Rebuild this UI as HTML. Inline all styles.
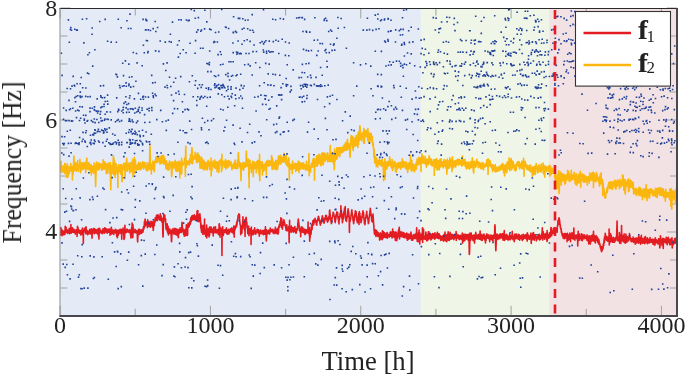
<!DOCTYPE html>
<html><head><meta charset="utf-8"><style>
html,body{margin:0;padding:0;background:#fff;}
svg{display:block;}
text{font-family:"Liberation Serif",serif;fill:#222;}
</style></head><body>
<svg width="685" height="379" viewBox="0 0 685 379">
<defs><filter id="bl" x="-2%" y="-2%" width="104%" height="104%"><feGaussianBlur stdDeviation="0.3"/></filter></defs>
<rect width="685" height="379" fill="#fff"/>
<g filter="url(#bl)">
<rect x="60.4" y="8.5" width="360.49" height="307.30" fill="#e4ebf6"/>
<rect x="420.89" y="8.5" width="128.31" height="307.30" fill="#eff5e7"/>
<rect x="549.2" y="8.5" width="127.80" height="307.30" fill="#f3e2e4"/>
<path d="M60.10 315.80v-10M60.10 8.50v10M135.26 315.80v-7M135.26 8.50v7M210.43 315.80v-10M210.43 8.50v10M285.59 315.80v-7M285.59 8.50v7M360.76 315.80v-10M360.76 8.50v10M435.93 315.80v-7M435.93 8.50v7M511.09 315.80v-10M511.09 8.50v10M586.25 315.80v-7M586.25 8.50v7M661.42 315.80v-10M661.42 8.50v10M60.40 316.00h7M677.00 316.00h-7M60.40 288.00h7M677.00 288.00h-7M60.40 260.00h7M677.00 260.00h-7M60.40 232.00h10M677.00 232.00h-10M60.40 204.00h7M677.00 204.00h-7M60.40 176.00h7M677.00 176.00h-7M60.40 148.00h7M677.00 148.00h-7M60.40 120.00h10M677.00 120.00h-10M60.40 92.00h7M677.00 92.00h-7M60.40 64.00h7M677.00 64.00h-7M60.40 36.00h7M677.00 36.00h-7M60.40 8.00h10M677.00 8.00h-10" stroke="#9a9a9a" stroke-width="0.9" fill="none"/>
<path d="M60.70 170.0 L60.85 170.2 L61.00 164.8 L61.15 161.2 L61.30 172.6 L61.45 170.5 L61.60 165.6 L61.75 167.6 L61.90 167.7 L62.05 166.8 L62.20 170.4 L62.35 167.0 L62.50 167.0 L62.65 166.1 L62.80 168.8 L62.95 167.8 L63.10 171.9 L63.25 166.5 L63.40 168.1 L63.55 166.2 L63.70 171.1 L63.85 169.3 L64.00 169.0 L64.15 168.5 L64.30 166.5 L64.45 169.2 L64.60 173.4 L64.75 163.6 L64.90 163.8 L65.05 163.6 L65.20 169.7 L65.35 172.0 L65.50 169.7 L65.65 172.0 L65.80 169.1 L65.95 169.4 L66.10 174.0 L66.25 170.9 L66.40 166.3 L66.55 169.5 L66.70 177.4 L66.85 170.3 L67.00 165.7 L67.15 163.8 L67.30 176.2 L67.45 173.7 L67.60 169.5 L67.75 174.5 L67.90 165.6 L68.05 177.1 L68.20 170.4 L68.35 167.3 L68.50 170.6 L68.65 172.1 L68.80 169.4 L68.95 170.2 L69.10 173.9 L69.25 170.2 L69.40 167.6 L69.55 167.4 L69.70 170.6 L69.85 168.2 L70.00 166.9 L70.15 170.4 L70.30 168.7 L70.45 166.3 L70.60 165.1 L70.75 163.5 L70.90 171.0 L71.05 168.4 L71.20 171.2 L71.35 167.9 L71.50 166.2 L71.65 170.4 L71.80 169.5 L71.95 166.4 L72.10 166.4 L72.25 171.7 L72.40 180.0 L72.55 169.5 L72.70 172.4 L72.85 174.1 L73.00 168.4 L73.15 174.1 L73.30 166.4 L73.45 167.4 L73.60 162.9 L73.75 159.4 L73.90 156.0 L74.05 160.1 L74.20 162.8 L74.35 169.9 L74.50 165.9 L74.65 170.8 L74.80 170.5 L74.95 168.3 L75.10 166.3 L75.25 166.8 L75.40 165.2 L75.55 165.4 L75.70 162.5 L75.85 165.7 L76.00 167.0 L76.15 170.4 L76.30 167.3 L76.45 171.3 L76.60 167.1 L76.75 166.3 L76.90 169.9 L77.05 163.9 L77.20 169.5 L77.35 164.6 L77.50 165.6 L77.65 160.6 L77.80 168.5 L77.95 167.7 L78.10 169.5 L78.25 171.2 L78.40 165.8 L78.55 166.1 L78.70 165.7 L78.85 166.0 L79.00 165.5 L79.15 166.3 L79.30 167.8 L79.45 164.8 L79.60 163.5 L79.75 164.1 L79.90 159.3 L80.05 165.1 L80.20 166.8 L80.35 172.4 L80.50 172.7 L80.65 165.6 L80.80 167.3 L80.95 166.1 L81.10 170.8 L81.25 167.1 L81.40 169.6 L81.55 164.7 L81.70 162.6 L81.85 167.4 L82.00 165.2 L82.15 167.8 L82.30 164.2 L82.45 167.3 L82.60 165.1 L82.75 169.3 L82.90 166.7 L83.05 169.5 L83.20 162.9 L83.35 166.3 L83.50 163.8 L83.65 169.0 L83.80 165.0 L83.95 167.0 L84.10 168.1 L84.25 166.7 L84.40 166.8 L84.55 165.8 L84.70 163.4 L84.85 167.2 L85.00 166.7 L85.15 162.4 L85.30 168.4 L85.45 165.7 L85.60 169.9 L85.75 172.7 L85.90 169.7 L86.05 166.8 L86.20 162.8 L86.35 166.9 L86.50 162.7 L86.65 159.0 L86.80 158.1 L86.95 161.1 L87.10 164.0 L87.25 165.4 L87.40 164.6 L87.55 169.2 L87.70 166.6 L87.85 165.0 L88.00 164.1 L88.15 165.0 L88.30 165.3 L88.45 169.6 L88.60 167.1 L88.75 165.1 L88.90 167.0 L89.05 162.6 L89.20 166.4 L89.35 168.1 L89.50 167.5 L89.65 164.4 L89.80 168.0 L89.95 169.3 L90.10 166.6 L90.25 166.5 L90.40 172.3 L90.55 166.6 L90.70 168.9 L90.85 165.9 L91.00 169.5 L91.15 164.9 L91.30 175.0 L91.45 171.6 L91.60 165.7 L91.75 165.7 L91.90 172.3 L92.05 170.9 L92.20 169.7 L92.35 170.5 L92.50 168.6 L92.65 170.6 L92.80 169.1 L92.95 170.5 L93.10 166.6 L93.25 170.9 L93.40 171.7 L93.55 166.3 L93.70 173.2 L93.85 169.7 L94.00 167.0 L94.15 163.1 L94.30 169.8 L94.45 170.4 L94.60 166.5 L94.75 166.3 L94.90 170.1 L95.05 166.4 L95.20 167.5 L95.35 176.4 L95.50 181.6 L95.65 186.5 L95.80 179.4 L95.95 175.3 L96.10 163.1 L96.25 171.6 L96.40 164.3 L96.55 164.7 L96.70 162.1 L96.85 167.2 L97.00 167.6 L97.15 169.0 L97.30 168.3 L97.45 164.0 L97.60 165.8 L97.75 165.4 L97.90 166.1 L98.05 169.9 L98.20 166.5 L98.35 167.1 L98.50 164.0 L98.65 167.4 L98.80 162.7 L98.95 165.9 L99.10 169.3 L99.25 169.5 L99.40 165.8 L99.55 165.7 L99.70 166.3 L99.85 168.1 L100.00 167.4 L100.15 164.3 L100.30 165.9 L100.45 164.4 L100.60 165.4 L100.75 164.5 L100.90 164.7 L101.05 163.8 L101.20 164.8 L101.35 166.2 L101.50 167.1 L101.65 170.5 L101.80 168.4 L101.95 166.7 L102.10 168.4 L102.25 164.9 L102.40 169.4 L102.55 168.1 L102.70 164.5 L102.85 166.2 L103.00 169.3 L103.15 159.8 L103.30 163.4 L103.45 168.5 L103.60 161.7 L103.75 164.6 L103.90 167.3 L104.05 168.6 L104.20 167.8 L104.35 169.1 L104.50 166.2 L104.65 167.2 L104.80 161.9 L104.95 165.5 L105.10 167.0 L105.25 163.1 L105.40 164.1 L105.55 166.6 L105.70 168.7 L105.85 168.7 L106.00 167.7 L106.15 163.7 L106.30 173.6 L106.45 171.6 L106.60 168.2 L106.75 166.2 L106.90 164.6 L107.05 170.0 L107.20 165.0 L107.35 173.2 L107.50 168.2 L107.65 172.8 L107.80 165.2 L107.95 168.4 L108.10 162.9 L108.25 163.6 L108.40 167.7 L108.55 168.3 L108.70 164.0 L108.85 166.8 L109.00 167.5 L109.15 164.2 L109.30 167.1 L109.45 167.8 L109.60 173.5 L109.75 163.6 L109.90 171.2 L110.05 170.2 L110.20 168.2 L110.35 162.5 L110.50 177.6 L110.65 182.6 L110.80 189.8 L110.95 181.2 L111.10 174.8 L111.25 168.6 L111.40 169.6 L111.55 167.5 L111.70 171.4 L111.85 166.4 L112.00 165.5 L112.15 172.9 L112.30 169.9 L112.45 168.7 L112.60 171.6 L112.75 169.9 L112.90 163.4 L113.05 169.4 L113.20 162.6 L113.35 155.9 L113.50 174.5 L113.65 163.3 L113.80 158.8 L113.95 158.2 L114.10 161.0 L114.25 164.0 L114.40 164.8 L114.55 161.2 L114.70 173.1 L114.85 163.6 L115.00 177.5 L115.15 173.1 L115.30 169.5 L115.45 174.6 L115.60 165.3 L115.75 170.2 L115.90 163.6 L116.05 163.6 L116.20 168.5 L116.35 167.1 L116.50 169.2 L116.65 170.0 L116.80 168.0 L116.95 171.6 L117.10 169.3 L117.25 173.7 L117.40 167.2 L117.55 168.8 L117.70 167.4 L117.85 187.4 L118.00 171.5 L118.15 168.1 L118.30 173.2 L118.45 164.7 L118.60 171.0 L118.75 167.6 L118.90 170.1 L119.05 167.8 L119.20 169.9 L119.35 168.1 L119.50 171.6 L119.65 168.6 L119.80 165.4 L119.95 166.4 L120.10 165.5 L120.25 164.8 L120.40 170.8 L120.55 171.9 L120.70 166.6 L120.85 174.2 L121.00 168.7 L121.15 164.9 L121.30 169.1 L121.45 168.6 L121.60 165.8 L121.75 174.3 L121.90 180.2 L122.05 181.8 L122.20 180.0 L122.35 173.3 L122.50 168.1 L122.65 166.2 L122.80 166.4 L122.95 165.3 L123.10 165.8 L123.25 166.4 L123.40 166.6 L123.55 163.5 L123.70 169.6 L123.85 167.5 L124.00 167.8 L124.15 168.8 L124.30 164.3 L124.45 167.4 L124.60 165.9 L124.75 169.8 L124.90 165.0 L125.05 178.4 L125.20 162.8 L125.35 165.1 L125.50 171.6 L125.65 169.5 L125.80 170.2 L125.95 169.7 L126.10 168.1 L126.25 170.3 L126.40 163.6 L126.55 160.4 L126.70 158.4 L126.85 161.3 L127.00 163.7 L127.15 165.9 L127.30 168.0 L127.45 171.2 L127.60 164.4 L127.75 165.2 L127.90 167.3 L128.05 165.6 L128.20 166.2 L128.35 169.1 L128.50 166.8 L128.65 169.0 L128.80 168.6 L128.95 166.0 L129.10 162.7 L129.25 165.5 L129.40 166.0 L129.55 166.4 L129.70 173.0 L129.85 170.5 L130.00 167.3 L130.15 166.4 L130.30 165.2 L130.45 164.2 L130.60 171.4 L130.75 166.9 L130.90 164.6 L131.05 162.5 L131.20 169.0 L131.35 165.7 L131.50 171.4 L131.65 163.3 L131.80 167.7 L131.95 165.8 L132.10 165.5 L132.25 166.0 L132.40 164.2 L132.55 159.3 L132.70 161.6 L132.85 161.9 L133.00 176.9 L133.15 170.5 L133.30 167.7 L133.45 164.6 L133.60 167.9 L133.75 167.0 L133.90 170.1 L134.05 169.3 L134.20 165.3 L134.35 157.4 L134.50 173.6 L134.65 164.2 L134.80 161.0 L134.95 163.3 L135.10 162.1 L135.25 165.8 L135.40 160.0 L135.55 167.7 L135.70 167.8 L135.85 165.5 L136.00 166.0 L136.15 167.7 L136.30 170.0 L136.45 165.9 L136.60 169.0 L136.75 168.1 L136.90 168.6 L137.05 168.7 L137.20 167.5 L137.35 165.1 L137.50 169.0 L137.65 169.7 L137.80 164.1 L137.95 165.7 L138.10 163.5 L138.25 167.2 L138.40 167.2 L138.55 165.5 L138.70 165.7 L138.85 162.3 L139.00 167.7 L139.15 169.7 L139.30 167.2 L139.45 169.0 L139.60 167.0 L139.75 165.0 L139.90 164.6 L140.05 165.0 L140.20 166.4 L140.35 165.9 L140.50 162.7 L140.65 169.7 L140.80 167.1 L140.95 169.8 L141.10 167.2 L141.25 168.7 L141.40 165.4 L141.55 166.7 L141.70 167.5 L141.85 165.8 L142.00 166.7 L142.15 166.6 L142.30 164.1 L142.45 165.5 L142.60 161.7 L142.75 166.6 L142.90 164.0 L143.05 165.1 L143.20 165.2 L143.35 165.7 L143.50 169.0 L143.65 165.7 L143.80 162.2 L143.95 165.1 L144.10 164.0 L144.25 166.9 L144.40 164.3 L144.55 165.4 L144.70 166.2 L144.85 164.2 L145.00 162.6 L145.15 166.6 L145.30 167.2 L145.45 168.1 L145.60 165.6 L145.75 165.9 L145.90 168.6 L146.05 167.2 L146.20 170.1 L146.35 168.3 L146.50 166.3 L146.65 169.2 L146.80 170.6 L146.95 166.4 L147.10 167.6 L147.25 162.6 L147.40 166.5 L147.55 166.2 L147.70 170.6 L147.85 168.3 L148.00 168.0 L148.15 166.0 L148.30 168.1 L148.45 167.3 L148.60 165.6 L148.75 163.3 L148.90 168.5 L149.05 169.2 L149.20 165.5 L149.35 167.0 L149.50 163.5 L149.65 158.1 L149.80 149.1 L149.95 145.2 L150.10 149.7 L150.25 157.7 L150.40 169.5 L150.55 163.0 L150.70 168.2 L150.85 166.5 L151.00 167.6 L151.15 166.3 L151.30 173.9 L151.45 165.4 L151.60 165.3 L151.75 165.0 L151.90 164.4 L152.05 166.3 L152.20 169.4 L152.35 167.1 L152.50 163.3 L152.65 165.4 L152.80 167.6 L152.95 161.1 L153.10 163.6 L153.25 166.6 L153.40 166.7 L153.55 168.4 L153.70 169.5 L153.85 161.8 L154.00 171.2 L154.15 168.4 L154.30 171.6 L154.45 169.7 L154.60 162.8 L154.75 161.8 L154.90 162.0 L155.05 162.4 L155.20 160.9 L155.35 160.6 L155.50 162.4 L155.65 160.0 L155.80 159.0 L155.95 158.3 L156.10 156.9 L156.25 162.8 L156.40 159.0 L156.55 157.2 L156.70 161.8 L156.85 159.6 L157.00 161.5 L157.15 162.5 L157.30 159.1 L157.45 158.9 L157.60 160.0 L157.75 161.0 L157.90 160.0 L158.05 160.2 L158.20 158.4 L158.35 160.8 L158.50 159.3 L158.65 157.7 L158.80 159.0 L158.95 159.2 L159.10 156.6 L159.25 162.3 L159.40 161.4 L159.55 158.7 L159.70 160.2 L159.85 157.6 L160.00 163.9 L160.15 161.6 L160.30 157.1 L160.45 158.0 L160.60 162.8 L160.75 161.8 L160.90 161.9 L161.05 163.6 L161.20 156.4 L161.35 159.8 L161.50 161.5 L161.65 155.6 L161.80 158.9 L161.95 161.3 L162.10 162.6 L162.25 159.2 L162.40 159.5 L162.55 163.0 L162.70 158.5 L162.85 155.8 L163.00 158.8 L163.15 157.9 L163.30 160.5 L163.45 157.3 L163.60 155.4 L163.75 164.2 L163.90 156.6 L164.05 158.6 L164.20 160.2 L164.35 161.6 L164.50 159.9 L164.65 161.3 L164.80 159.8 L164.95 158.3 L165.10 161.6 L165.25 161.8 L165.40 162.6 L165.55 165.1 L165.70 163.3 L165.85 167.0 L166.00 168.6 L166.15 161.0 L166.30 166.9 L166.45 165.1 L166.60 160.7 L166.75 167.1 L166.90 164.6 L167.05 165.3 L167.20 164.6 L167.35 169.1 L167.50 169.5 L167.65 166.5 L167.80 167.0 L167.95 169.0 L168.10 170.2 L168.25 163.9 L168.40 166.5 L168.55 165.7 L168.70 164.9 L168.85 169.1 L169.00 166.8 L169.15 167.0 L169.30 169.6 L169.45 161.1 L169.60 165.5 L169.75 163.7 L169.90 164.5 L170.05 162.0 L170.20 166.7 L170.35 165.3 L170.50 163.0 L170.65 163.7 L170.80 164.1 L170.95 164.4 L171.10 167.5 L171.25 165.8 L171.40 171.9 L171.55 175.5 L171.70 176.6 L171.85 174.3 L172.00 171.0 L172.15 161.7 L172.30 164.4 L172.45 167.7 L172.60 167.6 L172.75 166.3 L172.90 166.6 L173.05 164.9 L173.20 163.5 L173.35 166.9 L173.50 168.2 L173.65 165.7 L173.80 163.5 L173.95 167.8 L174.10 167.3 L174.25 161.7 L174.40 164.6 L174.55 166.3 L174.70 167.5 L174.85 167.5 L175.00 167.9 L175.15 165.6 L175.30 160.4 L175.45 162.5 L175.60 164.9 L175.75 170.7 L175.90 168.7 L176.05 164.3 L176.20 166.4 L176.35 163.7 L176.50 171.2 L176.65 162.4 L176.80 164.6 L176.95 165.9 L177.10 171.5 L177.25 167.2 L177.40 166.2 L177.55 169.2 L177.70 165.0 L177.85 169.6 L178.00 166.7 L178.15 161.9 L178.30 166.4 L178.45 163.6 L178.60 163.6 L178.75 165.0 L178.90 171.3 L179.05 166.9 L179.20 161.4 L179.35 171.0 L179.50 162.5 L179.65 161.2 L179.80 178.0 L179.95 165.1 L180.10 170.5 L180.25 162.8 L180.40 162.8 L180.55 162.8 L180.70 162.8 L180.85 172.0 L181.00 163.8 L181.15 162.9 L181.30 163.3 L181.45 174.1 L181.60 158.3 L181.75 173.3 L181.90 161.5 L182.05 160.7 L182.20 165.0 L182.35 164.9 L182.50 164.7 L182.65 165.1 L182.80 165.3 L182.95 164.0 L183.10 163.6 L183.25 164.6 L183.40 163.7 L183.55 163.0 L183.70 163.7 L183.85 163.9 L184.00 162.8 L184.15 162.9 L184.30 160.5 L184.45 162.8 L184.60 158.0 L184.75 162.2 L184.90 158.3 L185.05 157.3 L185.20 166.9 L185.35 176.5 L185.50 161.2 L185.65 148.1 L185.80 146.3 L185.95 161.7 L186.10 164.9 L186.25 167.5 L186.40 164.0 L186.55 161.7 L186.70 160.9 L186.85 162.3 L187.00 164.7 L187.15 162.6 L187.30 164.1 L187.45 164.2 L187.60 163.9 L187.75 164.2 L187.90 163.8 L188.05 161.3 L188.20 162.8 L188.35 163.1 L188.50 164.5 L188.65 161.3 L188.80 162.0 L188.95 164.6 L189.10 162.5 L189.25 164.9 L189.40 160.2 L189.55 161.5 L189.70 158.9 L189.85 161.5 L190.00 158.6 L190.15 160.4 L190.30 162.3 L190.45 160.9 L190.60 154.5 L190.75 159.9 L190.90 157.8 L191.05 156.9 L191.20 157.3 L191.35 157.5 L191.50 163.4 L191.65 153.1 L191.80 149.0 L191.95 147.6 L192.10 149.3 L192.25 153.1 L192.40 159.0 L192.55 160.8 L192.70 163.7 L192.85 155.7 L193.00 160.7 L193.15 157.1 L193.30 158.0 L193.45 158.4 L193.60 158.5 L193.75 156.7 L193.90 157.0 L194.05 157.9 L194.20 157.4 L194.35 158.7 L194.50 158.8 L194.65 157.0 L194.80 158.5 L194.95 158.8 L195.10 152.2 L195.25 156.5 L195.40 155.9 L195.55 157.1 L195.70 155.2 L195.85 153.5 L196.00 156.2 L196.15 158.5 L196.30 158.2 L196.45 162.5 L196.60 158.8 L196.75 162.4 L196.90 159.6 L197.05 155.1 L197.20 159.9 L197.35 162.7 L197.50 162.6 L197.65 159.2 L197.80 152.9 L197.95 158.9 L198.10 158.1 L198.25 159.3 L198.40 155.6 L198.55 154.7 L198.70 161.1 L198.85 158.2 L199.00 155.6 L199.15 157.3 L199.30 155.6 L199.45 159.7 L199.60 161.7 L199.75 160.9 L199.90 165.8 L200.05 168.2 L200.20 166.3 L200.35 159.9 L200.50 166.4 L200.65 165.2 L200.80 167.6 L200.95 165.3 L201.10 157.1 L201.25 164.0 L201.40 165.6 L201.55 168.3 L201.70 167.2 L201.85 168.2 L202.00 158.0 L202.15 168.2 L202.30 163.3 L202.45 165.9 L202.60 167.1 L202.75 162.7 L202.90 166.6 L203.05 161.0 L203.20 165.6 L203.35 165.9 L203.50 169.8 L203.65 166.3 L203.80 160.1 L203.95 167.3 L204.10 164.9 L204.25 169.7 L204.40 162.8 L204.55 162.9 L204.70 169.8 L204.85 164.6 L205.00 165.7 L205.15 162.3 L205.30 164.8 L205.45 163.2 L205.60 166.6 L205.75 162.6 L205.90 162.6 L206.05 168.7 L206.20 165.8 L206.35 167.5 L206.50 165.2 L206.65 168.3 L206.80 164.9 L206.95 170.0 L207.10 163.0 L207.25 169.7 L207.40 164.1 L207.55 166.6 L207.70 162.0 L207.85 166.8 L208.00 161.1 L208.15 160.2 L208.30 163.3 L208.45 162.6 L208.60 165.7 L208.75 166.2 L208.90 163.3 L209.05 166.2 L209.20 163.2 L209.35 164.2 L209.50 164.9 L209.65 169.7 L209.80 163.8 L209.95 162.0 L210.10 166.4 L210.25 165.5 L210.40 166.6 L210.55 161.5 L210.70 163.7 L210.85 165.8 L211.00 158.0 L211.15 175.9 L211.30 168.5 L211.45 164.7 L211.60 165.7 L211.75 164.2 L211.90 170.8 L212.05 165.5 L212.20 163.8 L212.35 166.2 L212.50 164.8 L212.65 163.6 L212.80 163.7 L212.95 162.8 L213.10 161.0 L213.25 163.7 L213.40 161.3 L213.55 162.0 L213.70 163.6 L213.85 165.9 L214.00 167.6 L214.15 164.4 L214.30 164.8 L214.45 166.8 L214.60 164.1 L214.75 160.1 L214.90 161.0 L215.05 167.9 L215.20 166.6 L215.35 167.0 L215.50 164.2 L215.65 168.0 L215.80 168.3 L215.95 165.3 L216.10 165.3 L216.25 162.1 L216.40 168.6 L216.55 162.1 L216.70 166.4 L216.85 167.0 L217.00 164.7 L217.15 171.8 L217.30 166.5 L217.45 166.3 L217.60 167.1 L217.75 165.4 L217.90 162.1 L218.05 168.3 L218.20 165.7 L218.35 163.6 L218.50 166.7 L218.65 162.6 L218.80 172.4 L218.95 164.3 L219.10 169.3 L219.25 160.8 L219.40 161.0 L219.55 160.9 L219.70 162.7 L219.85 162.5 L220.00 160.3 L220.15 160.2 L220.30 161.2 L220.45 162.0 L220.60 160.1 L220.75 163.0 L220.90 163.7 L221.05 164.8 L221.20 166.0 L221.35 167.0 L221.50 171.8 L221.65 157.4 L221.80 158.9 L221.95 154.2 L222.10 169.7 L222.25 160.4 L222.40 161.8 L222.55 164.0 L222.70 160.9 L222.85 161.9 L223.00 164.8 L223.15 164.4 L223.30 164.4 L223.45 163.5 L223.60 163.2 L223.75 163.9 L223.90 163.7 L224.05 162.3 L224.20 167.2 L224.35 161.2 L224.50 162.7 L224.65 164.8 L224.80 164.3 L224.95 166.4 L225.10 165.5 L225.25 161.4 L225.40 163.7 L225.55 159.6 L225.70 164.5 L225.85 169.1 L226.00 161.8 L226.15 163.8 L226.30 164.5 L226.45 161.0 L226.60 163.2 L226.75 161.5 L226.90 162.8 L227.05 164.9 L227.20 165.7 L227.35 166.8 L227.50 162.3 L227.65 167.9 L227.80 165.2 L227.95 164.4 L228.10 160.9 L228.25 163.4 L228.40 166.5 L228.55 166.6 L228.70 162.8 L228.85 164.9 L229.00 160.2 L229.15 164.8 L229.30 164.3 L229.45 164.4 L229.60 162.3 L229.75 163.9 L229.90 162.9 L230.05 165.1 L230.20 164.4 L230.35 162.5 L230.50 164.0 L230.65 162.4 L230.80 162.7 L230.95 161.6 L231.10 164.2 L231.25 166.9 L231.40 164.9 L231.55 164.0 L231.70 166.4 L231.85 169.6 L232.00 167.6 L232.15 166.9 L232.30 168.9 L232.45 165.0 L232.60 168.7 L232.75 167.0 L232.90 164.7 L233.05 167.8 L233.20 166.3 L233.35 166.6 L233.50 168.0 L233.65 164.7 L233.80 163.8 L233.95 165.4 L234.10 162.5 L234.25 168.2 L234.40 167.1 L234.55 166.9 L234.70 166.1 L234.85 164.7 L235.00 167.0 L235.15 160.1 L235.30 165.8 L235.45 164.7 L235.60 168.5 L235.75 166.8 L235.90 167.2 L236.05 165.6 L236.20 166.8 L236.35 164.0 L236.50 165.6 L236.65 164.6 L236.80 168.2 L236.95 164.8 L237.10 163.9 L237.25 168.8 L237.40 160.4 L237.55 163.2 L237.70 168.5 L237.85 165.9 L238.00 161.9 L238.15 159.5 L238.30 153.0 L238.45 152.7 L238.60 156.3 L238.75 160.0 L238.90 165.7 L239.05 165.7 L239.20 161.3 L239.35 165.4 L239.50 165.2 L239.65 166.8 L239.80 162.8 L239.95 166.5 L240.10 164.5 L240.25 167.2 L240.40 168.1 L240.55 163.4 L240.70 171.5 L240.85 175.7 L241.00 180.6 L241.15 176.2 L241.30 170.5 L241.45 165.1 L241.60 169.6 L241.75 166.4 L241.90 164.3 L242.05 167.7 L242.20 169.1 L242.35 163.4 L242.50 167.7 L242.65 166.4 L242.80 165.8 L242.95 165.6 L243.10 162.4 L243.25 163.2 L243.40 165.5 L243.55 164.6 L243.70 170.3 L243.85 163.3 L244.00 165.9 L244.15 164.6 L244.30 164.5 L244.45 167.1 L244.60 163.1 L244.75 167.3 L244.90 164.6 L245.05 164.1 L245.20 167.2 L245.35 163.9 L245.50 166.9 L245.65 166.1 L245.80 162.0 L245.95 162.7 L246.10 158.3 L246.25 153.5 L246.40 151.0 L246.55 155.0 L246.70 160.0 L246.85 164.7 L247.00 166.5 L247.15 164.4 L247.30 161.7 L247.45 164.1 L247.60 159.8 L247.75 161.9 L247.90 165.9 L248.05 163.8 L248.20 165.7 L248.35 160.8 L248.50 159.1 L248.65 162.8 L248.80 176.9 L248.95 161.0 L249.10 187.8 L249.25 160.7 L249.40 161.4 L249.55 167.1 L249.70 165.4 L249.85 167.0 L250.00 160.2 L250.15 168.6 L250.30 168.0 L250.45 164.9 L250.60 168.7 L250.75 166.3 L250.90 168.5 L251.05 168.1 L251.20 165.9 L251.35 172.8 L251.50 169.5 L251.65 164.2 L251.80 163.9 L251.95 164.5 L252.10 165.1 L252.25 168.5 L252.40 169.0 L252.55 165.2 L252.70 169.4 L252.85 161.2 L253.00 165.9 L253.15 170.1 L253.30 176.8 L253.45 166.7 L253.60 165.9 L253.75 168.0 L253.90 167.1 L254.05 169.0 L254.20 164.7 L254.35 162.0 L254.50 165.6 L254.65 167.6 L254.80 166.7 L254.95 167.7 L255.10 168.2 L255.25 167.2 L255.40 166.7 L255.55 165.2 L255.70 167.8 L255.85 163.5 L256.00 164.9 L256.15 167.1 L256.30 172.8 L256.45 161.9 L256.60 166.7 L256.75 161.5 L256.90 164.3 L257.05 165.9 L257.20 162.3 L257.35 168.9 L257.50 166.6 L257.65 167.2 L257.80 160.4 L257.95 160.6 L258.10 165.4 L258.25 165.8 L258.40 166.6 L258.55 166.7 L258.70 163.2 L258.85 162.4 L259.00 174.8 L259.15 165.5 L259.30 164.3 L259.45 166.1 L259.60 154.4 L259.75 180.8 L259.90 174.5 L260.05 171.5 L260.20 163.2 L260.35 165.8 L260.50 164.6 L260.65 165.4 L260.80 161.8 L260.95 164.7 L261.10 165.6 L261.25 165.7 L261.40 168.1 L261.55 168.3 L261.70 165.1 L261.85 163.9 L262.00 162.6 L262.15 165.2 L262.30 161.8 L262.45 174.9 L262.60 165.0 L262.75 169.4 L262.90 167.7 L263.05 165.1 L263.20 165.0 L263.35 166.1 L263.50 164.5 L263.65 171.3 L263.80 167.9 L263.95 164.3 L264.10 169.0 L264.25 166.3 L264.40 167.5 L264.55 165.6 L264.70 165.5 L264.85 166.1 L265.00 165.5 L265.15 169.6 L265.30 163.3 L265.45 163.3 L265.60 169.6 L265.75 164.4 L265.90 165.8 L266.05 161.9 L266.20 166.9 L266.35 175.1 L266.50 168.1 L266.65 165.3 L266.80 162.6 L266.95 161.4 L267.10 163.5 L267.25 165.0 L267.40 160.3 L267.55 161.4 L267.70 165.8 L267.85 163.3 L268.00 164.4 L268.15 162.2 L268.30 162.6 L268.45 164.8 L268.60 165.7 L268.75 164.1 L268.90 166.3 L269.05 164.6 L269.20 160.6 L269.35 162.2 L269.50 162.8 L269.65 165.4 L269.80 162.0 L269.95 161.9 L270.10 162.5 L270.25 161.4 L270.40 161.1 L270.55 162.2 L270.70 165.1 L270.85 163.5 L271.00 162.1 L271.15 163.8 L271.30 161.7 L271.45 164.9 L271.60 155.6 L271.75 161.3 L271.90 159.4 L272.05 169.1 L272.20 157.8 L272.35 164.8 L272.50 168.0 L272.65 169.4 L272.80 159.7 L272.95 163.0 L273.10 162.8 L273.25 164.2 L273.40 165.3 L273.55 168.5 L273.70 168.6 L273.85 167.8 L274.00 162.8 L274.15 166.0 L274.30 163.3 L274.45 164.9 L274.60 164.8 L274.75 167.3 L274.90 164.7 L275.05 162.1 L275.20 169.3 L275.35 165.8 L275.50 165.3 L275.65 167.0 L275.80 160.4 L275.95 164.3 L276.10 163.9 L276.25 169.8 L276.40 163.3 L276.55 165.2 L276.70 162.6 L276.85 161.5 L277.00 161.0 L277.15 164.1 L277.30 164.2 L277.45 168.2 L277.60 169.1 L277.75 162.4 L277.90 166.5 L278.05 166.0 L278.20 158.0 L278.35 156.8 L278.50 163.8 L278.65 162.6 L278.80 162.6 L278.95 158.6 L279.10 155.9 L279.25 159.9 L279.40 163.9 L279.55 159.1 L279.70 159.6 L279.85 160.1 L280.00 162.3 L280.15 159.6 L280.30 158.3 L280.45 158.4 L280.60 155.3 L280.75 164.1 L280.90 162.3 L281.05 158.1 L281.20 160.9 L281.35 162.1 L281.50 159.9 L281.65 160.1 L281.80 162.3 L281.95 157.2 L282.10 159.0 L282.25 159.6 L282.40 160.6 L282.55 159.1 L282.70 160.1 L282.85 160.7 L283.00 157.0 L283.15 159.1 L283.30 158.5 L283.45 162.1 L283.60 157.0 L283.75 157.2 L283.90 154.6 L284.05 153.2 L284.20 154.5 L284.35 157.7 L284.50 161.6 L284.65 157.5 L284.80 159.5 L284.95 160.1 L285.10 156.6 L285.25 160.5 L285.40 158.8 L285.55 159.9 L285.70 162.7 L285.85 164.0 L286.00 157.7 L286.15 161.3 L286.30 155.2 L286.45 163.3 L286.60 163.9 L286.75 159.4 L286.90 162.5 L287.05 165.6 L287.20 164.6 L287.35 162.0 L287.50 164.6 L287.65 163.9 L287.80 165.2 L287.95 165.8 L288.10 165.4 L288.25 166.9 L288.40 162.6 L288.55 159.7 L288.70 160.1 L288.85 157.9 L289.00 165.3 L289.15 167.0 L289.30 180.3 L289.45 171.2 L289.60 166.1 L289.75 164.4 L289.90 163.8 L290.05 169.3 L290.20 167.9 L290.35 164.7 L290.50 168.8 L290.65 166.4 L290.80 167.2 L290.95 164.7 L291.10 165.3 L291.25 168.4 L291.40 165.0 L291.55 167.9 L291.70 168.0 L291.85 169.4 L292.00 170.2 L292.15 164.7 L292.30 173.7 L292.45 167.3 L292.60 161.0 L292.75 167.4 L292.90 168.9 L293.05 168.9 L293.20 167.4 L293.35 166.0 L293.50 164.4 L293.65 166.1 L293.80 166.9 L293.95 164.8 L294.10 168.5 L294.25 166.7 L294.40 168.2 L294.55 163.8 L294.70 164.0 L294.85 165.8 L295.00 167.5 L295.15 163.2 L295.30 166.3 L295.45 166.3 L295.60 167.5 L295.75 171.4 L295.90 164.7 L296.05 165.2 L296.20 170.4 L296.35 167.8 L296.50 163.9 L296.65 165.8 L296.80 169.0 L296.95 170.2 L297.10 166.8 L297.25 169.3 L297.40 164.4 L297.55 165.9 L297.70 167.9 L297.85 164.2 L298.00 167.5 L298.15 161.2 L298.30 170.4 L298.45 168.4 L298.60 167.2 L298.75 161.3 L298.90 163.6 L299.05 172.8 L299.20 168.3 L299.35 165.1 L299.50 165.4 L299.65 168.9 L299.80 162.9 L299.95 163.9 L300.10 166.3 L300.25 166.0 L300.40 169.1 L300.55 165.3 L300.70 165.5 L300.85 165.4 L301.00 162.9 L301.15 163.6 L301.30 166.0 L301.45 165.3 L301.60 165.2 L301.75 165.2 L301.90 167.1 L302.05 166.8 L302.20 168.6 L302.35 167.1 L302.50 163.6 L302.65 168.3 L302.80 163.4 L302.95 167.8 L303.10 166.3 L303.25 167.6 L303.40 168.9 L303.55 162.7 L303.70 168.5 L303.85 168.1 L304.00 165.2 L304.15 167.2 L304.30 165.3 L304.45 167.0 L304.60 164.6 L304.75 168.1 L304.90 168.1 L305.05 167.8 L305.20 166.7 L305.35 169.4 L305.50 170.1 L305.65 165.9 L305.80 164.7 L305.95 164.8 L306.10 167.6 L306.25 169.8 L306.40 163.1 L306.55 161.4 L306.70 166.8 L306.85 165.9 L307.00 167.6 L307.15 167.1 L307.30 166.7 L307.45 166.4 L307.60 167.2 L307.75 167.4 L307.90 170.4 L308.05 166.7 L308.20 164.8 L308.35 169.9 L308.50 167.6 L308.65 165.1 L308.80 162.4 L308.95 153.5 L309.10 167.7 L309.25 175.8 L309.40 169.0 L309.55 172.6 L309.70 168.3 L309.85 169.6 L310.00 166.9 L310.15 166.4 L310.30 166.7 L310.45 171.7 L310.60 171.9 L310.75 167.6 L310.90 167.7 L311.05 167.3 L311.20 166.7 L311.35 163.8 L311.50 164.1 L311.65 166.0 L311.80 165.6 L311.95 162.7 L312.10 163.6 L312.25 167.3 L312.40 165.1 L312.55 164.7 L312.70 160.3 L312.85 165.0 L313.00 162.2 L313.15 160.0 L313.30 158.5 L313.45 166.1 L313.60 165.5 L313.75 161.2 L313.90 165.5 L314.05 164.0 L314.20 158.6 L314.35 167.2 L314.50 180.2 L314.65 160.2 L314.80 169.1 L314.95 166.2 L315.10 160.7 L315.25 162.1 L315.40 164.9 L315.55 162.8 L315.70 163.2 L315.85 166.3 L316.00 161.3 L316.15 158.7 L316.30 162.3 L316.45 156.7 L316.60 160.4 L316.75 158.5 L316.90 155.8 L317.05 161.2 L317.20 159.0 L317.35 163.9 L317.50 166.2 L317.65 160.0 L317.80 161.9 L317.95 159.6 L318.10 157.3 L318.25 155.2 L318.40 157.3 L318.55 161.3 L318.70 158.6 L318.85 163.8 L319.00 158.3 L319.15 154.2 L319.30 159.2 L319.45 156.3 L319.60 158.9 L319.75 160.0 L319.90 163.4 L320.05 159.7 L320.20 163.1 L320.35 156.0 L320.50 158.4 L320.65 158.8 L320.80 165.8 L320.95 160.4 L321.10 163.7 L321.25 160.9 L321.40 153.7 L321.55 156.8 L321.70 158.8 L321.85 164.9 L322.00 159.1 L322.15 154.7 L322.30 156.7 L322.45 160.7 L322.60 152.7 L322.75 160.1 L322.90 155.2 L323.05 160.7 L323.20 157.3 L323.35 164.8 L323.50 153.4 L323.65 160.5 L323.80 155.4 L323.95 162.0 L324.10 157.7 L324.25 160.4 L324.40 159.1 L324.55 156.6 L324.70 156.0 L324.85 155.5 L325.00 153.0 L325.15 157.8 L325.30 160.9 L325.45 160.6 L325.60 160.4 L325.75 156.5 L325.90 159.7 L326.05 155.1 L326.20 158.8 L326.35 159.1 L326.50 156.1 L326.65 156.3 L326.80 157.8 L326.95 158.6 L327.10 156.5 L327.25 153.2 L327.40 158.2 L327.55 152.7 L327.70 162.0 L327.85 158.1 L328.00 153.9 L328.15 157.9 L328.30 158.9 L328.45 157.7 L328.60 155.8 L328.75 155.9 L328.90 156.1 L329.05 158.3 L329.20 156.1 L329.35 161.4 L329.50 159.5 L329.65 161.0 L329.80 159.9 L329.95 158.3 L330.10 154.5 L330.25 145.6 L330.40 151.8 L330.55 161.4 L330.70 153.6 L330.85 156.3 L331.00 153.9 L331.15 156.7 L331.30 154.7 L331.45 158.8 L331.60 156.1 L331.75 155.6 L331.90 156.4 L332.05 162.0 L332.20 157.7 L332.35 158.3 L332.50 152.6 L332.65 155.7 L332.80 158.0 L332.95 152.9 L333.10 160.1 L333.25 155.2 L333.40 156.2 L333.55 157.7 L333.70 163.6 L333.85 164.8 L334.00 158.2 L334.15 157.3 L334.30 169.8 L334.45 166.4 L334.60 149.1 L334.75 159.3 L334.90 154.5 L335.05 159.2 L335.20 161.0 L335.35 159.5 L335.50 152.6 L335.65 154.1 L335.80 156.0 L335.95 154.9 L336.10 151.6 L336.25 158.5 L336.40 151.9 L336.55 159.2 L336.70 147.7 L336.85 154.8 L337.00 150.6 L337.15 158.3 L337.30 157.0 L337.45 154.4 L337.60 155.1 L337.75 152.2 L337.90 154.4 L338.05 152.7 L338.20 150.3 L338.35 147.7 L338.50 150.4 L338.65 155.4 L338.80 147.8 L338.95 151.0 L339.10 151.2 L339.25 149.3 L339.40 153.2 L339.55 153.3 L339.70 156.6 L339.85 155.7 L340.00 147.9 L340.15 153.9 L340.30 150.1 L340.45 152.7 L340.60 149.9 L340.75 147.4 L340.90 149.8 L341.05 149.0 L341.20 147.9 L341.35 149.9 L341.50 151.8 L341.65 150.7 L341.80 152.8 L341.95 147.9 L342.10 151.3 L342.25 151.4 L342.40 148.0 L342.55 151.2 L342.70 149.8 L342.85 149.5 L343.00 148.2 L343.15 151.9 L343.30 147.0 L343.45 146.0 L343.60 146.7 L343.75 148.2 L343.90 147.8 L344.05 148.8 L344.20 145.3 L344.35 144.7 L344.50 150.5 L344.65 145.7 L344.80 150.6 L344.95 150.7 L345.10 150.2 L345.25 147.9 L345.40 142.9 L345.55 146.6 L345.70 145.0 L345.85 145.4 L346.00 146.1 L346.15 146.8 L346.30 145.3 L346.45 145.9 L346.60 150.1 L346.75 146.2 L346.90 141.2 L347.05 146.8 L347.20 149.9 L347.35 142.6 L347.50 139.2 L347.65 145.0 L347.80 146.2 L347.95 147.0 L348.10 148.9 L348.25 144.3 L348.40 145.3 L348.55 146.4 L348.70 144.5 L348.85 143.5 L349.00 146.1 L349.15 144.7 L349.30 143.8 L349.45 144.0 L349.60 146.9 L349.75 151.0 L349.90 155.5 L350.05 157.1 L350.20 156.2 L350.35 149.7 L350.50 145.1 L350.65 144.0 L350.80 140.9 L350.95 138.1 L351.10 135.6 L351.25 137.5 L351.40 141.5 L351.55 136.5 L351.70 141.0 L351.85 143.8 L352.00 140.2 L352.15 146.0 L352.30 143.5 L352.45 136.4 L352.60 144.9 L352.75 148.5 L352.90 141.1 L353.05 141.5 L353.20 150.6 L353.35 149.1 L353.50 138.3 L353.65 143.9 L353.80 145.8 L353.95 137.8 L354.10 143.4 L354.25 145.0 L354.40 145.7 L354.55 143.8 L354.70 142.0 L354.85 144.1 L355.00 145.0 L355.15 146.3 L355.30 140.9 L355.45 143.2 L355.60 143.6 L355.75 137.6 L355.90 142.5 L356.05 143.5 L356.20 135.6 L356.35 145.1 L356.50 140.4 L356.65 145.0 L356.80 145.5 L356.95 140.9 L357.10 138.2 L357.25 140.0 L357.40 136.7 L357.55 145.0 L357.70 140.3 L357.85 147.5 L358.00 133.4 L358.15 144.8 L358.30 137.9 L358.45 132.1 L358.60 144.2 L358.75 134.6 L358.90 140.9 L359.05 134.0 L359.20 139.4 L359.35 140.8 L359.50 136.4 L359.65 131.4 L359.80 126.3 L359.95 125.8 L360.10 128.0 L360.25 131.5 L360.40 137.3 L360.55 138.5 L360.70 138.3 L360.85 138.3 L361.00 139.8 L361.15 135.4 L361.30 136.2 L361.45 136.5 L361.60 138.8 L361.75 140.7 L361.90 133.2 L362.05 134.5 L362.20 137.8 L362.35 133.8 L362.50 137.0 L362.65 137.1 L362.80 133.7 L362.95 132.2 L363.10 132.4 L363.25 136.6 L363.40 138.4 L363.55 134.9 L363.70 143.3 L363.85 128.4 L364.00 132.6 L364.15 134.9 L364.30 130.5 L364.45 143.1 L364.60 134.1 L364.75 132.8 L364.90 131.9 L365.05 135.9 L365.20 133.2 L365.35 134.1 L365.50 136.6 L365.65 132.4 L365.80 130.4 L365.95 132.7 L366.10 135.0 L366.25 130.6 L366.40 136.7 L366.55 134.0 L366.70 135.7 L366.85 133.7 L367.00 132.3 L367.15 134.4 L367.30 136.0 L367.45 132.1 L367.60 133.1 L367.75 140.5 L367.90 128.5 L368.05 138.7 L368.20 135.7 L368.35 135.3 L368.50 135.6 L368.65 134.6 L368.80 142.5 L368.95 132.6 L369.10 135.3 L369.25 137.7 L369.40 136.0 L369.55 135.9 L369.70 137.0 L369.85 134.5 L370.00 141.8 L370.15 133.9 L370.30 135.4 L370.45 138.6 L370.60 138.1 L370.75 137.7 L370.90 135.5 L371.05 138.7 L371.20 133.2 L371.35 136.5 L371.50 137.8 L371.65 137.4 L371.80 138.9 L371.95 141.5 L372.10 139.2 L372.25 136.5 L372.40 141.2 L372.55 144.1 L372.70 143.1 L372.85 146.3 L373.00 142.5 L373.15 145.7 L373.30 144.1 L373.45 147.9 L373.60 148.7 L373.75 150.7 L373.90 156.9 L374.05 148.8 L374.20 151.3 L374.35 152.3 L374.50 157.3 L374.65 159.2 L374.80 163.0 L374.95 156.2 L375.10 159.7 L375.25 160.6 L375.40 157.5 L375.55 156.7 L375.70 158.4 L375.85 161.2 L376.00 162.5 L376.15 159.6 L376.30 166.5 L376.45 164.6 L376.60 158.2 L376.75 161.0 L376.90 165.4 L377.05 165.5 L377.20 164.4 L377.35 160.6 L377.50 163.1 L377.65 167.1 L377.80 164.6 L377.95 162.9 L378.10 163.6 L378.25 163.8 L378.40 161.1 L378.55 161.5 L378.70 164.1 L378.85 162.2 L379.00 162.0 L379.15 164.4 L379.30 159.0 L379.45 164.6 L379.60 160.5 L379.75 164.2 L379.90 161.8 L380.05 163.4 L380.20 162.4 L380.35 161.3 L380.50 161.5 L380.65 163.0 L380.80 160.6 L380.95 161.6 L381.10 165.6 L381.25 164.9 L381.40 166.2 L381.55 160.8 L381.70 159.7 L381.85 160.8 L382.00 165.1 L382.15 165.7 L382.30 159.7 L382.45 166.0 L382.60 163.0 L382.75 162.3 L382.90 164.0 L383.05 164.1 L383.20 163.4 L383.35 170.4 L383.50 176.6 L383.65 180.6 L383.80 177.5 L383.95 169.7 L384.10 165.2 L384.25 162.4 L384.40 167.7 L384.55 162.9 L384.70 166.3 L384.85 158.9 L385.00 175.6 L385.15 179.0 L385.30 174.8 L385.45 161.5 L385.60 169.4 L385.75 167.6 L385.90 161.9 L386.05 163.2 L386.20 165.0 L386.35 168.2 L386.50 166.3 L386.65 166.3 L386.80 169.0 L386.95 163.4 L387.10 167.8 L387.25 165.2 L387.40 164.6 L387.55 165.0 L387.70 161.5 L387.85 164.1 L388.00 164.4 L388.15 166.3 L388.30 164.1 L388.45 161.5 L388.60 164.5 L388.75 161.8 L388.90 165.4 L389.05 164.9 L389.20 164.6 L389.35 163.3 L389.50 161.0 L389.65 156.7 L389.80 159.4 L389.95 158.5 L390.10 164.2 L390.25 161.5 L390.40 163.6 L390.55 165.3 L390.70 166.0 L390.85 162.7 L391.00 165.0 L391.15 164.4 L391.30 167.9 L391.45 163.0 L391.60 166.0 L391.75 164.7 L391.90 163.4 L392.05 159.5 L392.20 161.5 L392.35 162.2 L392.50 164.4 L392.65 170.6 L392.80 165.7 L392.95 162.1 L393.10 163.2 L393.25 167.1 L393.40 162.4 L393.55 167.8 L393.70 163.6 L393.85 164.9 L394.00 166.3 L394.15 164.2 L394.30 165.2 L394.45 163.9 L394.60 161.6 L394.75 161.4 L394.90 163.9 L395.05 166.1 L395.20 162.9 L395.35 164.0 L395.50 171.5 L395.65 163.7 L395.80 166.2 L395.95 168.6 L396.10 169.3 L396.25 172.1 L396.40 168.9 L396.55 167.6 L396.70 169.2 L396.85 164.7 L397.00 163.4 L397.15 165.6 L397.30 168.1 L397.45 165.1 L397.60 165.3 L397.75 167.1 L397.90 167.6 L398.05 168.1 L398.20 164.8 L398.35 164.5 L398.50 162.5 L398.65 165.2 L398.80 165.6 L398.95 167.1 L399.10 165.9 L399.25 164.7 L399.40 167.3 L399.55 163.7 L399.70 163.7 L399.85 162.7 L400.00 163.9 L400.15 165.4 L400.30 163.4 L400.45 164.7 L400.60 169.2 L400.75 162.2 L400.90 163.8 L401.05 164.1 L401.20 166.0 L401.35 166.9 L401.50 163.3 L401.65 163.0 L401.80 163.1 L401.95 165.3 L402.10 163.7 L402.25 158.9 L402.40 166.6 L402.55 164.2 L402.70 164.9 L402.85 167.4 L403.00 164.3 L403.15 165.7 L403.30 161.3 L403.45 164.7 L403.60 165.5 L403.75 166.4 L403.90 162.9 L404.05 165.5 L404.20 165.5 L404.35 166.0 L404.50 162.7 L404.65 161.9 L404.80 166.5 L404.95 165.7 L405.10 165.4 L405.25 167.1 L405.40 167.7 L405.55 163.1 L405.70 167.2 L405.85 168.8 L406.00 167.5 L406.15 166.6 L406.30 166.9 L406.45 162.1 L406.60 165.0 L406.75 168.5 L406.90 169.3 L407.05 166.4 L407.20 164.8 L407.35 166.1 L407.50 165.9 L407.65 172.6 L407.80 166.2 L407.95 164.2 L408.10 165.5 L408.25 165.5 L408.40 169.4 L408.55 167.2 L408.70 165.2 L408.85 165.8 L409.00 162.9 L409.15 163.2 L409.30 164.3 L409.45 164.8 L409.60 165.2 L409.75 166.5 L409.90 165.6 L410.05 168.6 L410.20 165.0 L410.35 164.4 L410.50 155.4 L410.65 165.6 L410.80 167.5 L410.95 163.0 L411.10 164.9 L411.25 163.7 L411.40 171.3 L411.55 166.4 L411.70 167.6 L411.85 160.2 L412.00 169.5 L412.15 165.7 L412.30 165.6 L412.45 165.9 L412.60 164.8 L412.75 170.5 L412.90 165.7 L413.05 166.4 L413.20 168.8 L413.35 169.7 L413.50 164.0 L413.65 164.9 L413.80 164.9 L413.95 165.4 L414.10 168.3 L414.25 169.2 L414.40 172.0 L414.55 169.9 L414.70 167.6 L414.85 167.4 L415.00 168.6 L415.15 169.4 L415.30 169.3 L415.45 165.8 L415.60 165.2 L415.75 163.9 L415.90 168.9 L416.05 164.9 L416.20 164.5 L416.35 169.3 L416.50 162.0 L416.65 165.0 L416.80 164.2 L416.95 165.6 L417.10 159.0 L417.25 161.3 L417.40 162.7 L417.55 164.7 L417.70 161.9 L417.85 162.7 L418.00 161.0 L418.15 160.5 L418.30 161.4 L418.45 164.6 L418.60 160.0 L418.75 157.3 L418.90 161.9 L419.05 159.9 L419.20 164.2 L419.35 161.5 L419.50 160.2 L419.65 161.0 L419.80 159.5 L419.95 160.6 L420.10 157.9 L420.25 161.7 L420.40 162.8 L420.55 158.2 L420.70 160.7 L420.85 160.7 L421.00 171.6 L421.15 160.1 L421.30 161.8 L421.45 161.0 L421.60 163.5 L421.75 157.6 L421.90 153.9 L422.05 156.9 L422.20 160.4 L422.35 163.0 L422.50 161.2 L422.65 157.8 L422.80 159.2 L422.95 162.7 L423.10 156.0 L423.25 159.4 L423.40 161.2 L423.55 163.0 L423.70 161.5 L423.85 163.4 L424.00 160.5 L424.15 161.3 L424.30 161.5 L424.45 158.7 L424.60 161.8 L424.75 160.8 L424.90 162.6 L425.05 156.3 L425.20 163.4 L425.35 160.6 L425.50 158.9 L425.65 164.8 L425.80 161.1 L425.95 163.9 L426.10 161.8 L426.25 163.4 L426.40 167.1 L426.55 163.5 L426.70 163.7 L426.85 159.1 L427.00 160.4 L427.15 163.4 L427.30 163.5 L427.45 161.2 L427.60 162.0 L427.75 162.7 L427.90 160.5 L428.05 164.8 L428.20 159.4 L428.35 161.9 L428.50 164.8 L428.65 160.7 L428.80 161.0 L428.95 161.9 L429.10 155.9 L429.25 161.5 L429.40 162.5 L429.55 160.9 L429.70 161.6 L429.85 157.7 L430.00 159.0 L430.15 159.7 L430.30 159.9 L430.45 163.9 L430.60 161.8 L430.75 159.6 L430.90 163.5 L431.05 163.2 L431.20 159.4 L431.35 165.0 L431.50 161.9 L431.65 163.6 L431.80 165.5 L431.95 162.9 L432.10 162.5 L432.25 166.2 L432.40 163.2 L432.55 164.3 L432.70 161.2 L432.85 163.7 L433.00 165.0 L433.15 161.2 L433.30 162.3 L433.45 159.8 L433.60 162.9 L433.75 165.0 L433.90 162.8 L434.05 163.0 L434.20 162.9 L434.35 175.4 L434.50 160.7 L434.65 166.9 L434.80 161.7 L434.95 159.6 L435.10 163.9 L435.25 163.6 L435.40 162.9 L435.55 163.0 L435.70 160.5 L435.85 167.4 L436.00 163.0 L436.15 165.0 L436.30 167.3 L436.45 161.0 L436.60 158.6 L436.75 164.5 L436.90 167.1 L437.05 170.0 L437.20 160.1 L437.35 166.5 L437.50 164.9 L437.65 164.7 L437.80 164.9 L437.95 163.6 L438.10 160.7 L438.25 165.6 L438.40 169.2 L438.55 163.0 L438.70 163.5 L438.85 162.4 L439.00 163.6 L439.15 160.6 L439.30 170.0 L439.45 162.1 L439.60 165.6 L439.75 162.3 L439.90 159.6 L440.05 159.0 L440.20 161.2 L440.35 161.2 L440.50 161.4 L440.65 160.1 L440.80 167.0 L440.95 166.3 L441.10 158.9 L441.25 163.4 L441.40 164.8 L441.55 162.1 L441.70 162.2 L441.85 165.0 L442.00 163.5 L442.15 162.3 L442.30 164.4 L442.45 163.8 L442.60 166.2 L442.75 162.8 L442.90 161.9 L443.05 163.7 L443.20 167.9 L443.35 163.1 L443.50 163.0 L443.65 161.2 L443.80 164.7 L443.95 159.6 L444.10 164.1 L444.25 160.1 L444.40 162.1 L444.55 160.4 L444.70 161.2 L444.85 166.4 L445.00 160.3 L445.15 163.2 L445.30 161.1 L445.45 165.4 L445.60 160.6 L445.75 163.6 L445.90 166.0 L446.05 168.2 L446.20 163.5 L446.35 161.5 L446.50 166.1 L446.65 166.2 L446.80 174.2 L446.95 172.6 L447.10 168.4 L447.25 159.0 L447.40 166.0 L447.55 167.3 L447.70 168.0 L447.85 166.6 L448.00 162.1 L448.15 161.0 L448.30 165.0 L448.45 167.3 L448.60 165.6 L448.75 168.5 L448.90 161.5 L449.05 160.7 L449.20 167.6 L449.35 164.1 L449.50 162.6 L449.65 162.5 L449.80 157.9 L449.95 165.2 L450.10 159.6 L450.25 160.6 L450.40 162.9 L450.55 166.2 L450.70 161.9 L450.85 164.0 L451.00 162.0 L451.15 163.5 L451.30 159.3 L451.45 168.1 L451.60 161.1 L451.75 163.2 L451.90 162.9 L452.05 171.6 L452.20 161.9 L452.35 166.3 L452.50 156.7 L452.65 164.9 L452.80 161.2 L452.95 163.8 L453.10 168.0 L453.25 162.0 L453.40 164.1 L453.55 167.2 L453.70 165.5 L453.85 164.7 L454.00 163.1 L454.15 161.1 L454.30 166.2 L454.45 161.2 L454.60 165.7 L454.75 160.8 L454.90 164.1 L455.05 163.2 L455.20 163.7 L455.35 161.4 L455.50 164.4 L455.65 167.2 L455.80 164.2 L455.95 163.5 L456.10 165.6 L456.25 160.3 L456.40 163.4 L456.55 163.7 L456.70 164.5 L456.85 163.5 L457.00 161.4 L457.15 164.2 L457.30 162.2 L457.45 163.6 L457.60 159.4 L457.75 163.5 L457.90 163.8 L458.05 160.7 L458.20 163.6 L458.35 162.6 L458.50 165.3 L458.65 163.7 L458.80 161.0 L458.95 162.4 L459.10 159.4 L459.25 161.7 L459.40 163.2 L459.55 163.6 L459.70 162.6 L459.85 161.9 L460.00 162.3 L460.15 160.5 L460.30 161.8 L460.45 164.2 L460.60 161.5 L460.75 163.4 L460.90 160.3 L461.05 160.6 L461.20 162.0 L461.35 165.5 L461.50 164.7 L461.65 165.6 L461.80 159.9 L461.95 166.2 L462.10 157.8 L462.25 163.8 L462.40 156.1 L462.55 165.5 L462.70 161.4 L462.85 162.3 L463.00 164.6 L463.15 159.6 L463.30 161.0 L463.45 161.8 L463.60 164.5 L463.75 162.3 L463.90 160.1 L464.05 161.4 L464.20 160.6 L464.35 163.4 L464.50 161.9 L464.65 160.4 L464.80 163.5 L464.95 159.4 L465.10 166.0 L465.25 163.4 L465.40 166.8 L465.55 163.5 L465.70 163.1 L465.85 163.9 L466.00 163.8 L466.15 162.0 L466.30 162.8 L466.45 169.0 L466.60 166.4 L466.75 163.9 L466.90 166.3 L467.05 163.4 L467.20 167.9 L467.35 163.1 L467.50 166.7 L467.65 165.0 L467.80 165.5 L467.95 164.1 L468.10 164.8 L468.25 162.0 L468.40 162.8 L468.55 167.6 L468.70 168.5 L468.85 166.0 L469.00 165.4 L469.15 165.6 L469.30 163.7 L469.45 167.7 L469.60 166.2 L469.75 168.9 L469.90 165.9 L470.05 167.0 L470.20 162.9 L470.35 163.5 L470.50 167.4 L470.65 161.5 L470.80 165.3 L470.95 167.2 L471.10 166.8 L471.25 166.0 L471.40 164.0 L471.55 166.6 L471.70 167.1 L471.85 163.9 L472.00 167.8 L472.15 162.9 L472.30 157.9 L472.45 163.3 L472.60 162.0 L472.75 164.1 L472.90 162.0 L473.05 161.5 L473.20 163.3 L473.35 171.5 L473.50 163.6 L473.65 173.1 L473.80 171.2 L473.95 166.2 L474.10 161.7 L474.25 166.3 L474.40 161.4 L474.55 164.7 L474.70 165.4 L474.85 165.3 L475.00 162.0 L475.15 163.1 L475.30 165.4 L475.45 165.9 L475.60 167.3 L475.75 164.0 L475.90 163.5 L476.05 166.6 L476.20 162.5 L476.35 165.2 L476.50 161.7 L476.65 161.6 L476.80 159.3 L476.95 164.0 L477.10 164.3 L477.25 164.6 L477.40 163.5 L477.55 163.9 L477.70 164.3 L477.85 164.6 L478.00 161.5 L478.15 164.3 L478.30 167.7 L478.45 163.2 L478.60 165.8 L478.75 163.6 L478.90 166.4 L479.05 162.7 L479.20 162.5 L479.35 165.5 L479.50 164.7 L479.65 165.6 L479.80 164.3 L479.95 166.7 L480.10 167.1 L480.25 167.3 L480.40 166.4 L480.55 165.6 L480.70 163.0 L480.85 167.8 L481.00 168.8 L481.15 166.1 L481.30 163.9 L481.45 164.4 L481.60 167.6 L481.75 165.9 L481.90 166.7 L482.05 163.5 L482.20 165.1 L482.35 166.7 L482.50 168.4 L482.65 164.9 L482.80 165.8 L482.95 162.5 L483.10 168.5 L483.25 166.7 L483.40 169.4 L483.55 169.8 L483.70 166.5 L483.85 165.6 L484.00 164.4 L484.15 166.9 L484.30 166.3 L484.45 166.1 L484.60 166.9 L484.75 164.3 L484.90 166.1 L485.05 165.9 L485.20 166.4 L485.35 166.1 L485.50 164.3 L485.65 166.1 L485.80 166.5 L485.95 166.1 L486.10 163.6 L486.25 162.8 L486.40 162.4 L486.55 165.0 L486.70 166.0 L486.85 160.3 L487.00 165.5 L487.15 163.5 L487.30 159.4 L487.45 160.2 L487.60 161.2 L487.75 165.7 L487.90 163.7 L488.05 174.5 L488.20 166.8 L488.35 164.1 L488.50 159.0 L488.65 161.0 L488.80 160.8 L488.95 163.5 L489.10 165.4 L489.25 160.7 L489.40 162.0 L489.55 164.1 L489.70 162.1 L489.85 165.9 L490.00 160.7 L490.15 164.0 L490.30 161.2 L490.45 165.9 L490.60 163.9 L490.75 166.6 L490.90 165.0 L491.05 163.9 L491.20 165.6 L491.35 167.0 L491.50 167.2 L491.65 166.5 L491.80 166.8 L491.95 168.0 L492.10 169.1 L492.25 166.2 L492.40 167.4 L492.55 164.8 L492.70 171.6 L492.85 166.9 L493.00 165.9 L493.15 166.9 L493.30 165.3 L493.45 167.5 L493.60 167.6 L493.75 167.0 L493.90 166.5 L494.05 169.2 L494.20 169.8 L494.35 168.2 L494.50 166.5 L494.65 170.5 L494.80 168.6 L494.95 169.6 L495.10 171.6 L495.25 164.5 L495.40 167.3 L495.55 168.8 L495.70 167.3 L495.85 171.8 L496.00 168.4 L496.15 171.1 L496.30 170.9 L496.45 171.0 L496.60 167.6 L496.75 169.8 L496.90 169.2 L497.05 171.3 L497.20 169.1 L497.35 171.3 L497.50 170.6 L497.65 170.1 L497.80 167.4 L497.95 169.6 L498.10 170.7 L498.25 168.3 L498.40 167.3 L498.55 168.8 L498.70 170.3 L498.85 166.8 L499.00 169.8 L499.15 170.8 L499.30 168.5 L499.45 169.9 L499.60 170.2 L499.75 167.2 L499.90 170.0 L500.05 169.4 L500.20 166.4 L500.35 168.9 L500.50 169.4 L500.65 165.6 L500.80 169.8 L500.95 167.1 L501.10 165.2 L501.25 165.6 L501.40 165.3 L501.55 169.0 L501.70 164.9 L501.85 165.0 L502.00 164.5 L502.15 164.5 L502.30 164.6 L502.45 165.7 L502.60 163.4 L502.75 169.8 L502.90 166.7 L503.05 167.1 L503.20 164.6 L503.35 168.4 L503.50 169.1 L503.65 172.8 L503.80 166.2 L503.95 166.6 L504.10 165.6 L504.25 166.5 L504.40 169.5 L504.55 175.9 L504.70 169.1 L504.85 167.9 L505.00 172.3 L505.15 169.4 L505.30 170.9 L505.45 170.7 L505.60 164.2 L505.75 165.0 L505.90 170.3 L506.05 169.6 L506.20 167.7 L506.35 168.3 L506.50 169.3 L506.65 171.0 L506.80 172.8 L506.95 165.5 L507.10 167.8 L507.25 162.3 L507.40 161.8 L507.55 164.6 L507.70 168.3 L507.85 166.4 L508.00 168.6 L508.15 166.6 L508.30 166.5 L508.45 167.7 L508.60 165.6 L508.75 165.5 L508.90 164.4 L509.05 157.9 L509.20 166.9 L509.35 161.3 L509.50 161.3 L509.65 170.0 L509.80 170.5 L509.95 159.8 L510.10 163.0 L510.25 164.0 L510.40 166.7 L510.55 163.6 L510.70 165.1 L510.85 161.3 L511.00 165.5 L511.15 158.6 L511.30 164.4 L511.45 161.9 L511.60 169.9 L511.75 168.6 L511.90 160.6 L512.05 164.6 L512.20 168.4 L512.35 165.4 L512.50 164.8 L512.65 165.7 L512.80 167.0 L512.95 164.2 L513.10 161.9 L513.25 167.2 L513.40 165.6 L513.55 163.0 L513.70 166.8 L513.85 165.0 L514.00 166.2 L514.15 165.1 L514.30 166.1 L514.45 168.6 L514.60 170.2 L514.75 167.6 L514.90 169.4 L515.05 165.5 L515.20 166.7 L515.35 168.5 L515.50 171.0 L515.65 168.0 L515.80 164.7 L515.95 166.8 L516.10 170.2 L516.25 169.5 L516.40 165.2 L516.55 164.9 L516.70 164.2 L516.85 164.3 L517.00 163.1 L517.15 162.5 L517.30 162.4 L517.45 163.5 L517.60 165.8 L517.75 161.7 L517.90 164.9 L518.05 165.7 L518.20 162.6 L518.35 162.9 L518.50 164.3 L518.65 164.5 L518.80 166.6 L518.95 161.5 L519.10 164.3 L519.25 166.4 L519.40 164.3 L519.55 167.4 L519.70 168.9 L519.85 163.5 L520.00 167.7 L520.15 165.8 L520.30 165.0 L520.45 164.6 L520.60 164.8 L520.75 163.5 L520.90 165.1 L521.05 167.3 L521.20 167.1 L521.35 164.0 L521.50 166.0 L521.65 167.1 L521.80 161.4 L521.95 168.8 L522.10 161.2 L522.25 161.5 L522.40 166.7 L522.55 168.6 L522.70 161.7 L522.85 163.5 L523.00 163.8 L523.15 163.8 L523.30 161.2 L523.45 161.5 L523.60 158.2 L523.75 165.4 L523.90 168.1 L524.05 176.3 L524.20 162.2 L524.35 162.3 L524.50 164.9 L524.65 164.9 L524.80 165.2 L524.95 163.7 L525.10 164.8 L525.25 161.3 L525.40 162.3 L525.55 165.5 L525.70 164.3 L525.85 167.1 L526.00 166.7 L526.15 164.5 L526.30 168.0 L526.45 166.4 L526.60 167.0 L526.75 166.6 L526.90 166.2 L527.05 168.9 L527.20 169.4 L527.35 168.3 L527.50 169.3 L527.65 165.2 L527.80 167.6 L527.95 168.3 L528.10 170.0 L528.25 169.2 L528.40 168.0 L528.55 169.2 L528.70 168.5 L528.85 167.0 L529.00 169.5 L529.15 170.2 L529.30 170.0 L529.45 165.6 L529.60 168.9 L529.75 166.5 L529.90 171.1 L530.05 168.8 L530.20 170.6 L530.35 166.6 L530.50 165.0 L530.65 166.4 L530.80 171.5 L530.95 167.5 L531.10 167.2 L531.25 172.1 L531.40 169.3 L531.55 170.7 L531.70 168.8 L531.85 168.7 L532.00 171.6 L532.15 169.4 L532.30 173.3 L532.45 176.4 L532.60 167.1 L532.75 171.4 L532.90 172.6 L533.05 170.4 L533.20 171.4 L533.35 171.4 L533.50 169.9 L533.65 174.1 L533.80 170.4 L533.95 169.4 L534.10 166.8 L534.25 169.0 L534.40 169.5 L534.55 168.9 L534.70 167.7 L534.85 169.9 L535.00 166.1 L535.15 174.4 L535.30 170.8 L535.45 171.5 L535.60 166.1 L535.75 168.7 L535.90 166.5 L536.05 166.7 L536.20 163.6 L536.35 166.5 L536.50 168.5 L536.65 167.1 L536.80 166.5 L536.95 167.1 L537.10 169.1 L537.25 168.6 L537.40 172.9 L537.55 168.9 L537.70 172.3 L537.85 168.0 L538.00 172.7 L538.15 171.1 L538.30 168.5 L538.45 169.1 L538.60 165.2 L538.75 171.1 L538.90 170.3 L539.05 168.7 L539.20 165.0 L539.35 170.5 L539.50 167.5 L539.65 167.8 L539.80 171.0 L539.95 171.3 L540.10 169.0 L540.25 167.2 L540.40 171.4 L540.55 170.3 L540.70 168.1 L540.85 167.4 L541.00 171.6 L541.15 164.1 L541.30 172.1 L541.45 172.1 L541.60 167.6 L541.75 169.2 L541.90 167.4 L542.05 168.7 L542.20 169.0 L542.35 166.1 L542.50 169.2 L542.65 169.9 L542.80 166.5 L542.95 167.5 L543.10 163.0 L543.25 166.5 L543.40 166.6 L543.55 173.9 L543.70 169.4 L543.85 169.5 L544.00 172.1 L544.15 173.1 L544.30 167.2 L544.45 170.1 L544.60 174.0 L544.75 177.2 L544.90 169.1 L545.05 165.5 L545.20 168.6 L545.35 169.0 L545.50 168.1 L545.65 170.1 L545.80 168.5 L545.95 171.8 L546.10 168.1 L546.25 166.7 L546.40 170.6 L546.55 167.0 L546.70 168.0 L546.85 170.3 L547.00 169.1 L547.15 169.4 L547.30 167.4 L547.45 168.0 L547.60 169.6 L547.75 167.2 L547.90 168.0 L548.05 168.0 L548.20 171.7 L548.35 170.4 L548.50 168.9 L548.65 168.4 L548.80 166.1 L548.95 171.1 L549.10 167.6 L549.25 168.3 L549.40 165.3 L549.55 170.6 L549.70 169.9 L549.85 176.2 L550.00 172.0 L550.15 170.1 L550.30 170.3 L550.45 172.4 L550.60 166.3 L550.75 172.0 L550.90 169.9 L551.05 168.5 L551.20 174.5 L551.35 169.7 L551.50 173.0 L551.65 171.7 L551.80 170.7 L551.95 169.8 L552.10 168.3 L552.25 172.2 L552.40 170.9 L552.55 170.0 L552.70 173.1 L552.85 169.7 L553.00 172.6 L553.15 171.1 L553.30 171.1 L553.45 171.8 L553.60 173.5 L553.75 170.0 L553.90 169.7 L554.05 170.5 L554.20 170.9 L554.35 172.6 L554.50 167.3 L554.65 169.7 L554.80 178.3 L554.95 173.3 L555.10 178.5 L555.25 176.3 L555.40 179.5 L555.55 185.4 L555.70 175.6 L555.85 178.9 L556.00 182.5 L556.15 183.1 L556.30 188.6 L556.45 188.7 L556.60 186.2 L556.75 182.7 L556.90 175.3 L557.05 178.6 L557.20 174.9 L557.35 183.4 L557.50 177.4 L557.65 182.7 L557.80 187.8 L557.95 188.5 L558.10 184.7 L558.25 181.3 L558.40 174.2 L558.55 173.2 L558.70 170.7 L558.85 177.1 L559.00 193.6 L559.15 183.6 L559.30 193.1 L559.45 172.9 L559.60 173.4 L559.75 175.6 L559.90 173.7 L560.05 178.1 L560.20 180.3 L560.35 175.7 L560.50 181.8 L560.65 178.7 L560.80 172.1 L560.95 176.1 L561.10 185.3 L561.25 175.0 L561.40 177.9 L561.55 173.6 L561.70 177.6 L561.85 174.0 L562.00 174.5 L562.15 181.3 L562.30 174.2 L562.45 176.9 L562.60 177.5 L562.75 174.4 L562.90 178.0 L563.05 179.3 L563.20 174.6 L563.35 173.8 L563.50 180.6 L563.65 175.2 L563.80 178.3 L563.95 179.8 L564.10 177.9 L564.25 175.2 L564.40 180.0 L564.55 175.0 L564.70 184.2 L564.85 181.1 L565.00 177.1 L565.15 179.6 L565.30 178.9 L565.45 180.4 L565.60 183.2 L565.75 175.3 L565.90 179.7 L566.05 177.6 L566.20 180.4 L566.35 178.2 L566.50 174.9 L566.65 177.3 L566.80 177.4 L566.95 175.4 L567.10 177.7 L567.25 176.6 L567.40 178.8 L567.55 175.1 L567.70 170.4 L567.85 171.8 L568.00 179.7 L568.15 178.6 L568.30 177.6 L568.45 171.2 L568.60 175.4 L568.75 178.3 L568.90 174.4 L569.05 176.5 L569.20 177.6 L569.35 181.5 L569.50 176.9 L569.65 176.2 L569.80 176.8 L569.95 174.3 L570.10 175.8 L570.25 175.7 L570.40 176.3 L570.55 181.0 L570.70 177.0 L570.85 175.0 L571.00 179.0 L571.15 175.8 L571.30 170.3 L571.45 178.5 L571.60 177.9 L571.75 179.8 L571.90 179.6 L572.05 175.6 L572.20 175.0 L572.35 177.3 L572.50 177.0 L572.65 177.9 L572.80 178.2 L572.95 179.4 L573.10 175.1 L573.25 177.2 L573.40 174.8 L573.55 177.4 L573.70 177.6 L573.85 175.9 L574.00 177.0 L574.15 172.2 L574.30 178.8 L574.45 175.0 L574.60 177.2 L574.75 179.4 L574.90 181.1 L575.05 179.2 L575.20 183.5 L575.35 182.9 L575.50 180.6 L575.65 184.4 L575.80 178.1 L575.95 181.4 L576.10 173.5 L576.25 182.2 L576.40 179.6 L576.55 180.0 L576.70 175.6 L576.85 185.2 L577.00 176.8 L577.15 177.1 L577.30 181.2 L577.45 179.1 L577.60 177.8 L577.75 182.9 L577.90 180.0 L578.05 178.1 L578.20 176.2 L578.35 179.1 L578.50 174.3 L578.65 175.0 L578.80 182.7 L578.95 177.6 L579.10 182.6 L579.25 178.4 L579.40 179.7 L579.55 181.1 L579.70 180.1 L579.85 178.5 L580.00 173.3 L580.15 179.3 L580.30 171.3 L580.45 175.0 L580.60 177.6 L580.75 187.2 L580.90 179.9 L581.05 174.7 L581.20 177.3 L581.35 177.8 L581.50 178.6 L581.65 175.2 L581.80 175.6 L581.95 180.2 L582.10 179.6 L582.25 173.9 L582.40 178.4 L582.55 175.1 L582.70 178.1 L582.85 176.4 L583.00 177.1 L583.15 179.1 L583.30 181.1 L583.45 182.2 L583.60 181.2 L583.75 180.1 L583.90 174.6 L584.05 177.2 L584.20 178.4 L584.35 176.5 L584.50 179.2 L584.65 178.9 L584.80 182.3 L584.95 178.5 L585.10 176.0 L585.25 179.2 L585.40 176.7 L585.55 179.1 L585.70 180.0 L585.85 181.7 L586.00 180.5 L586.15 176.5 L586.30 177.9 L586.45 176.8 L586.60 178.5 L586.75 177.4 L586.90 179.1 L587.05 181.0 L587.20 181.5 L587.35 185.1 L587.50 179.8 L587.65 180.8 L587.80 177.1 L587.95 179.9 L588.10 180.2 L588.25 176.9 L588.40 177.2 L588.55 177.7 L588.70 176.3 L588.85 180.1 L589.00 177.4 L589.15 182.2 L589.30 183.0 L589.45 177.1 L589.60 181.3 L589.75 178.7 L589.90 172.9 L590.05 179.2 L590.20 180.5 L590.35 175.4 L590.50 177.5 L590.65 177.3 L590.80 175.8 L590.95 177.5 L591.10 176.7 L591.25 178.0 L591.40 176.9 L591.55 173.6 L591.70 179.5 L591.85 180.4 L592.00 179.9 L592.15 176.1 L592.30 180.0 L592.45 173.1 L592.60 179.1 L592.75 177.2 L592.90 180.3 L593.05 173.1 L593.20 178.8 L593.35 172.1 L593.50 187.8 L593.65 174.6 L593.80 177.3 L593.95 179.6 L594.10 178.7 L594.25 174.0 L594.40 173.7 L594.55 177.5 L594.70 181.3 L594.85 177.2 L595.00 175.2 L595.15 176.7 L595.30 179.3 L595.45 179.3 L595.60 177.3 L595.75 178.0 L595.90 181.8 L596.05 179.5 L596.20 178.9 L596.35 172.6 L596.50 174.9 L596.65 176.1 L596.80 178.3 L596.95 177.5 L597.10 174.3 L597.25 179.1 L597.40 180.3 L597.55 180.2 L597.70 177.3 L597.85 178.9 L598.00 179.8 L598.15 177.8 L598.30 180.1 L598.45 177.4 L598.60 179.1 L598.75 182.6 L598.90 182.1 L599.05 177.7 L599.20 179.3 L599.35 185.2 L599.50 186.2 L599.65 178.0 L599.80 176.7 L599.95 179.7 L600.10 180.7 L600.25 174.2 L600.40 180.0 L600.55 183.6 L600.70 180.1 L600.85 178.0 L601.00 179.3 L601.15 172.8 L601.30 181.3 L601.45 183.6 L601.60 182.5 L601.75 179.9 L601.90 179.1 L602.05 184.2 L602.20 182.8 L602.35 186.5 L602.50 181.5 L602.65 180.1 L602.80 195.5 L602.95 189.3 L603.10 183.1 L603.25 190.0 L603.40 189.9 L603.55 189.0 L603.70 187.6 L603.85 190.4 L604.00 190.9 L604.15 193.7 L604.30 191.1 L604.45 195.3 L604.60 192.2 L604.75 197.8 L604.90 197.1 L605.05 196.6 L605.20 194.8 L605.35 195.6 L605.50 196.3 L605.65 198.2 L605.80 193.5 L605.95 193.5 L606.10 193.5 L606.25 193.5 L606.40 192.5 L606.55 192.6 L606.70 188.7 L606.85 190.0 L607.00 188.3 L607.15 192.8 L607.30 189.6 L607.45 191.6 L607.60 187.3 L607.75 188.9 L607.90 189.1 L608.05 185.4 L608.20 186.4 L608.35 185.8 L608.50 187.1 L608.65 185.9 L608.80 182.6 L608.95 185.5 L609.10 184.3 L609.25 185.2 L609.40 182.2 L609.55 184.8 L609.70 186.3 L609.85 188.5 L610.00 183.0 L610.15 186.1 L610.30 184.3 L610.45 181.9 L610.60 186.3 L610.75 183.5 L610.90 188.7 L611.05 183.2 L611.20 184.3 L611.35 186.6 L611.50 185.8 L611.65 182.0 L611.80 182.4 L611.95 183.3 L612.10 187.6 L612.25 183.1 L612.40 183.6 L612.55 189.5 L612.70 183.3 L612.85 184.5 L613.00 181.8 L613.15 182.8 L613.30 184.5 L613.45 185.8 L613.60 184.7 L613.75 183.2 L613.90 182.3 L614.05 182.6 L614.20 183.6 L614.35 181.1 L614.50 185.8 L614.65 185.2 L614.80 180.1 L614.95 187.8 L615.10 184.8 L615.25 184.8 L615.40 184.8 L615.55 183.0 L615.70 183.6 L615.85 189.3 L616.00 185.3 L616.15 182.4 L616.30 181.0 L616.45 182.8 L616.60 186.7 L616.75 183.7 L616.90 184.5 L617.05 183.4 L617.20 186.0 L617.35 185.5 L617.50 180.4 L617.65 182.0 L617.80 180.0 L617.95 181.5 L618.10 181.8 L618.25 180.4 L618.40 183.1 L618.55 183.5 L618.70 185.1 L618.85 185.3 L619.00 185.2 L619.15 182.1 L619.30 187.1 L619.45 188.8 L619.60 182.7 L619.75 184.1 L619.90 184.6 L620.05 179.4 L620.20 185.3 L620.35 184.3 L620.50 180.0 L620.65 182.3 L620.80 185.4 L620.95 187.0 L621.10 181.9 L621.25 184.1 L621.40 182.4 L621.55 183.1 L621.70 184.5 L621.85 182.6 L622.00 182.8 L622.15 181.3 L622.30 180.8 L622.45 183.6 L622.60 175.1 L622.75 185.5 L622.90 184.4 L623.05 175.2 L623.20 182.8 L623.35 184.8 L623.50 183.6 L623.65 182.4 L623.80 190.1 L623.95 182.4 L624.10 183.0 L624.25 182.6 L624.40 187.4 L624.55 179.5 L624.70 182.3 L624.85 184.6 L625.00 192.7 L625.15 183.7 L625.30 194.3 L625.45 180.1 L625.60 189.2 L625.75 185.4 L625.90 181.8 L626.05 183.2 L626.20 183.6 L626.35 185.6 L626.50 186.0 L626.65 182.3 L626.80 183.1 L626.95 183.9 L627.10 184.6 L627.25 182.4 L627.40 184.8 L627.55 182.4 L627.70 180.2 L627.85 186.6 L628.00 179.5 L628.15 186.8 L628.30 180.6 L628.45 191.7 L628.60 178.8 L628.75 191.4 L628.90 182.1 L629.05 189.7 L629.20 190.4 L629.35 186.6 L629.50 186.3 L629.65 180.2 L629.80 186.6 L629.95 187.4 L630.10 182.9 L630.25 185.6 L630.40 181.8 L630.55 186.0 L630.70 184.1 L630.85 180.3 L631.00 181.8 L631.15 184.8 L631.30 186.9 L631.45 183.2 L631.60 185.7 L631.75 183.3 L631.90 182.1 L632.05 186.2 L632.20 182.1 L632.35 186.6 L632.50 185.0 L632.65 188.2 L632.80 183.9 L632.95 189.1 L633.10 187.1 L633.25 182.5 L633.40 189.4 L633.55 188.9 L633.70 193.9 L633.85 188.0 L634.00 191.4 L634.15 190.5 L634.30 191.5 L634.45 193.1 L634.60 192.7 L634.75 193.3 L634.90 193.1 L635.05 189.7 L635.20 189.9 L635.35 188.7 L635.50 192.5 L635.65 193.9 L635.80 191.5 L635.95 188.4 L636.10 195.1 L636.25 194.8 L636.40 192.7 L636.55 188.8 L636.70 195.6 L636.85 192.6 L637.00 193.4 L637.15 190.6 L637.30 193.2 L637.45 190.8 L637.60 189.7 L637.75 190.2 L637.90 190.4 L638.05 191.8 L638.20 191.2 L638.35 192.6 L638.50 191.8 L638.65 188.7 L638.80 194.9 L638.95 187.4 L639.10 193.0 L639.25 187.9 L639.40 190.9 L639.55 188.7 L639.70 190.4 L639.85 195.4 L640.00 187.6 L640.15 192.0 L640.30 194.4 L640.45 194.2 L640.60 193.8 L640.75 192.9 L640.90 188.9 L641.05 195.3 L641.20 192.4 L641.35 193.7 L641.50 196.1 L641.65 189.7 L641.80 191.8 L641.95 193.8 L642.10 193.0 L642.25 195.0 L642.40 199.6 L642.55 193.9 L642.70 193.6 L642.85 191.8 L643.00 195.8 L643.15 195.8 L643.30 196.2 L643.45 188.7 L643.60 193.9 L643.75 193.4 L643.90 195.5 L644.05 195.6 L644.20 192.9 L644.35 196.2 L644.50 195.6 L644.65 197.8 L644.80 189.4 L644.95 189.2 L645.10 195.9 L645.25 190.5 L645.40 196.8 L645.55 189.6 L645.70 196.1 L645.85 186.9 L646.00 186.4 L646.15 184.8 L646.30 191.4 L646.45 194.7 L646.60 195.5 L646.75 189.9 L646.90 200.6 L647.05 196.1 L647.20 192.4 L647.35 189.7 L647.50 197.3 L647.65 191.3 L647.80 191.1 L647.95 194.3 L648.10 190.3 L648.25 192.8 L648.40 192.0 L648.55 195.7 L648.70 196.4 L648.85 193.2 L649.00 192.8 L649.15 189.4 L649.30 198.2 L649.45 195.3 L649.60 193.4 L649.75 196.9 L649.90 192.8 L650.05 191.6 L650.20 193.2 L650.35 190.9 L650.50 190.2 L650.65 193.0 L650.80 188.8 L650.95 192.0 L651.10 190.9 L651.25 189.8 L651.40 189.8 L651.55 191.4 L651.70 191.5 L651.85 192.6 L652.00 189.5 L652.15 193.5 L652.30 190.2 L652.45 193.3 L652.60 195.4 L652.75 190.3 L652.90 191.6 L653.05 192.1 L653.20 192.2 L653.35 193.5 L653.50 191.9 L653.65 193.1 L653.80 191.4 L653.95 195.9 L654.10 192.1 L654.25 194.2 L654.40 191.1 L654.55 193.9 L654.70 194.7 L654.85 192.1 L655.00 192.8 L655.15 193.3 L655.30 191.4 L655.45 188.2 L655.60 189.0 L655.75 196.7 L655.90 190.4 L656.05 193.0 L656.20 191.4 L656.35 192.7 L656.50 189.8 L656.65 189.4 L656.80 191.1 L656.95 194.2 L657.10 188.4 L657.25 197.7 L657.40 190.5 L657.55 191.5 L657.70 191.6 L657.85 192.9 L658.00 192.6 L658.15 192.8 L658.30 190.7 L658.45 188.5 L658.60 191.0 L658.75 192.7 L658.90 193.4 L659.05 187.6 L659.20 192.7 L659.35 194.8 L659.50 189.2 L659.65 195.0 L659.80 190.1 L659.95 191.4 L660.10 190.5 L660.25 195.1 L660.40 193.5 L660.55 191.7 L660.70 191.0 L660.85 188.1 L661.00 189.9 L661.15 187.8 L661.30 190.4 L661.45 188.1 L661.60 193.5 L661.75 195.5 L661.90 195.1 L662.05 192.7 L662.20 192.4 L662.35 189.6 L662.50 194.6 L662.65 192.2 L662.80 195.5 L662.95 193.3 L663.10 194.0 L663.25 194.4 L663.40 188.8 L663.55 195.0 L663.70 191.3 L663.85 197.4 L664.00 196.1 L664.15 191.5 L664.30 194.1 L664.45 194.9 L664.60 194.4 L664.75 193.9 L664.90 194.1 L665.05 192.2 L665.20 193.3 L665.35 201.2 L665.50 191.4 L665.65 194.6 L665.80 189.2 L665.95 194.0 L666.10 195.3 L666.25 195.1 L666.40 194.7 L666.55 192.1 L666.70 194.6 L666.85 197.1 L667.00 196.5 L667.15 195.6 L667.30 194.9 L667.45 195.9 L667.60 192.5 L667.75 194.5 L667.90 194.3 L668.05 194.2 L668.20 193.9 L668.35 196.6 L668.50 195.7 L668.65 196.7 L668.80 196.7 L668.95 192.5 L669.10 192.8 L669.25 197.1 L669.40 197.3 L669.55 199.7 L669.70 189.0 L669.85 194.2 L670.00 195.3 L670.15 193.7 L670.30 196.8 L670.45 197.6 L670.60 197.8 L670.75 192.1 L670.90 206.5 L671.05 191.3 L671.20 196.4 L671.35 188.6 L671.50 194.6 L671.65 193.6 L671.80 209.1 L671.95 199.8 L672.10 191.5 L672.25 191.4 L672.40 200.5 L672.55 192.7 L672.70 195.3 L672.85 195.1 L673.00 191.9 L673.15 193.0 L673.30 196.8 L673.45 198.3 L673.60 190.6 L673.75 194.5 L673.90 194.8 L674.05 191.0 L674.20 199.0 L674.35 196.4 L674.50 194.2 L674.65 192.5 L674.80 195.9 L674.95 192.6 L675.10 194.1 L675.25 202.9 L675.40 192.6 L675.55 196.6 L675.70 195.2 L675.85 190.1 L676.00 193.4 L676.15 188.5 L676.30 195.0 L676.45 201.5 L676.60 195.1" stroke="#fbb70c" stroke-width="1.6" fill="none" stroke-linejoin="round"/>
<path d="M60.70 235.8 L60.85 227.6 L61.00 232.5 L61.15 229.9 L61.30 232.8 L61.45 232.2 L61.60 229.2 L61.75 232.2 L61.90 230.9 L62.05 235.7 L62.20 232.1 L62.35 231.2 L62.50 231.9 L62.65 231.1 L62.80 230.7 L62.95 231.1 L63.10 232.4 L63.25 234.6 L63.40 232.5 L63.55 231.8 L63.70 231.7 L63.85 234.1 L64.00 234.7 L64.15 231.2 L64.30 231.5 L64.45 233.3 L64.60 234.5 L64.75 233.7 L64.90 234.2 L65.05 233.2 L65.20 226.2 L65.35 232.3 L65.50 230.7 L65.65 232.4 L65.80 231.8 L65.95 230.4 L66.10 227.4 L66.25 232.4 L66.40 229.5 L66.55 229.4 L66.70 232.2 L66.85 230.0 L67.00 231.1 L67.15 231.1 L67.30 232.7 L67.45 230.1 L67.60 233.5 L67.75 231.3 L67.90 232.2 L68.05 232.5 L68.20 231.8 L68.35 230.4 L68.50 232.6 L68.65 232.3 L68.80 231.9 L68.95 230.7 L69.10 232.2 L69.25 228.3 L69.40 232.2 L69.55 233.7 L69.70 229.0 L69.85 231.4 L70.00 230.1 L70.15 232.9 L70.30 228.4 L70.45 228.0 L70.60 232.9 L70.75 231.9 L70.90 224.5 L71.05 230.2 L71.20 233.2 L71.35 230.6 L71.50 232.2 L71.65 229.7 L71.80 231.1 L71.95 229.2 L72.10 232.2 L72.25 231.0 L72.40 230.1 L72.55 227.8 L72.70 232.2 L72.85 231.2 L73.00 232.2 L73.15 231.2 L73.30 232.2 L73.45 230.7 L73.60 230.5 L73.75 229.4 L73.90 232.4 L74.05 229.6 L74.20 231.1 L74.35 231.0 L74.50 229.8 L74.65 232.7 L74.80 230.6 L74.95 230.2 L75.10 231.8 L75.25 233.3 L75.40 234.0 L75.55 231.2 L75.70 232.0 L75.85 232.6 L76.00 231.9 L76.15 232.5 L76.30 229.8 L76.45 231.6 L76.60 231.2 L76.75 231.2 L76.90 230.8 L77.05 236.4 L77.20 231.6 L77.35 232.8 L77.50 226.2 L77.65 230.5 L77.80 232.5 L77.95 227.5 L78.10 230.9 L78.25 230.6 L78.40 230.2 L78.55 229.2 L78.70 229.7 L78.85 229.7 L79.00 230.6 L79.15 231.5 L79.30 233.4 L79.45 230.6 L79.60 231.9 L79.75 230.8 L79.90 232.9 L80.05 232.1 L80.20 232.8 L80.35 230.5 L80.50 231.7 L80.65 231.0 L80.80 234.9 L80.95 231.7 L81.10 231.1 L81.25 231.1 L81.40 231.6 L81.55 230.7 L81.70 230.0 L81.85 231.3 L82.00 234.4 L82.15 230.3 L82.30 230.1 L82.45 228.1 L82.60 230.2 L82.75 231.2 L82.90 232.6 L83.05 231.0 L83.20 232.3 L83.35 243.4 L83.50 231.8 L83.65 230.0 L83.80 230.7 L83.95 230.8 L84.10 230.5 L84.25 230.4 L84.40 230.1 L84.55 228.6 L84.70 230.9 L84.85 229.4 L85.00 231.1 L85.15 232.2 L85.30 228.4 L85.45 232.0 L85.60 227.3 L85.75 233.8 L85.90 233.7 L86.05 226.7 L86.20 230.0 L86.35 229.7 L86.50 230.7 L86.65 230.5 L86.80 233.5 L86.95 230.5 L87.10 230.3 L87.25 232.4 L87.40 231.1 L87.55 234.6 L87.70 233.0 L87.85 234.5 L88.00 231.9 L88.15 231.7 L88.30 232.3 L88.45 233.1 L88.60 231.4 L88.75 232.2 L88.90 231.8 L89.05 233.6 L89.20 231.7 L89.35 233.4 L89.50 231.1 L89.65 229.5 L89.80 230.7 L89.95 229.6 L90.10 231.1 L90.25 233.5 L90.40 230.5 L90.55 232.0 L90.70 234.0 L90.85 230.7 L91.00 230.7 L91.15 232.1 L91.30 228.8 L91.45 234.2 L91.60 230.6 L91.75 231.6 L91.90 233.4 L92.05 238.2 L92.20 231.8 L92.35 230.6 L92.50 233.8 L92.65 229.2 L92.80 231.1 L92.95 231.4 L93.10 231.4 L93.25 230.4 L93.40 231.1 L93.55 231.0 L93.70 228.5 L93.85 231.7 L94.00 230.1 L94.15 232.9 L94.30 233.7 L94.45 228.5 L94.60 229.1 L94.75 230.5 L94.90 231.6 L95.05 233.1 L95.20 231.0 L95.35 229.8 L95.50 231.5 L95.65 231.8 L95.80 231.9 L95.95 229.5 L96.10 232.2 L96.25 232.6 L96.40 230.0 L96.55 231.1 L96.70 231.3 L96.85 230.5 L97.00 233.5 L97.15 231.9 L97.30 229.9 L97.45 230.2 L97.60 231.0 L97.75 234.1 L97.90 229.7 L98.05 230.6 L98.20 228.5 L98.35 231.7 L98.50 232.1 L98.65 237.1 L98.80 233.1 L98.95 239.1 L99.10 234.1 L99.25 228.2 L99.40 232.3 L99.55 230.1 L99.70 230.8 L99.85 228.9 L100.00 230.0 L100.15 232.2 L100.30 232.6 L100.45 231.9 L100.60 232.7 L100.75 231.9 L100.90 231.1 L101.05 232.3 L101.20 232.4 L101.35 231.4 L101.50 232.4 L101.65 233.0 L101.80 231.7 L101.95 230.8 L102.10 232.8 L102.25 233.6 L102.40 231.3 L102.55 229.7 L102.70 230.4 L102.85 231.9 L103.00 228.9 L103.15 230.3 L103.30 232.4 L103.45 229.3 L103.60 232.7 L103.75 231.7 L103.90 230.6 L104.05 232.5 L104.20 229.3 L104.35 231.2 L104.50 233.2 L104.65 227.8 L104.80 232.2 L104.95 232.1 L105.10 232.5 L105.25 230.7 L105.40 229.4 L105.55 228.2 L105.70 230.6 L105.85 229.7 L106.00 228.5 L106.15 230.8 L106.30 230.3 L106.45 229.2 L106.60 229.9 L106.75 232.2 L106.90 230.7 L107.05 232.7 L107.20 233.2 L107.35 231.2 L107.50 230.0 L107.65 229.4 L107.80 231.1 L107.95 232.3 L108.10 231.6 L108.25 231.2 L108.40 231.8 L108.55 232.2 L108.70 230.8 L108.85 230.9 L109.00 230.9 L109.15 228.7 L109.30 231.0 L109.45 229.6 L109.60 230.0 L109.75 232.5 L109.90 230.6 L110.05 235.3 L110.20 232.1 L110.35 230.0 L110.50 231.7 L110.65 232.8 L110.80 232.2 L110.95 234.2 L111.10 228.5 L111.25 227.2 L111.40 232.3 L111.55 228.0 L111.70 233.0 L111.85 229.5 L112.00 230.0 L112.15 233.6 L112.30 230.4 L112.45 231.1 L112.60 233.2 L112.75 231.0 L112.90 231.0 L113.05 230.4 L113.20 231.9 L113.35 230.4 L113.50 233.1 L113.65 232.5 L113.80 234.4 L113.95 231.8 L114.10 230.7 L114.25 233.0 L114.40 231.1 L114.55 232.0 L114.70 231.7 L114.85 231.4 L115.00 231.9 L115.15 230.6 L115.30 229.2 L115.45 230.0 L115.60 232.9 L115.75 230.6 L115.90 231.6 L116.05 230.9 L116.20 232.8 L116.35 232.7 L116.50 230.1 L116.65 236.2 L116.80 230.7 L116.95 234.4 L117.10 231.3 L117.25 236.8 L117.40 237.8 L117.55 234.2 L117.70 231.0 L117.85 230.2 L118.00 232.8 L118.15 231.7 L118.30 235.2 L118.45 231.7 L118.60 233.8 L118.75 232.7 L118.90 231.7 L119.05 230.0 L119.20 232.2 L119.35 233.2 L119.50 231.3 L119.65 230.8 L119.80 231.8 L119.95 231.0 L120.10 229.4 L120.25 231.5 L120.40 231.5 L120.55 231.4 L120.70 230.1 L120.85 230.9 L121.00 233.6 L121.15 231.8 L121.30 229.3 L121.45 231.9 L121.60 232.7 L121.75 239.2 L121.90 231.4 L122.05 231.6 L122.20 231.4 L122.35 231.1 L122.50 229.6 L122.65 232.8 L122.80 231.0 L122.95 233.0 L123.10 228.1 L123.25 232.0 L123.40 232.0 L123.55 229.7 L123.70 232.0 L123.85 235.5 L124.00 239.4 L124.15 237.0 L124.30 238.9 L124.45 234.7 L124.60 237.9 L124.75 231.5 L124.90 225.2 L125.05 230.8 L125.20 233.0 L125.35 232.4 L125.50 230.1 L125.65 231.9 L125.80 230.2 L125.95 230.7 L126.10 231.6 L126.25 232.2 L126.40 230.1 L126.55 232.4 L126.70 229.2 L126.85 232.0 L127.00 229.1 L127.15 229.6 L127.30 232.0 L127.45 229.7 L127.60 229.6 L127.75 230.3 L127.90 231.7 L128.05 231.0 L128.20 231.0 L128.35 231.5 L128.50 230.7 L128.65 231.0 L128.80 230.3 L128.95 232.5 L129.10 231.9 L129.25 232.0 L129.40 230.7 L129.55 230.9 L129.70 232.0 L129.85 229.9 L130.00 231.7 L130.15 231.0 L130.30 230.6 L130.45 234.9 L130.60 231.0 L130.75 232.6 L130.90 238.0 L131.05 230.6 L131.20 232.3 L131.35 229.6 L131.50 233.1 L131.65 227.3 L131.80 231.3 L131.95 236.9 L132.10 223.0 L132.25 230.2 L132.40 229.7 L132.55 233.4 L132.70 233.3 L132.85 237.6 L133.00 224.8 L133.15 233.3 L133.30 232.5 L133.45 231.0 L133.60 228.4 L133.75 231.4 L133.90 231.3 L134.05 230.5 L134.20 232.0 L134.35 231.1 L134.50 232.3 L134.65 231.5 L134.80 230.3 L134.95 232.7 L135.10 232.3 L135.25 231.2 L135.40 229.5 L135.55 232.2 L135.70 230.9 L135.85 232.7 L136.00 230.6 L136.15 232.7 L136.30 231.5 L136.45 232.7 L136.60 231.7 L136.75 230.8 L136.90 232.0 L137.05 231.0 L137.20 232.4 L137.35 235.5 L137.50 240.0 L137.65 242.0 L137.80 238.0 L137.95 235.7 L138.10 231.1 L138.25 232.2 L138.40 230.0 L138.55 229.6 L138.70 231.3 L138.85 231.5 L139.00 230.9 L139.15 229.1 L139.30 229.7 L139.45 231.5 L139.60 234.4 L139.75 231.7 L139.90 231.2 L140.05 231.5 L140.20 230.6 L140.35 230.6 L140.50 230.4 L140.65 231.3 L140.80 230.3 L140.95 229.9 L141.10 232.8 L141.25 233.4 L141.40 231.8 L141.55 232.1 L141.70 231.4 L141.85 231.8 L142.00 229.9 L142.15 232.7 L142.30 230.9 L142.45 231.9 L142.60 231.8 L142.75 231.0 L142.90 232.2 L143.05 231.8 L143.20 228.1 L143.35 230.0 L143.50 228.2 L143.65 226.5 L143.80 229.3 L143.95 227.1 L144.10 225.9 L144.25 227.6 L144.40 221.8 L144.55 224.3 L144.70 226.7 L144.85 225.0 L145.00 219.8 L145.15 219.1 L145.30 222.7 L145.45 225.8 L145.60 222.6 L145.75 224.1 L145.90 224.9 L146.05 222.0 L146.20 224.1 L146.35 224.9 L146.50 224.0 L146.65 223.5 L146.80 222.2 L146.95 224.1 L147.10 222.3 L147.25 224.0 L147.40 227.6 L147.55 223.0 L147.70 219.9 L147.85 224.1 L148.00 222.5 L148.15 224.7 L148.30 221.2 L148.45 225.9 L148.60 222.1 L148.75 225.7 L148.90 221.9 L149.05 226.5 L149.20 222.8 L149.35 225.4 L149.50 225.4 L149.65 225.6 L149.80 225.1 L149.95 222.0 L150.10 224.6 L150.25 225.6 L150.40 227.3 L150.55 225.9 L150.70 223.7 L150.85 222.5 L151.00 221.3 L151.15 222.8 L151.30 225.5 L151.45 223.4 L151.60 225.0 L151.75 225.6 L151.90 223.9 L152.05 223.5 L152.20 226.3 L152.35 226.4 L152.50 221.8 L152.65 226.0 L152.80 227.4 L152.95 225.7 L153.10 225.7 L153.25 230.4 L153.40 228.7 L153.55 224.1 L153.70 225.2 L153.85 225.0 L154.00 226.0 L154.15 220.8 L154.30 225.6 L154.45 221.4 L154.60 223.1 L154.75 221.5 L154.90 222.4 L155.05 219.8 L155.20 217.7 L155.35 219.7 L155.50 220.1 L155.65 217.8 L155.80 220.3 L155.95 218.2 L156.10 217.2 L156.25 220.5 L156.40 215.6 L156.55 218.2 L156.70 215.5 L156.85 218.7 L157.00 215.7 L157.15 215.4 L157.30 220.6 L157.45 218.0 L157.60 217.4 L157.75 216.8 L157.90 218.2 L158.05 214.7 L158.20 215.8 L158.35 216.6 L158.50 215.8 L158.65 216.1 L158.80 217.7 L158.95 217.7 L159.10 216.2 L159.25 219.6 L159.40 219.8 L159.55 220.0 L159.70 217.3 L159.85 216.6 L160.00 215.8 L160.15 217.3 L160.30 213.9 L160.45 216.6 L160.60 219.9 L160.75 220.3 L160.90 215.8 L161.05 215.9 L161.20 218.9 L161.35 218.6 L161.50 220.7 L161.65 218.3 L161.80 220.7 L161.95 222.1 L162.10 220.3 L162.25 222.6 L162.40 218.9 L162.55 218.4 L162.70 228.4 L162.85 234.2 L163.00 237.0 L163.15 236.5 L163.30 227.4 L163.45 218.7 L163.60 219.0 L163.75 214.4 L163.90 214.6 L164.05 216.8 L164.20 217.8 L164.35 219.0 L164.50 218.0 L164.65 218.0 L164.80 215.2 L164.95 220.2 L165.10 218.5 L165.25 220.9 L165.40 222.1 L165.55 218.8 L165.70 224.2 L165.85 224.5 L166.00 228.3 L166.15 229.4 L166.30 229.1 L166.45 225.4 L166.60 228.7 L166.75 229.2 L166.90 229.9 L167.05 226.5 L167.20 223.7 L167.35 232.0 L167.50 231.9 L167.65 230.9 L167.80 230.4 L167.95 233.3 L168.10 226.4 L168.25 229.8 L168.40 235.0 L168.55 231.8 L168.70 231.4 L168.85 229.3 L169.00 233.6 L169.15 229.3 L169.30 231.9 L169.45 231.4 L169.60 229.9 L169.75 233.2 L169.90 229.0 L170.05 230.8 L170.20 231.4 L170.35 230.5 L170.50 232.5 L170.65 233.6 L170.80 231.1 L170.95 230.9 L171.10 230.7 L171.25 236.2 L171.40 240.6 L171.55 241.8 L171.70 239.0 L171.85 235.2 L172.00 230.0 L172.15 232.9 L172.30 229.6 L172.45 231.4 L172.60 233.5 L172.75 229.9 L172.90 231.3 L173.05 228.6 L173.20 230.7 L173.35 229.2 L173.50 231.0 L173.65 230.5 L173.80 231.4 L173.95 234.2 L174.10 232.1 L174.25 232.8 L174.40 231.7 L174.55 231.6 L174.70 230.3 L174.85 228.3 L175.00 230.8 L175.15 232.7 L175.30 232.2 L175.45 233.3 L175.60 234.5 L175.75 231.0 L175.90 234.1 L176.05 228.8 L176.20 229.9 L176.35 231.7 L176.50 234.9 L176.65 232.7 L176.80 230.2 L176.95 230.3 L177.10 232.4 L177.25 229.2 L177.40 231.6 L177.55 234.6 L177.70 233.8 L177.85 235.8 L178.00 230.1 L178.15 231.0 L178.30 237.5 L178.45 237.6 L178.60 229.5 L178.75 232.2 L178.90 231.0 L179.05 233.0 L179.20 233.4 L179.35 231.6 L179.50 232.4 L179.65 231.5 L179.80 232.6 L179.95 229.8 L180.10 227.8 L180.25 232.2 L180.40 228.9 L180.55 230.4 L180.70 231.6 L180.85 232.3 L181.00 231.1 L181.15 228.7 L181.30 232.5 L181.45 231.2 L181.60 231.7 L181.75 228.2 L181.90 225.0 L182.05 222.2 L182.20 225.1 L182.35 228.2 L182.50 229.7 L182.65 230.0 L182.80 228.3 L182.95 231.7 L183.10 229.4 L183.25 231.4 L183.40 230.0 L183.55 233.1 L183.70 234.3 L183.85 231.6 L184.00 233.8 L184.15 231.9 L184.30 236.1 L184.45 232.9 L184.60 230.1 L184.75 234.2 L184.90 231.6 L185.05 229.6 L185.20 230.9 L185.35 229.6 L185.50 232.2 L185.65 230.6 L185.80 235.7 L185.95 233.1 L186.10 230.6 L186.25 229.1 L186.40 224.9 L186.55 232.0 L186.70 230.0 L186.85 231.9 L187.00 231.7 L187.15 231.0 L187.30 235.0 L187.45 235.3 L187.60 234.9 L187.75 227.1 L187.90 225.3 L188.05 223.3 L188.20 226.9 L188.35 225.1 L188.50 227.3 L188.65 224.7 L188.80 224.2 L188.95 225.4 L189.10 226.9 L189.25 222.9 L189.40 222.9 L189.55 223.0 L189.70 225.0 L189.85 224.1 L190.00 221.3 L190.15 222.7 L190.30 224.1 L190.45 222.5 L190.60 219.0 L190.75 217.9 L190.90 220.1 L191.05 222.0 L191.20 220.1 L191.35 221.0 L191.50 218.4 L191.65 216.4 L191.80 220.5 L191.95 217.9 L192.10 220.1 L192.25 215.5 L192.40 218.5 L192.55 217.5 L192.70 219.6 L192.85 216.6 L193.00 216.0 L193.15 216.9 L193.30 219.1 L193.45 218.0 L193.60 215.9 L193.75 216.2 L193.90 215.7 L194.05 219.7 L194.20 214.7 L194.35 216.6 L194.50 218.8 L194.65 219.0 L194.80 216.9 L194.95 218.6 L195.10 218.9 L195.25 219.2 L195.40 217.3 L195.55 220.3 L195.70 217.7 L195.85 220.0 L196.00 215.9 L196.15 219.0 L196.30 216.1 L196.45 215.0 L196.60 218.8 L196.75 216.2 L196.90 218.6 L197.05 211.1 L197.20 220.6 L197.35 218.2 L197.50 216.0 L197.65 218.2 L197.80 210.5 L197.95 216.9 L198.10 217.3 L198.25 221.6 L198.40 219.7 L198.55 219.0 L198.70 217.7 L198.85 219.2 L199.00 216.4 L199.15 214.7 L199.30 214.7 L199.45 216.1 L199.60 221.6 L199.75 216.2 L199.90 213.7 L200.05 215.9 L200.20 218.3 L200.35 217.7 L200.50 220.6 L200.65 222.2 L200.80 228.0 L200.95 223.5 L201.10 225.4 L201.25 229.2 L201.40 231.3 L201.55 225.7 L201.70 232.4 L201.85 228.5 L202.00 231.3 L202.15 230.7 L202.30 227.2 L202.45 228.7 L202.60 229.2 L202.75 229.7 L202.90 234.5 L203.05 225.2 L203.20 229.9 L203.35 228.6 L203.50 231.0 L203.65 230.7 L203.80 231.2 L203.95 230.6 L204.10 230.2 L204.25 230.1 L204.40 233.8 L204.55 219.0 L204.70 231.9 L204.85 230.4 L205.00 234.4 L205.15 233.1 L205.30 231.5 L205.45 231.9 L205.60 230.7 L205.75 236.4 L205.90 229.6 L206.05 234.0 L206.20 233.6 L206.35 231.2 L206.50 229.3 L206.65 225.1 L206.80 238.0 L206.95 230.8 L207.10 235.7 L207.25 230.7 L207.40 230.2 L207.55 234.0 L207.70 233.5 L207.85 230.6 L208.00 228.9 L208.15 229.8 L208.30 233.2 L208.45 233.2 L208.60 235.7 L208.75 232.5 L208.90 230.0 L209.05 236.9 L209.20 230.2 L209.35 231.7 L209.50 227.0 L209.65 235.0 L209.80 229.7 L209.95 231.4 L210.10 231.5 L210.25 232.2 L210.40 231.1 L210.55 227.0 L210.70 229.1 L210.85 232.0 L211.00 230.4 L211.15 229.9 L211.30 227.3 L211.45 232.1 L211.60 232.5 L211.75 228.9 L211.90 229.5 L212.05 230.0 L212.20 229.8 L212.35 232.2 L212.50 231.9 L212.65 231.5 L212.80 233.1 L212.95 233.3 L213.10 232.9 L213.25 236.0 L213.40 229.7 L213.55 228.1 L213.70 232.4 L213.85 227.0 L214.00 229.8 L214.15 232.8 L214.30 227.8 L214.45 230.0 L214.60 231.5 L214.75 228.8 L214.90 230.2 L215.05 228.2 L215.20 228.4 L215.35 230.4 L215.50 226.8 L215.65 232.8 L215.80 231.8 L215.95 230.1 L216.10 230.8 L216.25 232.9 L216.40 232.8 L216.55 232.3 L216.70 231.7 L216.85 230.7 L217.00 229.8 L217.15 231.7 L217.30 230.9 L217.45 232.2 L217.60 229.8 L217.75 229.6 L217.90 229.5 L218.05 232.4 L218.20 234.1 L218.35 232.1 L218.50 230.7 L218.65 231.5 L218.80 234.4 L218.95 232.8 L219.10 224.1 L219.25 234.6 L219.40 223.9 L219.55 235.4 L219.70 235.1 L219.85 226.7 L220.00 237.1 L220.15 232.3 L220.30 228.1 L220.45 230.7 L220.60 231.5 L220.75 229.5 L220.90 229.2 L221.05 232.4 L221.20 232.7 L221.35 233.7 L221.50 232.8 L221.65 229.3 L221.80 229.2 L221.95 255.4 L222.10 231.9 L222.25 227.5 L222.40 234.8 L222.55 230.7 L222.70 226.7 L222.85 230.9 L223.00 230.6 L223.15 232.7 L223.30 235.4 L223.45 232.5 L223.60 233.0 L223.75 231.4 L223.90 230.3 L224.05 231.9 L224.20 230.0 L224.35 230.0 L224.50 232.8 L224.65 229.9 L224.80 232.6 L224.95 232.3 L225.10 230.3 L225.25 231.6 L225.40 232.3 L225.55 231.9 L225.70 229.5 L225.85 229.9 L226.00 232.2 L226.15 231.2 L226.30 227.7 L226.45 230.7 L226.60 233.7 L226.75 232.0 L226.90 232.7 L227.05 231.5 L227.20 232.7 L227.35 230.1 L227.50 233.3 L227.65 234.1 L227.80 230.8 L227.95 233.5 L228.10 232.4 L228.25 232.8 L228.40 231.6 L228.55 229.4 L228.70 230.8 L228.85 233.9 L229.00 233.2 L229.15 233.4 L229.30 231.3 L229.45 232.9 L229.60 230.4 L229.75 230.1 L229.90 231.2 L230.05 231.6 L230.20 230.9 L230.35 228.8 L230.50 230.2 L230.65 229.4 L230.80 231.3 L230.95 229.4 L231.10 230.1 L231.25 231.0 L231.40 231.9 L231.55 232.0 L231.70 231.1 L231.85 227.7 L232.00 231.6 L232.15 232.4 L232.30 231.9 L232.45 230.4 L232.60 231.4 L232.75 230.2 L232.90 229.4 L233.05 229.4 L233.20 233.0 L233.35 231.0 L233.50 233.9 L233.65 230.3 L233.80 226.1 L233.95 233.5 L234.10 229.2 L234.25 237.1 L234.40 226.2 L234.55 229.2 L234.70 230.5 L234.85 229.7 L235.00 228.3 L235.15 226.9 L235.30 229.0 L235.45 227.8 L235.60 226.2 L235.75 226.0 L235.90 226.1 L236.05 227.3 L236.20 224.8 L236.35 225.2 L236.50 226.8 L236.65 222.4 L236.80 222.1 L236.95 225.0 L237.10 222.7 L237.25 220.6 L237.40 220.7 L237.55 219.6 L237.70 218.9 L237.85 217.7 L238.00 218.2 L238.15 215.5 L238.30 215.3 L238.45 215.6 L238.60 214.5 L238.75 215.9 L238.90 213.9 L239.05 214.2 L239.20 215.8 L239.35 214.7 L239.50 214.6 L239.65 222.0 L239.80 220.8 L239.95 223.0 L240.10 224.3 L240.25 225.0 L240.40 224.9 L240.55 227.4 L240.70 234.8 L240.85 225.5 L241.00 226.2 L241.15 229.5 L241.30 229.9 L241.45 230.6 L241.60 228.1 L241.75 229.9 L241.90 233.3 L242.05 228.3 L242.20 226.6 L242.35 229.0 L242.50 225.9 L242.65 223.0 L242.80 222.9 L242.95 216.7 L243.10 221.2 L243.25 221.9 L243.40 222.0 L243.55 222.4 L243.70 221.7 L243.85 222.5 L244.00 222.2 L244.15 228.0 L244.30 228.1 L244.45 229.8 L244.60 227.3 L244.75 231.3 L244.90 219.6 L245.05 236.5 L245.20 223.7 L245.35 223.4 L245.50 220.1 L245.65 218.8 L245.80 220.7 L245.95 219.4 L246.10 217.3 L246.25 218.3 L246.40 220.0 L246.55 222.9 L246.70 224.9 L246.85 222.4 L247.00 227.7 L247.15 225.3 L247.30 226.7 L247.45 228.4 L247.60 229.4 L247.75 233.6 L247.90 233.4 L248.05 227.3 L248.20 229.4 L248.35 230.0 L248.50 226.0 L248.65 231.4 L248.80 231.9 L248.95 235.7 L249.10 233.5 L249.25 229.9 L249.40 231.4 L249.55 228.9 L249.70 228.8 L249.85 233.1 L250.00 231.5 L250.15 231.8 L250.30 232.0 L250.45 230.5 L250.60 231.4 L250.75 229.6 L250.90 228.5 L251.05 244.5 L251.20 229.7 L251.35 227.1 L251.50 235.4 L251.65 231.5 L251.80 232.8 L251.95 233.1 L252.10 231.9 L252.25 230.5 L252.40 233.1 L252.55 232.8 L252.70 232.9 L252.85 233.8 L253.00 233.6 L253.15 234.8 L253.30 234.3 L253.45 230.3 L253.60 233.8 L253.75 230.7 L253.90 229.9 L254.05 233.4 L254.20 230.7 L254.35 232.6 L254.50 230.1 L254.65 227.8 L254.80 232.0 L254.95 231.5 L255.10 233.9 L255.25 231.8 L255.40 230.5 L255.55 233.0 L255.70 232.8 L255.85 234.2 L256.00 232.9 L256.15 231.9 L256.30 232.3 L256.45 231.2 L256.60 232.3 L256.75 231.1 L256.90 230.8 L257.05 229.6 L257.20 231.5 L257.35 229.4 L257.50 231.4 L257.65 232.1 L257.80 232.3 L257.95 230.2 L258.10 231.1 L258.25 233.2 L258.40 231.9 L258.55 229.8 L258.70 231.7 L258.85 233.5 L259.00 231.1 L259.15 231.9 L259.30 236.1 L259.45 232.2 L259.60 234.8 L259.75 231.5 L259.90 231.1 L260.05 232.2 L260.20 230.9 L260.35 233.5 L260.50 230.1 L260.65 231.1 L260.80 231.3 L260.95 231.4 L261.10 233.4 L261.25 231.8 L261.40 232.4 L261.55 232.9 L261.70 233.6 L261.85 232.2 L262.00 231.3 L262.15 233.0 L262.30 230.6 L262.45 232.9 L262.60 231.6 L262.75 233.0 L262.90 230.6 L263.05 233.0 L263.20 234.7 L263.35 232.4 L263.50 232.8 L263.65 230.9 L263.80 232.4 L263.95 231.3 L264.10 231.8 L264.25 230.1 L264.40 234.3 L264.55 231.2 L264.70 233.2 L264.85 231.1 L265.00 232.5 L265.15 233.9 L265.30 232.5 L265.45 226.7 L265.60 234.6 L265.75 233.8 L265.90 231.1 L266.05 232.7 L266.20 237.8 L266.35 240.9 L266.50 229.8 L266.65 237.4 L266.80 231.6 L266.95 231.1 L267.10 230.9 L267.25 231.0 L267.40 232.9 L267.55 233.8 L267.70 231.8 L267.85 233.8 L268.00 232.0 L268.15 231.6 L268.30 232.4 L268.45 230.4 L268.60 231.8 L268.75 233.5 L268.90 231.0 L269.05 230.4 L269.20 233.7 L269.35 232.1 L269.50 233.5 L269.65 233.9 L269.80 231.8 L269.95 230.2 L270.10 232.0 L270.25 228.0 L270.40 232.1 L270.55 228.9 L270.70 229.1 L270.85 231.2 L271.00 230.6 L271.15 229.6 L271.30 230.8 L271.45 229.9 L271.60 230.4 L271.75 230.1 L271.90 230.3 L272.05 229.7 L272.20 231.7 L272.35 231.7 L272.50 230.8 L272.65 230.1 L272.80 229.3 L272.95 229.5 L273.10 232.9 L273.25 232.6 L273.40 232.5 L273.55 232.0 L273.70 232.1 L273.85 231.9 L274.00 233.8 L274.15 231.6 L274.30 232.9 L274.45 230.2 L274.60 231.5 L274.75 233.0 L274.90 232.5 L275.05 231.3 L275.20 230.3 L275.35 227.3 L275.50 232.3 L275.65 229.5 L275.80 231.7 L275.95 232.4 L276.10 233.4 L276.25 229.7 L276.40 230.9 L276.55 232.8 L276.70 229.8 L276.85 231.3 L277.00 230.1 L277.15 230.5 L277.30 228.5 L277.45 232.0 L277.60 233.9 L277.75 230.0 L277.90 231.2 L278.05 233.7 L278.20 233.9 L278.35 231.2 L278.50 232.5 L278.65 226.6 L278.80 228.1 L278.95 226.2 L279.10 227.6 L279.25 226.5 L279.40 224.3 L279.55 225.4 L279.70 225.7 L279.85 225.1 L280.00 225.4 L280.15 221.7 L280.30 221.2 L280.45 221.3 L280.60 221.7 L280.75 222.2 L280.90 217.9 L281.05 219.1 L281.20 220.7 L281.35 227.3 L281.50 226.8 L281.65 220.6 L281.80 218.9 L281.95 226.9 L282.10 223.8 L282.25 227.6 L282.40 229.1 L282.55 223.8 L282.70 222.8 L282.85 226.1 L283.00 221.9 L283.15 222.0 L283.30 225.2 L283.45 223.6 L283.60 224.2 L283.75 221.1 L283.90 219.8 L284.05 220.5 L284.20 222.5 L284.35 222.0 L284.50 225.0 L284.65 222.7 L284.80 225.1 L284.95 224.0 L285.10 224.9 L285.25 225.4 L285.40 225.7 L285.55 226.2 L285.70 227.7 L285.85 225.7 L286.00 230.4 L286.15 228.4 L286.30 227.0 L286.45 229.3 L286.60 229.6 L286.75 224.9 L286.90 229.0 L287.05 230.6 L287.20 229.8 L287.35 228.2 L287.50 230.6 L287.65 228.7 L287.80 228.8 L287.95 229.6 L288.10 228.4 L288.25 230.5 L288.40 230.0 L288.55 226.5 L288.70 230.9 L288.85 228.9 L289.00 233.8 L289.15 242.7 L289.30 226.2 L289.45 232.0 L289.60 220.2 L289.75 229.8 L289.90 230.2 L290.05 231.1 L290.20 229.4 L290.35 230.3 L290.50 231.2 L290.65 231.5 L290.80 229.7 L290.95 231.8 L291.10 232.4 L291.25 228.9 L291.40 226.0 L291.55 231.0 L291.70 230.5 L291.85 230.0 L292.00 231.0 L292.15 228.0 L292.30 228.1 L292.45 230.6 L292.60 227.8 L292.75 231.0 L292.90 228.6 L293.05 230.9 L293.20 232.0 L293.35 230.9 L293.50 229.7 L293.65 232.1 L293.80 227.7 L293.95 229.7 L294.10 230.2 L294.25 231.8 L294.40 229.8 L294.55 231.1 L294.70 230.1 L294.85 226.6 L295.00 230.2 L295.15 231.3 L295.30 230.8 L295.45 229.9 L295.60 231.1 L295.75 229.1 L295.90 233.3 L296.05 232.7 L296.20 232.8 L296.35 232.1 L296.50 229.9 L296.65 230.0 L296.80 228.5 L296.95 229.4 L297.10 228.3 L297.25 230.0 L297.40 230.0 L297.55 227.1 L297.70 226.0 L297.85 223.1 L298.00 223.4 L298.15 220.6 L298.30 219.0 L298.45 221.1 L298.60 223.1 L298.75 222.1 L298.90 225.3 L299.05 224.8 L299.20 227.3 L299.35 227.8 L299.50 230.7 L299.65 228.2 L299.80 230.1 L299.95 230.6 L300.10 231.4 L300.25 231.9 L300.40 231.0 L300.55 230.5 L300.70 236.8 L300.85 229.2 L301.00 231.2 L301.15 231.9 L301.30 226.8 L301.45 228.7 L301.60 229.7 L301.75 227.7 L301.90 231.3 L302.05 231.6 L302.20 229.1 L302.35 229.7 L302.50 232.1 L302.65 227.2 L302.80 231.2 L302.95 232.1 L303.10 229.4 L303.25 229.5 L303.40 231.3 L303.55 230.0 L303.70 230.8 L303.85 229.1 L304.00 230.5 L304.15 231.0 L304.30 233.3 L304.45 231.3 L304.60 232.3 L304.75 230.3 L304.90 229.4 L305.05 234.8 L305.20 230.6 L305.35 234.2 L305.50 232.0 L305.65 231.7 L305.80 233.4 L305.95 229.5 L306.10 233.0 L306.25 231.1 L306.40 231.3 L306.55 230.6 L306.70 231.8 L306.85 230.2 L307.00 230.2 L307.15 230.5 L307.30 231.8 L307.45 232.8 L307.60 232.8 L307.75 232.0 L307.90 230.7 L308.05 222.1 L308.20 232.3 L308.35 231.9 L308.50 232.2 L308.65 233.4 L308.80 231.7 L308.95 233.5 L309.10 228.9 L309.25 234.0 L309.40 235.3 L309.55 227.5 L309.70 241.2 L309.85 234.4 L310.00 233.1 L310.15 237.7 L310.30 230.1 L310.45 229.9 L310.60 232.1 L310.75 232.9 L310.90 231.0 L311.05 234.1 L311.20 231.6 L311.35 230.8 L311.50 226.1 L311.65 226.4 L311.80 226.1 L311.95 224.6 L312.10 229.4 L312.25 225.1 L312.40 225.4 L312.55 225.4 L312.70 224.6 L312.85 220.9 L313.00 223.8 L313.15 224.2 L313.30 223.4 L313.45 220.4 L313.60 224.9 L313.75 223.3 L313.90 224.0 L314.05 222.2 L314.20 221.7 L314.35 219.3 L314.50 219.6 L314.65 221.9 L314.80 220.0 L314.95 220.9 L315.10 218.2 L315.25 220.0 L315.40 221.8 L315.55 220.5 L315.70 220.9 L315.85 221.3 L316.00 220.5 L316.15 222.4 L316.30 224.5 L316.45 221.9 L316.60 223.6 L316.75 225.2 L316.90 221.7 L317.05 222.1 L317.20 220.4 L317.35 220.9 L317.50 220.2 L317.65 220.4 L317.80 218.5 L317.95 220.3 L318.10 219.2 L318.25 216.6 L318.40 219.9 L318.55 216.4 L318.70 217.4 L318.85 217.8 L319.00 219.4 L319.15 218.7 L319.30 219.7 L319.45 220.5 L319.60 221.9 L319.75 220.8 L319.90 223.1 L320.05 223.5 L320.20 223.4 L320.35 225.1 L320.50 223.3 L320.65 221.7 L320.80 222.7 L320.95 221.5 L321.10 221.0 L321.25 220.8 L321.40 222.9 L321.55 219.4 L321.70 219.3 L321.85 218.5 L322.00 219.0 L322.15 217.5 L322.30 216.1 L322.45 215.9 L322.60 218.6 L322.75 217.7 L322.90 217.9 L323.05 218.0 L323.20 221.8 L323.35 221.0 L323.50 219.1 L323.65 220.7 L323.80 222.9 L323.95 221.6 L324.10 223.1 L324.25 221.6 L324.40 219.7 L324.55 221.1 L324.70 220.9 L324.85 218.0 L325.00 219.1 L325.15 219.7 L325.30 218.1 L325.45 217.9 L325.60 215.6 L325.75 218.0 L325.90 215.6 L326.05 217.9 L326.20 215.4 L326.35 215.7 L326.50 216.5 L326.65 216.9 L326.80 219.6 L326.95 218.1 L327.10 220.6 L327.25 221.7 L327.40 220.8 L327.55 222.1 L327.70 220.0 L327.85 221.6 L328.00 221.1 L328.15 219.9 L328.30 220.8 L328.45 217.4 L328.60 217.0 L328.75 219.4 L328.90 216.5 L329.05 217.8 L329.20 216.1 L329.35 218.3 L329.50 210.5 L329.65 214.3 L329.80 210.1 L329.95 215.2 L330.10 214.3 L330.25 214.6 L330.40 219.6 L330.55 218.5 L330.70 217.7 L330.85 218.4 L331.00 221.2 L331.15 221.4 L331.30 223.7 L331.45 222.9 L331.60 223.0 L331.75 222.4 L331.90 220.0 L332.05 218.0 L332.20 218.3 L332.35 217.8 L332.50 216.9 L332.65 216.5 L332.80 215.3 L332.95 214.4 L333.10 212.3 L333.25 213.0 L333.40 213.8 L333.55 212.9 L333.70 213.6 L333.85 215.5 L334.00 215.9 L334.15 216.1 L334.30 216.3 L334.45 216.8 L334.60 217.4 L334.75 220.2 L334.90 221.5 L335.05 220.5 L335.20 222.6 L335.35 221.5 L335.50 220.7 L335.65 218.8 L335.80 218.0 L335.95 214.8 L336.10 218.0 L336.25 214.6 L336.40 216.2 L336.55 215.0 L336.70 212.8 L336.85 211.9 L337.00 213.2 L337.15 212.6 L337.30 212.4 L337.45 213.0 L337.60 212.6 L337.75 215.5 L337.90 216.9 L338.05 216.3 L338.20 219.5 L338.35 216.6 L338.50 219.7 L338.65 222.3 L338.80 221.7 L338.95 224.0 L339.10 220.1 L339.25 219.8 L339.40 219.6 L339.55 218.2 L339.70 217.1 L339.85 215.8 L340.00 216.7 L340.15 213.4 L340.30 213.0 L340.45 214.3 L340.60 213.3 L340.75 211.3 L340.90 205.7 L341.05 211.8 L341.20 212.4 L341.35 214.2 L341.50 215.1 L341.65 218.0 L341.80 217.3 L341.95 217.5 L342.10 218.8 L342.25 218.8 L342.40 222.6 L342.55 220.5 L342.70 221.5 L342.85 218.9 L343.00 218.5 L343.15 213.1 L343.30 218.8 L343.45 217.0 L343.60 218.8 L343.75 213.6 L343.90 211.9 L344.05 212.7 L344.20 212.5 L344.35 210.7 L344.50 208.1 L344.65 213.0 L344.80 212.7 L344.95 213.6 L345.10 213.1 L345.25 206.6 L345.40 214.9 L345.55 217.2 L345.70 217.2 L345.85 220.5 L346.00 218.6 L346.15 218.8 L346.30 220.3 L346.45 221.4 L346.60 219.3 L346.75 218.4 L346.90 218.5 L347.05 216.0 L347.20 216.1 L347.35 217.0 L347.50 213.9 L347.65 212.3 L347.80 210.7 L347.95 211.3 L348.10 208.9 L348.25 209.1 L348.40 211.1 L348.55 211.5 L348.70 214.5 L348.85 213.5 L349.00 217.4 L349.15 216.0 L349.30 227.1 L349.45 232.5 L349.60 219.9 L349.75 221.8 L349.90 221.2 L350.05 219.6 L350.20 221.2 L350.35 218.3 L350.50 219.0 L350.65 219.1 L350.80 217.3 L350.95 216.2 L351.10 214.8 L351.25 214.5 L351.40 213.5 L351.55 211.1 L351.70 212.3 L351.85 209.9 L352.00 212.7 L352.15 212.6 L352.30 214.7 L352.45 215.7 L352.60 215.7 L352.75 216.5 L352.90 218.1 L353.05 220.2 L353.20 221.0 L353.35 220.8 L353.50 222.0 L353.65 223.8 L353.80 220.8 L353.95 222.0 L354.10 219.3 L354.25 220.5 L354.40 216.7 L354.55 216.8 L354.70 214.9 L354.85 215.3 L355.00 213.6 L355.15 216.3 L355.30 210.9 L355.45 211.0 L355.60 214.4 L355.75 213.5 L355.90 213.2 L356.05 214.2 L356.20 211.7 L356.35 218.1 L356.50 217.1 L356.65 215.9 L356.80 220.5 L356.95 219.5 L357.10 218.7 L357.25 222.8 L357.40 222.7 L357.55 220.6 L357.70 220.6 L357.85 218.8 L358.00 217.9 L358.15 218.6 L358.30 218.9 L358.45 216.8 L358.60 215.6 L358.75 213.7 L358.90 213.1 L359.05 224.5 L359.20 213.7 L359.35 211.6 L359.50 213.2 L359.65 214.0 L359.80 213.4 L359.95 217.9 L360.10 215.8 L360.25 216.4 L360.40 218.6 L360.55 218.3 L360.70 220.2 L360.85 220.0 L361.00 222.6 L361.15 222.3 L361.30 219.7 L361.45 221.2 L361.60 219.4 L361.75 217.0 L361.90 217.8 L362.05 216.9 L362.20 217.5 L362.35 213.7 L362.50 214.6 L362.65 213.7 L362.80 212.8 L362.95 210.7 L363.10 211.7 L363.25 213.2 L363.40 212.7 L363.55 212.8 L363.70 216.7 L363.85 217.2 L364.00 218.9 L364.15 220.2 L364.30 220.2 L364.45 223.4 L364.60 222.4 L364.75 223.7 L364.90 224.7 L365.05 223.7 L365.20 221.7 L365.35 220.5 L365.50 218.8 L365.65 217.6 L365.80 217.8 L365.95 217.9 L366.10 214.8 L366.25 215.6 L366.40 215.7 L366.55 214.4 L366.70 211.3 L366.85 213.5 L367.00 214.9 L367.15 215.5 L367.30 216.4 L367.45 217.3 L367.60 218.2 L367.75 218.5 L367.90 218.8 L368.05 220.7 L368.20 221.6 L368.35 223.6 L368.50 223.4 L368.65 222.3 L368.80 222.1 L368.95 218.4 L369.10 218.4 L369.25 218.0 L369.40 216.4 L369.55 214.1 L369.70 215.4 L369.85 213.6 L370.00 210.6 L370.15 213.7 L370.30 208.2 L370.45 211.2 L370.60 210.2 L370.75 213.6 L370.90 213.4 L371.05 214.7 L371.20 216.0 L371.35 216.4 L371.50 215.8 L371.65 220.3 L371.80 221.0 L371.95 220.7 L372.10 221.3 L372.25 220.9 L372.40 221.9 L372.55 218.6 L372.70 220.2 L372.85 215.9 L373.00 214.1 L373.15 216.3 L373.30 218.4 L373.45 220.7 L373.60 223.1 L373.75 225.2 L373.90 226.6 L374.05 230.2 L374.20 230.7 L374.35 232.8 L374.50 233.7 L374.65 234.2 L374.80 234.0 L374.95 233.1 L375.10 232.1 L375.25 232.4 L375.40 235.0 L375.55 229.7 L375.70 233.3 L375.85 234.8 L376.00 236.4 L376.15 234.4 L376.30 233.8 L376.45 234.4 L376.60 230.6 L376.75 234.2 L376.90 235.8 L377.05 233.0 L377.20 235.3 L377.35 234.6 L377.50 234.3 L377.65 232.0 L377.80 236.2 L377.95 236.5 L378.10 234.7 L378.25 232.8 L378.40 235.9 L378.55 236.5 L378.70 236.2 L378.85 236.2 L379.00 234.1 L379.15 236.4 L379.30 234.8 L379.45 234.8 L379.60 240.1 L379.75 238.7 L379.90 234.3 L380.05 237.7 L380.20 232.8 L380.35 237.9 L380.50 239.0 L380.65 233.4 L380.80 236.2 L380.95 234.9 L381.10 235.0 L381.25 233.7 L381.40 239.0 L381.55 235.3 L381.70 236.5 L381.85 235.1 L382.00 237.9 L382.15 239.6 L382.30 235.9 L382.45 230.7 L382.60 236.0 L382.75 235.7 L382.90 238.5 L383.05 235.4 L383.20 232.5 L383.35 234.3 L383.50 231.8 L383.65 236.8 L383.80 236.3 L383.95 234.9 L384.10 237.1 L384.25 232.5 L384.40 234.2 L384.55 236.5 L384.70 235.5 L384.85 234.1 L385.00 234.5 L385.15 235.7 L385.30 237.5 L385.45 235.2 L385.60 234.9 L385.75 234.5 L385.90 235.4 L386.05 233.4 L386.20 234.8 L386.35 235.6 L386.50 237.6 L386.65 236.8 L386.80 237.6 L386.95 236.3 L387.10 232.6 L387.25 236.3 L387.40 238.3 L387.55 233.0 L387.70 234.2 L387.85 234.7 L388.00 235.3 L388.15 234.7 L388.30 235.0 L388.45 235.9 L388.60 234.8 L388.75 235.9 L388.90 235.2 L389.05 234.7 L389.20 237.2 L389.35 235.2 L389.50 235.3 L389.65 235.4 L389.80 236.3 L389.95 235.9 L390.10 232.2 L390.25 232.3 L390.40 233.4 L390.55 236.3 L390.70 231.7 L390.85 236.1 L391.00 234.8 L391.15 235.1 L391.30 234.8 L391.45 235.6 L391.60 235.7 L391.75 234.7 L391.90 233.5 L392.05 238.0 L392.20 232.4 L392.35 235.7 L392.50 231.6 L392.65 229.0 L392.80 234.3 L392.95 236.8 L393.10 235.5 L393.25 231.3 L393.40 232.5 L393.55 236.0 L393.70 236.3 L393.85 235.6 L394.00 237.1 L394.15 234.0 L394.30 234.3 L394.45 236.2 L394.60 235.9 L394.75 233.5 L394.90 236.6 L395.05 231.8 L395.20 233.1 L395.35 240.4 L395.50 235.9 L395.65 236.2 L395.80 233.1 L395.95 235.3 L396.10 237.3 L396.25 237.5 L396.40 232.2 L396.55 235.0 L396.70 235.5 L396.85 240.8 L397.00 234.4 L397.15 236.0 L397.30 237.0 L397.45 238.1 L397.60 235.6 L397.75 234.1 L397.90 236.0 L398.05 236.6 L398.20 234.4 L398.35 231.5 L398.50 230.0 L398.65 230.8 L398.80 229.4 L398.95 229.6 L399.10 233.4 L399.25 227.3 L399.40 229.9 L399.55 239.0 L399.70 236.8 L399.85 235.3 L400.00 231.7 L400.15 233.0 L400.30 234.0 L400.45 234.5 L400.60 234.5 L400.75 235.5 L400.90 236.1 L401.05 235.3 L401.20 231.9 L401.35 236.7 L401.50 235.0 L401.65 234.5 L401.80 233.9 L401.95 235.1 L402.10 236.0 L402.25 234.6 L402.40 236.3 L402.55 233.7 L402.70 236.8 L402.85 232.2 L403.00 233.2 L403.15 237.2 L403.30 235.0 L403.45 235.3 L403.60 233.2 L403.75 236.7 L403.90 232.7 L404.05 236.0 L404.20 235.4 L404.35 237.1 L404.50 237.7 L404.65 235.3 L404.80 233.7 L404.95 234.7 L405.10 233.7 L405.25 236.6 L405.40 235.9 L405.55 236.2 L405.70 235.1 L405.85 236.7 L406.00 235.8 L406.15 236.8 L406.30 235.6 L406.45 238.3 L406.60 236.2 L406.75 233.0 L406.90 237.6 L407.05 235.9 L407.20 235.3 L407.35 240.3 L407.50 236.4 L407.65 234.2 L407.80 235.5 L407.95 236.7 L408.10 236.3 L408.25 239.4 L408.40 237.4 L408.55 234.1 L408.70 237.0 L408.85 238.0 L409.00 235.3 L409.15 238.0 L409.30 238.7 L409.45 234.8 L409.60 234.9 L409.75 234.5 L409.90 235.2 L410.05 236.5 L410.20 235.4 L410.35 238.3 L410.50 233.8 L410.65 236.0 L410.80 238.6 L410.95 232.0 L411.10 233.4 L411.25 236.3 L411.40 234.3 L411.55 234.6 L411.70 240.2 L411.85 238.9 L412.00 238.9 L412.15 238.6 L412.30 236.3 L412.45 238.5 L412.60 236.4 L412.75 240.1 L412.90 237.5 L413.05 236.0 L413.20 236.9 L413.35 236.0 L413.50 235.6 L413.65 234.7 L413.80 238.8 L413.95 235.6 L414.10 234.3 L414.25 237.2 L414.40 238.4 L414.55 236.6 L414.70 237.8 L414.85 236.1 L415.00 238.1 L415.15 237.0 L415.30 235.8 L415.45 237.5 L415.60 236.6 L415.75 234.1 L415.90 238.7 L416.05 235.0 L416.20 238.3 L416.35 232.5 L416.50 233.0 L416.65 227.9 L416.80 237.1 L416.95 238.7 L417.10 233.5 L417.25 241.5 L417.40 239.6 L417.55 236.3 L417.70 240.6 L417.85 234.2 L418.00 236.0 L418.15 238.2 L418.30 236.6 L418.45 241.7 L418.60 232.2 L418.75 234.2 L418.90 236.8 L419.05 230.0 L419.20 240.1 L419.35 238.5 L419.50 238.6 L419.65 232.5 L419.80 244.1 L419.95 237.8 L420.10 235.0 L420.25 238.3 L420.40 236.8 L420.55 238.1 L420.70 237.8 L420.85 234.5 L421.00 238.9 L421.15 237.1 L421.30 236.7 L421.45 239.7 L421.60 238.4 L421.75 235.3 L421.90 235.1 L422.05 233.0 L422.20 235.6 L422.35 234.5 L422.50 227.7 L422.65 242.4 L422.80 229.6 L422.95 238.2 L423.10 236.6 L423.25 236.6 L423.40 238.6 L423.55 229.3 L423.70 237.3 L423.85 237.6 L424.00 239.0 L424.15 237.3 L424.30 237.3 L424.45 237.5 L424.60 237.0 L424.75 237.6 L424.90 237.0 L425.05 239.1 L425.20 236.1 L425.35 236.1 L425.50 237.3 L425.65 237.2 L425.80 232.0 L425.95 232.8 L426.10 239.3 L426.25 238.2 L426.40 238.7 L426.55 236.5 L426.70 240.0 L426.85 240.9 L427.00 238.4 L427.15 236.1 L427.30 238.4 L427.45 234.6 L427.60 238.9 L427.75 237.8 L427.90 240.1 L428.05 234.4 L428.20 238.0 L428.35 231.7 L428.50 234.0 L428.65 237.6 L428.80 238.9 L428.95 231.9 L429.10 238.9 L429.25 235.1 L429.40 237.0 L429.55 234.7 L429.70 237.0 L429.85 236.3 L430.00 238.3 L430.15 236.6 L430.30 237.7 L430.45 237.2 L430.60 234.2 L430.75 236.9 L430.90 240.0 L431.05 234.8 L431.20 236.9 L431.35 236.1 L431.50 236.0 L431.65 236.2 L431.80 238.9 L431.95 238.3 L432.10 235.8 L432.25 237.7 L432.40 233.5 L432.55 237.0 L432.70 237.3 L432.85 237.1 L433.00 236.2 L433.15 234.8 L433.30 237.9 L433.45 235.7 L433.60 233.8 L433.75 236.3 L433.90 236.2 L434.05 235.5 L434.20 237.4 L434.35 236.7 L434.50 235.6 L434.65 239.2 L434.80 236.8 L434.95 232.9 L435.10 238.6 L435.25 237.3 L435.40 238.2 L435.55 236.6 L435.70 237.5 L435.85 238.0 L436.00 236.0 L436.15 235.8 L436.30 234.3 L436.45 236.9 L436.60 237.5 L436.75 234.8 L436.90 237.4 L437.05 236.0 L437.20 234.9 L437.35 232.2 L437.50 237.1 L437.65 238.2 L437.80 233.9 L437.95 236.4 L438.10 233.6 L438.25 234.8 L438.40 235.5 L438.55 238.4 L438.70 236.3 L438.85 238.6 L439.00 234.0 L439.15 237.4 L439.30 234.1 L439.45 236.2 L439.60 238.0 L439.75 235.7 L439.90 237.5 L440.05 236.9 L440.20 238.7 L440.35 235.7 L440.50 237.6 L440.65 238.3 L440.80 240.5 L440.95 238.5 L441.10 239.2 L441.25 236.5 L441.40 238.5 L441.55 236.9 L441.70 238.4 L441.85 238.2 L442.00 240.0 L442.15 237.3 L442.30 237.9 L442.45 236.3 L442.60 239.2 L442.75 236.9 L442.90 235.9 L443.05 239.9 L443.20 236.4 L443.35 238.8 L443.50 239.0 L443.65 241.1 L443.80 239.8 L443.95 234.6 L444.10 237.4 L444.25 236.9 L444.40 239.4 L444.55 237.1 L444.70 238.5 L444.85 239.7 L445.00 232.1 L445.15 237.2 L445.30 234.2 L445.45 240.8 L445.60 237.4 L445.75 236.9 L445.90 235.4 L446.05 236.4 L446.20 235.4 L446.35 236.6 L446.50 237.0 L446.65 237.8 L446.80 241.8 L446.95 237.1 L447.10 234.5 L447.25 235.8 L447.40 235.5 L447.55 236.9 L447.70 236.8 L447.85 236.0 L448.00 235.4 L448.15 231.9 L448.30 235.4 L448.45 240.3 L448.60 238.9 L448.75 233.7 L448.90 237.4 L449.05 236.7 L449.20 238.4 L449.35 240.4 L449.50 237.8 L449.65 235.5 L449.80 234.9 L449.95 237.9 L450.10 232.2 L450.25 235.4 L450.40 235.7 L450.55 238.9 L450.70 234.9 L450.85 235.4 L451.00 239.1 L451.15 234.8 L451.30 235.9 L451.45 234.3 L451.60 238.9 L451.75 235.3 L451.90 237.1 L452.05 238.5 L452.20 234.5 L452.35 236.6 L452.50 236.7 L452.65 236.1 L452.80 238.4 L452.95 237.0 L453.10 235.2 L453.25 238.2 L453.40 238.0 L453.55 237.3 L453.70 235.8 L453.85 239.6 L454.00 234.9 L454.15 238.4 L454.30 238.2 L454.45 238.4 L454.60 234.2 L454.75 236.9 L454.90 236.8 L455.05 237.0 L455.20 238.0 L455.35 236.9 L455.50 237.1 L455.65 236.6 L455.80 238.2 L455.95 236.6 L456.10 231.6 L456.25 240.5 L456.40 235.0 L456.55 237.2 L456.70 233.9 L456.85 236.6 L457.00 234.6 L457.15 237.9 L457.30 237.7 L457.45 236.1 L457.60 237.1 L457.75 238.1 L457.90 236.1 L458.05 236.1 L458.20 236.0 L458.35 237.6 L458.50 236.9 L458.65 235.0 L458.80 238.0 L458.95 238.2 L459.10 239.4 L459.25 235.7 L459.40 238.3 L459.55 239.5 L459.70 236.3 L459.85 236.8 L460.00 238.7 L460.15 235.4 L460.30 237.2 L460.45 235.7 L460.60 235.6 L460.75 238.1 L460.90 237.4 L461.05 235.9 L461.20 239.3 L461.35 238.0 L461.50 238.0 L461.65 237.3 L461.80 238.5 L461.95 238.7 L462.10 239.9 L462.25 233.0 L462.40 234.8 L462.55 243.1 L462.70 238.3 L462.85 237.4 L463.00 234.5 L463.15 235.3 L463.30 238.8 L463.45 241.1 L463.60 236.6 L463.75 238.9 L463.90 237.7 L464.05 234.1 L464.20 235.8 L464.35 238.8 L464.50 237.4 L464.65 239.6 L464.80 240.8 L464.95 235.8 L465.10 238.2 L465.25 238.5 L465.40 235.2 L465.55 235.0 L465.70 234.4 L465.85 235.6 L466.00 237.3 L466.15 234.6 L466.30 236.2 L466.45 239.2 L466.60 234.7 L466.75 236.9 L466.90 238.1 L467.05 238.2 L467.20 234.6 L467.35 237.7 L467.50 235.0 L467.65 238.8 L467.80 236.6 L467.95 236.4 L468.10 234.6 L468.25 240.4 L468.40 234.5 L468.55 236.7 L468.70 237.8 L468.85 239.4 L469.00 238.3 L469.15 245.6 L469.30 254.4 L469.45 253.5 L469.60 250.4 L469.75 244.9 L469.90 233.1 L470.05 237.3 L470.20 238.6 L470.35 238.2 L470.50 240.4 L470.65 238.0 L470.80 238.0 L470.95 237.3 L471.10 238.5 L471.25 233.1 L471.40 237.9 L471.55 236.1 L471.70 236.9 L471.85 238.4 L472.00 236.0 L472.15 235.6 L472.30 236.9 L472.45 239.6 L472.60 239.5 L472.75 238.5 L472.90 238.0 L473.05 237.8 L473.20 240.0 L473.35 240.8 L473.50 235.3 L473.65 236.4 L473.80 235.1 L473.95 238.6 L474.10 235.1 L474.25 237.5 L474.40 238.9 L474.55 243.1 L474.70 238.2 L474.85 237.5 L475.00 238.1 L475.15 237.4 L475.30 239.5 L475.45 238.2 L475.60 234.7 L475.75 232.2 L475.90 237.5 L476.05 234.0 L476.20 237.0 L476.35 235.4 L476.50 235.7 L476.65 235.9 L476.80 235.5 L476.95 238.6 L477.10 236.9 L477.25 236.1 L477.40 237.4 L477.55 235.0 L477.70 235.8 L477.85 235.9 L478.00 238.9 L478.15 237.2 L478.30 237.3 L478.45 238.0 L478.60 236.1 L478.75 237.2 L478.90 234.2 L479.05 237.6 L479.20 237.4 L479.35 235.3 L479.50 239.3 L479.65 234.6 L479.80 237.5 L479.95 235.5 L480.10 231.0 L480.25 237.0 L480.40 239.1 L480.55 235.5 L480.70 235.9 L480.85 236.2 L481.00 239.8 L481.15 238.5 L481.30 239.1 L481.45 240.1 L481.60 237.8 L481.75 234.4 L481.90 236.5 L482.05 235.2 L482.20 240.4 L482.35 235.3 L482.50 237.4 L482.65 236.1 L482.80 237.3 L482.95 238.6 L483.10 236.4 L483.25 235.2 L483.40 237.7 L483.55 236.3 L483.70 235.2 L483.85 234.1 L484.00 237.2 L484.15 237.6 L484.30 237.4 L484.45 237.4 L484.60 240.0 L484.75 235.4 L484.90 236.3 L485.05 237.4 L485.20 238.3 L485.35 237.0 L485.50 243.0 L485.65 239.4 L485.80 239.2 L485.95 240.7 L486.10 240.0 L486.25 237.7 L486.40 235.7 L486.55 236.2 L486.70 236.2 L486.85 233.8 L487.00 234.5 L487.15 237.6 L487.30 237.4 L487.45 235.1 L487.60 238.1 L487.75 236.7 L487.90 235.8 L488.05 235.9 L488.20 237.5 L488.35 236.2 L488.50 237.8 L488.65 235.9 L488.80 234.7 L488.95 239.0 L489.10 237.8 L489.25 238.8 L489.40 238.8 L489.55 237.7 L489.70 241.7 L489.85 237.6 L490.00 239.6 L490.15 239.3 L490.30 238.1 L490.45 237.4 L490.60 236.5 L490.75 235.0 L490.90 237.6 L491.05 236.8 L491.20 235.2 L491.35 236.1 L491.50 235.5 L491.65 239.8 L491.80 237.6 L491.95 238.1 L492.10 235.6 L492.25 236.4 L492.40 239.2 L492.55 236.6 L492.70 237.2 L492.85 240.9 L493.00 241.1 L493.15 237.9 L493.30 238.2 L493.45 237.4 L493.60 235.1 L493.75 238.1 L493.90 237.4 L494.05 237.0 L494.20 235.7 L494.35 237.0 L494.50 238.1 L494.65 230.9 L494.80 226.4 L494.95 224.9 L495.10 227.4 L495.25 232.2 L495.40 236.6 L495.55 243.2 L495.70 247.7 L495.85 250.8 L496.00 246.4 L496.15 243.4 L496.30 237.8 L496.45 235.7 L496.60 234.4 L496.75 239.6 L496.90 237.4 L497.05 236.9 L497.20 234.1 L497.35 234.8 L497.50 239.0 L497.65 236.2 L497.80 235.8 L497.95 237.3 L498.10 239.1 L498.25 237.7 L498.40 237.4 L498.55 235.5 L498.70 238.4 L498.85 238.2 L499.00 235.8 L499.15 237.3 L499.30 236.3 L499.45 234.2 L499.60 235.0 L499.75 238.0 L499.90 238.6 L500.05 236.9 L500.20 235.9 L500.35 235.1 L500.50 237.3 L500.65 236.9 L500.80 233.9 L500.95 237.4 L501.10 235.3 L501.25 237.2 L501.40 236.7 L501.55 237.2 L501.70 237.7 L501.85 237.1 L502.00 234.4 L502.15 234.7 L502.30 238.3 L502.45 236.5 L502.60 234.0 L502.75 233.6 L502.90 237.4 L503.05 240.1 L503.20 237.4 L503.35 235.2 L503.50 237.8 L503.65 233.6 L503.80 236.3 L503.95 239.1 L504.10 237.2 L504.25 230.5 L504.40 239.7 L504.55 240.4 L504.70 236.1 L504.85 236.9 L505.00 235.4 L505.15 235.2 L505.30 236.1 L505.45 238.5 L505.60 235.8 L505.75 238.3 L505.90 237.2 L506.05 239.2 L506.20 238.8 L506.35 234.2 L506.50 238.3 L506.65 238.8 L506.80 236.4 L506.95 236.9 L507.10 237.1 L507.25 235.2 L507.40 236.9 L507.55 239.4 L507.70 238.3 L507.85 240.0 L508.00 238.5 L508.15 239.0 L508.30 237.0 L508.45 238.2 L508.60 240.0 L508.75 239.3 L508.90 237.7 L509.05 236.3 L509.20 235.8 L509.35 237.2 L509.50 236.7 L509.65 233.8 L509.80 237.9 L509.95 238.1 L510.10 237.9 L510.25 235.8 L510.40 239.7 L510.55 239.0 L510.70 235.6 L510.85 235.9 L511.00 238.2 L511.15 238.6 L511.30 237.7 L511.45 238.1 L511.60 237.3 L511.75 237.5 L511.90 236.6 L512.05 237.4 L512.20 231.4 L512.35 236.9 L512.50 238.3 L512.65 236.2 L512.80 236.4 L512.95 239.8 L513.10 238.8 L513.25 236.8 L513.40 236.9 L513.55 236.4 L513.70 236.7 L513.85 236.1 L514.00 238.1 L514.15 237.3 L514.30 241.7 L514.45 234.4 L514.60 237.4 L514.75 235.1 L514.90 236.7 L515.05 234.0 L515.20 237.6 L515.35 236.9 L515.50 236.2 L515.65 236.1 L515.80 237.1 L515.95 238.9 L516.10 236.1 L516.25 236.9 L516.40 234.3 L516.55 236.2 L516.70 235.4 L516.85 234.0 L517.00 237.2 L517.15 236.8 L517.30 237.8 L517.45 235.9 L517.60 238.5 L517.75 237.0 L517.90 238.9 L518.05 236.1 L518.20 239.2 L518.35 236.3 L518.50 236.9 L518.65 238.4 L518.80 234.3 L518.95 235.1 L519.10 239.5 L519.25 234.7 L519.40 236.0 L519.55 237.8 L519.70 240.1 L519.85 236.5 L520.00 237.8 L520.15 237.0 L520.30 236.1 L520.45 236.6 L520.60 238.0 L520.75 237.7 L520.90 238.4 L521.05 237.3 L521.20 237.1 L521.35 236.3 L521.50 235.2 L521.65 238.1 L521.80 235.0 L521.95 238.4 L522.10 240.0 L522.25 239.2 L522.40 240.5 L522.55 235.8 L522.70 237.7 L522.85 235.6 L523.00 235.5 L523.15 234.4 L523.30 235.7 L523.45 239.2 L523.60 237.5 L523.75 237.9 L523.90 236.9 L524.05 235.4 L524.20 235.8 L524.35 237.6 L524.50 236.4 L524.65 237.9 L524.80 235.2 L524.95 236.3 L525.10 235.1 L525.25 238.4 L525.40 235.8 L525.55 234.7 L525.70 235.0 L525.85 235.6 L526.00 235.4 L526.15 236.9 L526.30 234.5 L526.45 235.1 L526.60 234.8 L526.75 239.8 L526.90 236.3 L527.05 239.0 L527.20 241.1 L527.35 232.8 L527.50 233.1 L527.65 238.6 L527.80 237.2 L527.95 235.5 L528.10 234.7 L528.25 236.7 L528.40 238.5 L528.55 235.5 L528.70 238.6 L528.85 236.8 L529.00 238.1 L529.15 237.8 L529.30 239.3 L529.45 238.7 L529.60 236.9 L529.75 238.0 L529.90 236.0 L530.05 237.3 L530.20 237.0 L530.35 236.7 L530.50 235.1 L530.65 238.5 L530.80 238.8 L530.95 233.0 L531.10 239.3 L531.25 243.5 L531.40 235.2 L531.55 239.2 L531.70 240.6 L531.85 235.7 L532.00 236.1 L532.15 236.3 L532.30 236.9 L532.45 239.5 L532.60 239.5 L532.75 233.4 L532.90 237.4 L533.05 236.0 L533.20 236.7 L533.35 236.8 L533.50 232.6 L533.65 235.0 L533.80 235.8 L533.95 237.0 L534.10 237.8 L534.25 240.3 L534.40 236.6 L534.55 234.8 L534.70 237.3 L534.85 238.1 L535.00 237.3 L535.15 235.2 L535.30 234.7 L535.45 236.4 L535.60 236.1 L535.75 238.5 L535.90 238.0 L536.05 238.7 L536.20 237.3 L536.35 240.9 L536.50 237.2 L536.65 238.4 L536.80 238.1 L536.95 236.7 L537.10 238.1 L537.25 239.0 L537.40 238.3 L537.55 236.7 L537.70 237.9 L537.85 238.6 L538.00 237.6 L538.15 235.3 L538.30 236.8 L538.45 234.7 L538.60 237.8 L538.75 238.7 L538.90 238.1 L539.05 235.2 L539.20 234.4 L539.35 236.4 L539.50 239.9 L539.65 235.5 L539.80 236.6 L539.95 236.3 L540.10 237.3 L540.25 236.5 L540.40 237.0 L540.55 239.4 L540.70 236.6 L540.85 236.4 L541.00 235.5 L541.15 238.0 L541.30 235.3 L541.45 234.6 L541.60 233.9 L541.75 235.6 L541.90 236.6 L542.05 234.0 L542.20 230.6 L542.35 227.8 L542.50 238.7 L542.65 234.8 L542.80 240.1 L542.95 231.7 L543.10 235.3 L543.25 231.7 L543.40 234.0 L543.55 234.8 L543.70 235.7 L543.85 237.4 L544.00 237.2 L544.15 235.2 L544.30 236.6 L544.45 236.7 L544.60 239.3 L544.75 234.4 L544.90 234.2 L545.05 236.1 L545.20 234.4 L545.35 235.3 L545.50 235.8 L545.65 235.3 L545.80 236.7 L545.95 237.5 L546.10 233.2 L546.25 237.1 L546.40 233.2 L546.55 239.2 L546.70 238.3 L546.85 237.3 L547.00 241.4 L547.15 230.5 L547.30 241.0 L547.45 236.1 L547.60 237.2 L547.75 236.6 L547.90 235.9 L548.05 234.9 L548.20 235.4 L548.35 234.8 L548.50 234.7 L548.65 238.2 L548.80 236.8 L548.95 235.1 L549.10 236.8 L549.25 235.8 L549.40 232.8 L549.55 234.4 L549.70 235.2 L549.85 237.5 L550.00 235.7 L550.15 236.4 L550.30 233.9 L550.45 236.5 L550.60 234.6 L550.75 231.1 L550.90 228.2 L551.05 227.5 L551.20 228.0 L551.35 230.8 L551.50 234.8 L551.65 235.7 L551.80 232.8 L551.95 234.5 L552.10 232.2 L552.25 232.4 L552.40 231.7 L552.55 233.3 L552.70 230.8 L552.85 232.6 L553.00 233.4 L553.15 230.6 L553.30 229.5 L553.45 228.2 L553.60 229.1 L553.75 230.5 L553.90 231.5 L554.05 232.0 L554.20 232.4 L554.35 233.4 L554.50 232.8 L554.65 232.5 L554.80 233.9 L554.95 233.2 L555.10 232.5 L555.25 232.1 L555.40 229.5 L555.55 231.6 L555.70 230.0 L555.85 229.4 L556.00 230.8 L556.15 228.6 L556.30 229.5 L556.45 229.6 L556.60 231.0 L556.75 229.6 L556.90 231.2 L557.05 232.5 L557.20 230.8 L557.35 227.0 L557.50 225.6 L557.65 225.7 L557.80 224.8 L557.95 220.5 L558.10 221.5 L558.25 221.3 L558.40 221.2 L558.55 224.5 L558.70 222.4 L558.85 218.7 L559.00 217.8 L559.15 218.3 L559.30 219.1 L559.45 222.6 L559.60 220.0 L559.75 222.7 L559.90 224.1 L560.05 223.9 L560.20 226.7 L560.35 225.6 L560.50 228.4 L560.65 228.5 L560.80 228.2 L560.95 229.3 L561.10 228.6 L561.25 230.6 L561.40 232.7 L561.55 231.4 L561.70 232.0 L561.85 233.3 L562.00 233.1 L562.15 235.1 L562.30 235.6 L562.45 233.7 L562.60 236.4 L562.75 235.8 L562.90 236.8 L563.05 236.7 L563.20 234.3 L563.35 238.5 L563.50 234.3 L563.65 236.1 L563.80 236.0 L563.95 235.8 L564.10 235.4 L564.25 233.6 L564.40 236.4 L564.55 236.7 L564.70 238.7 L564.85 234.6 L565.00 236.9 L565.15 236.7 L565.30 236.6 L565.45 235.9 L565.60 237.2 L565.75 233.6 L565.90 236.8 L566.05 237.4 L566.20 236.3 L566.35 237.9 L566.50 237.7 L566.65 235.4 L566.80 237.8 L566.95 237.4 L567.10 241.6 L567.25 233.7 L567.40 233.3 L567.55 236.9 L567.70 236.3 L567.85 239.7 L568.00 237.1 L568.15 236.1 L568.30 240.1 L568.45 237.7 L568.60 237.2 L568.75 235.6 L568.90 234.8 L569.05 236.1 L569.20 238.9 L569.35 235.1 L569.50 234.5 L569.65 236.5 L569.80 233.0 L569.95 239.4 L570.10 234.9 L570.25 236.0 L570.40 238.1 L570.55 241.6 L570.70 236.7 L570.85 235.9 L571.00 234.4 L571.15 236.7 L571.30 233.8 L571.45 236.8 L571.60 235.2 L571.75 237.7 L571.90 238.2 L572.05 232.6 L572.20 236.4 L572.35 238.1 L572.50 233.8 L572.65 237.9 L572.80 238.5 L572.95 238.1 L573.10 237.0 L573.25 239.2 L573.40 237.9 L573.55 236.5 L573.70 235.3 L573.85 228.1 L574.00 233.2 L574.15 235.5 L574.30 238.4 L574.45 238.5 L574.60 235.1 L574.75 239.1 L574.90 240.2 L575.05 237.0 L575.20 236.3 L575.35 235.7 L575.50 237.0 L575.65 236.8 L575.80 237.6 L575.95 237.2 L576.10 235.0 L576.25 237.1 L576.40 237.0 L576.55 235.8 L576.70 238.6 L576.85 237.1 L577.00 236.1 L577.15 237.5 L577.30 235.6 L577.45 234.8 L577.60 236.9 L577.75 245.9 L577.90 234.2 L578.05 237.0 L578.20 231.2 L578.35 240.8 L578.50 235.8 L578.65 233.8 L578.80 238.8 L578.95 236.1 L579.10 237.7 L579.25 240.1 L579.40 236.0 L579.55 237.5 L579.70 234.0 L579.85 236.4 L580.00 238.3 L580.15 237.3 L580.30 238.7 L580.45 237.3 L580.60 237.6 L580.75 237.6 L580.90 237.7 L581.05 238.9 L581.20 237.0 L581.35 240.2 L581.50 238.1 L581.65 233.9 L581.80 238.5 L581.95 234.7 L582.10 236.7 L582.25 240.6 L582.40 239.0 L582.55 234.8 L582.70 235.5 L582.85 236.8 L583.00 238.3 L583.15 235.3 L583.30 237.8 L583.45 236.9 L583.60 236.3 L583.75 236.9 L583.90 238.9 L584.05 234.8 L584.20 234.8 L584.35 237.9 L584.50 238.3 L584.65 235.2 L584.80 235.7 L584.95 236.1 L585.10 238.2 L585.25 236.2 L585.40 238.5 L585.55 238.4 L585.70 237.8 L585.85 236.4 L586.00 237.6 L586.15 236.7 L586.30 237.1 L586.45 238.6 L586.60 239.1 L586.75 235.8 L586.90 240.2 L587.05 234.8 L587.20 236.6 L587.35 239.3 L587.50 240.7 L587.65 238.6 L587.80 237.4 L587.95 238.3 L588.10 238.2 L588.25 236.7 L588.40 241.6 L588.55 237.3 L588.70 243.9 L588.85 237.0 L589.00 238.3 L589.15 235.7 L589.30 235.9 L589.45 236.0 L589.60 236.8 L589.75 238.6 L589.90 236.7 L590.05 238.2 L590.20 238.4 L590.35 244.1 L590.50 238.8 L590.65 242.4 L590.80 238.8 L590.95 239.1 L591.10 239.1 L591.25 235.5 L591.40 238.0 L591.55 240.2 L591.70 239.1 L591.85 237.7 L592.00 241.0 L592.15 238.8 L592.30 240.4 L592.45 235.0 L592.60 238.3 L592.75 237.9 L592.90 237.8 L593.05 240.1 L593.20 239.1 L593.35 236.9 L593.50 231.3 L593.65 240.9 L593.80 238.0 L593.95 239.5 L594.10 235.1 L594.25 238.8 L594.40 240.0 L594.55 239.4 L594.70 241.5 L594.85 238.3 L595.00 237.2 L595.15 239.9 L595.30 243.0 L595.45 239.8 L595.60 238.6 L595.75 240.5 L595.90 235.8 L596.05 239.8 L596.20 235.8 L596.35 240.1 L596.50 239.7 L596.65 239.6 L596.80 238.9 L596.95 238.0 L597.10 237.6 L597.25 237.1 L597.40 239.8 L597.55 242.3 L597.70 238.0 L597.85 239.5 L598.00 242.1 L598.15 239.6 L598.30 240.5 L598.45 239.0 L598.60 243.9 L598.75 242.0 L598.90 240.2 L599.05 240.0 L599.20 244.1 L599.35 242.9 L599.50 243.0 L599.65 243.0 L599.80 245.2 L599.95 244.3 L600.10 245.3 L600.25 247.2 L600.40 247.2 L600.55 248.5 L600.70 246.1 L600.85 248.4 L601.00 247.8 L601.15 250.6 L601.30 250.7 L601.45 248.4 L601.60 251.6 L601.75 249.5 L601.90 246.8 L602.05 249.0 L602.20 250.4 L602.35 248.6 L602.50 248.5 L602.65 249.0 L602.80 249.1 L602.95 248.3 L603.10 248.4 L603.25 244.0 L603.40 244.2 L603.55 244.5 L603.70 245.6 L603.85 242.8 L604.00 240.5 L604.15 242.1 L604.30 238.4 L604.45 242.6 L604.60 236.8 L604.75 238.7 L604.90 239.3 L605.05 237.8 L605.20 233.4 L605.35 235.1 L605.50 235.0 L605.65 236.0 L605.80 239.3 L605.95 238.0 L606.10 236.0 L606.25 237.2 L606.40 240.3 L606.55 239.4 L606.70 237.9 L606.85 236.9 L607.00 238.6 L607.15 238.7 L607.30 240.6 L607.45 238.8 L607.60 240.5 L607.75 241.2 L607.90 237.1 L608.05 238.5 L608.20 241.3 L608.35 239.6 L608.50 240.2 L608.65 239.8 L608.80 241.0 L608.95 239.7 L609.10 229.1 L609.25 244.9 L609.40 243.5 L609.55 236.2 L609.70 233.8 L609.85 239.3 L610.00 239.1 L610.15 237.5 L610.30 242.1 L610.45 233.5 L610.60 239.2 L610.75 237.1 L610.90 241.8 L611.05 235.6 L611.20 235.3 L611.35 237.7 L611.50 239.2 L611.65 239.6 L611.80 239.0 L611.95 238.8 L612.10 241.8 L612.25 238.0 L612.40 239.0 L612.55 242.1 L612.70 237.7 L612.85 238.7 L613.00 241.2 L613.15 239.5 L613.30 237.3 L613.45 239.0 L613.60 242.2 L613.75 238.7 L613.90 240.5 L614.05 238.2 L614.20 239.5 L614.35 240.3 L614.50 242.2 L614.65 241.4 L614.80 239.5 L614.95 239.5 L615.10 238.0 L615.25 239.9 L615.40 239.8 L615.55 238.7 L615.70 240.6 L615.85 237.2 L616.00 238.6 L616.15 237.9 L616.30 238.3 L616.45 237.6 L616.60 237.8 L616.75 230.9 L616.90 226.7 L617.05 221.0 L617.20 227.8 L617.35 231.4 L617.50 240.3 L617.65 238.5 L617.80 237.6 L617.95 237.7 L618.10 238.5 L618.25 240.9 L618.40 240.4 L618.55 238.5 L618.70 238.0 L618.85 238.0 L619.00 241.1 L619.15 236.2 L619.30 241.4 L619.45 232.6 L619.60 237.1 L619.75 243.3 L619.90 237.3 L620.05 240.2 L620.20 238.6 L620.35 242.2 L620.50 241.8 L620.65 240.2 L620.80 243.5 L620.95 238.0 L621.10 234.5 L621.25 236.8 L621.40 240.9 L621.55 225.5 L621.70 237.0 L621.85 235.8 L622.00 240.6 L622.15 240.9 L622.30 235.4 L622.45 236.5 L622.60 238.8 L622.75 237.8 L622.90 238.3 L623.05 238.5 L623.20 235.7 L623.35 237.8 L623.50 241.6 L623.65 236.0 L623.80 240.7 L623.95 238.4 L624.10 233.7 L624.25 240.9 L624.40 242.4 L624.55 241.2 L624.70 237.6 L624.85 241.8 L625.00 240.4 L625.15 239.7 L625.30 243.2 L625.45 241.2 L625.60 237.6 L625.75 239.1 L625.90 234.1 L626.05 241.5 L626.20 238.7 L626.35 239.7 L626.50 236.0 L626.65 239.8 L626.80 242.4 L626.95 239.5 L627.10 239.2 L627.25 239.1 L627.40 237.2 L627.55 236.8 L627.70 239.7 L627.85 239.2 L628.00 239.0 L628.15 240.2 L628.30 240.9 L628.45 240.4 L628.60 237.6 L628.75 240.4 L628.90 237.5 L629.05 238.2 L629.20 237.5 L629.35 238.6 L629.50 233.5 L629.65 235.5 L629.80 236.2 L629.95 237.6 L630.10 237.2 L630.25 237.6 L630.40 237.8 L630.55 239.4 L630.70 240.2 L630.85 239.5 L631.00 239.2 L631.15 241.7 L631.30 240.7 L631.45 238.9 L631.60 241.3 L631.75 239.1 L631.90 239.8 L632.05 239.2 L632.20 240.5 L632.35 239.0 L632.50 239.3 L632.65 240.5 L632.80 241.3 L632.95 238.6 L633.10 237.0 L633.25 239.9 L633.40 242.4 L633.55 238.9 L633.70 238.9 L633.85 240.5 L634.00 241.1 L634.15 238.5 L634.30 239.0 L634.45 240.1 L634.60 239.0 L634.75 238.8 L634.90 241.4 L635.05 240.8 L635.20 244.3 L635.35 238.3 L635.50 242.1 L635.65 241.2 L635.80 238.9 L635.95 243.4 L636.10 240.0 L636.25 241.1 L636.40 240.5 L636.55 241.8 L636.70 239.3 L636.85 237.9 L637.00 241.6 L637.15 240.1 L637.30 242.4 L637.45 240.5 L637.60 240.8 L637.75 239.0 L637.90 239.7 L638.05 240.1 L638.20 240.4 L638.35 243.2 L638.50 241.2 L638.65 235.7 L638.80 239.5 L638.95 239.4 L639.10 242.8 L639.25 238.8 L639.40 239.2 L639.55 238.9 L639.70 239.6 L639.85 237.3 L640.00 241.3 L640.15 241.4 L640.30 238.2 L640.45 242.3 L640.60 244.3 L640.75 237.8 L640.90 242.7 L641.05 240.2 L641.20 237.2 L641.35 235.2 L641.50 239.6 L641.65 239.5 L641.80 241.7 L641.95 240.5 L642.10 240.6 L642.25 243.1 L642.40 238.6 L642.55 241.0 L642.70 242.1 L642.85 243.2 L643.00 241.2 L643.15 242.8 L643.30 241.3 L643.45 239.6 L643.60 239.7 L643.75 238.9 L643.90 240.1 L644.05 239.2 L644.20 238.9 L644.35 237.5 L644.50 238.1 L644.65 243.8 L644.80 240.7 L644.95 237.7 L645.10 241.1 L645.25 238.8 L645.40 236.6 L645.55 239.4 L645.70 241.4 L645.85 240.9 L646.00 242.8 L646.15 239.1 L646.30 241.0 L646.45 242.2 L646.60 241.8 L646.75 240.4 L646.90 240.9 L647.05 241.9 L647.20 239.4 L647.35 237.7 L647.50 243.7 L647.65 241.4 L647.80 241.2 L647.95 241.5 L648.10 241.3 L648.25 240.5 L648.40 240.1 L648.55 239.2 L648.70 241.2 L648.85 241.1 L649.00 243.0 L649.15 240.8 L649.30 242.9 L649.45 240.8 L649.60 240.5 L649.75 242.0 L649.90 241.0 L650.05 237.5 L650.20 240.4 L650.35 241.4 L650.50 240.2 L650.65 239.2 L650.80 239.3 L650.95 242.4 L651.10 241.1 L651.25 240.5 L651.40 241.9 L651.55 241.7 L651.70 239.9 L651.85 239.7 L652.00 239.5 L652.15 242.3 L652.30 241.2 L652.45 241.8 L652.60 242.9 L652.75 241.6 L652.90 239.0 L653.05 240.3 L653.20 244.5 L653.35 240.0 L653.50 240.3 L653.65 241.3 L653.80 243.0 L653.95 241.2 L654.10 239.8 L654.25 240.6 L654.40 240.3 L654.55 242.3 L654.70 244.1 L654.85 245.2 L655.00 243.8 L655.15 242.1 L655.30 237.9 L655.45 241.3 L655.60 240.2 L655.75 242.6 L655.90 240.0 L656.05 240.7 L656.20 242.6 L656.35 239.7 L656.50 242.1 L656.65 241.3 L656.80 241.4 L656.95 241.3 L657.10 242.8 L657.25 241.3 L657.40 240.8 L657.55 243.1 L657.70 242.8 L657.85 243.9 L658.00 240.6 L658.15 243.5 L658.30 241.9 L658.45 238.7 L658.60 240.7 L658.75 240.2 L658.90 238.7 L659.05 240.6 L659.20 241.7 L659.35 240.0 L659.50 245.3 L659.65 245.3 L659.80 247.9 L659.95 246.8 L660.10 243.9 L660.25 241.7 L660.40 235.8 L660.55 236.5 L660.70 240.2 L660.85 239.2 L661.00 240.9 L661.15 239.3 L661.30 241.6 L661.45 239.7 L661.60 240.0 L661.75 243.4 L661.90 244.5 L662.05 245.5 L662.20 244.8 L662.35 243.0 L662.50 241.4 L662.65 238.6 L662.80 240.5 L662.95 238.2 L663.10 238.6 L663.25 248.4 L663.40 239.7 L663.55 241.5 L663.70 239.6 L663.85 241.8 L664.00 241.7 L664.15 238.9 L664.30 240.4 L664.45 242.0 L664.60 240.5 L664.75 241.7 L664.90 240.3 L665.05 240.8 L665.20 242.8 L665.35 240.9 L665.50 239.4 L665.65 241.9 L665.80 241.1 L665.95 239.7 L666.10 241.9 L666.25 237.4 L666.40 242.7 L666.55 243.2 L666.70 241.0 L666.85 237.8 L667.00 243.5 L667.15 244.6 L667.30 242.3 L667.45 239.3 L667.60 241.2 L667.75 241.3 L667.90 241.8 L668.05 242.5 L668.20 242.3 L668.35 237.2 L668.50 240.3 L668.65 240.9 L668.80 242.4 L668.95 239.8 L669.10 241.1 L669.25 240.8 L669.40 240.7 L669.55 242.9 L669.70 244.6 L669.85 240.4 L670.00 242.2 L670.15 239.2 L670.30 240.5 L670.45 242.5 L670.60 244.6 L670.75 239.0 L670.90 241.4 L671.05 242.5 L671.20 242.7 L671.35 240.7 L671.50 243.0 L671.65 240.6 L671.80 239.4 L671.95 237.8 L672.10 240.4 L672.25 247.9 L672.40 241.8 L672.55 242.8 L672.70 243.9 L672.85 241.8 L673.00 244.9 L673.15 243.3 L673.30 242.2 L673.45 242.5 L673.60 241.1 L673.75 242.5 L673.90 241.4 L674.05 243.7 L674.20 242.8 L674.35 242.6 L674.50 241.9 L674.65 238.9 L674.80 239.2 L674.95 241.0 L675.10 241.0 L675.25 242.3 L675.40 238.2 L675.55 243.1 L675.70 240.0 L675.85 242.7 L676.00 239.7 L676.15 242.2 L676.30 241.8 L676.45 239.0 L676.60 240.9" stroke="#e31b23" stroke-width="1.6" fill="none" stroke-linejoin="round"/>
<path d="M74.0 28.5h1.6v1.6h-1.6zM76.5 29.3h1.6v1.6h-1.6zM120.4 27.0h1.6v1.6h-1.6zM87.9 72.9h1.6v1.6h-1.6zM69.6 28.7h1.6v1.6h-1.6zM67.6 19.1h1.6v1.6h-1.6zM115.1 73.4h1.6v1.6h-1.6zM88.6 51.9h1.6v1.6h-1.6zM70.7 29.5h1.6v1.6h-1.6zM75.8 29.3h1.6v1.6h-1.6zM91.4 27.2h1.6v1.6h-1.6zM98.9 20.7h1.6v1.6h-1.6zM94.1 48.9h1.6v1.6h-1.6zM87.1 53.9h1.6v1.6h-1.6zM115.8 73.8h1.6v1.6h-1.6zM85.8 18.0h1.6v1.6h-1.6zM83.1 42.1h1.6v1.6h-1.6zM116.6 76.1h1.6v1.6h-1.6zM117.5 18.4h1.6v1.6h-1.6zM86.7 72.3h1.6v1.6h-1.6zM121.9 62.5h1.6v1.6h-1.6zM122.7 74.8h1.6v1.6h-1.6zM81.6 18.5h1.6v1.6h-1.6zM115.6 41.4h1.6v1.6h-1.6zM70.0 26.8h1.6v1.6h-1.6zM106.8 40.4h1.6v1.6h-1.6zM110.4 41.3h1.6v1.6h-1.6zM91.9 65.3h1.6v1.6h-1.6zM60.6 52.5h1.6v1.6h-1.6zM91.3 33.4h1.6v1.6h-1.6zM104.4 18.6h1.6v1.6h-1.6zM68.5 41.5h1.6v1.6h-1.6zM72.4 75.6h1.6v1.6h-1.6zM402.9 9.5h1.6v1.6h-1.6zM508.6 8.5h1.6v1.6h-1.6zM220.9 8.6h1.6v1.6h-1.6zM262.7 8.8h1.6v1.6h-1.6zM524.5 10.4h1.6v1.6h-1.6zM526.9 10.5h1.6v1.6h-1.6zM156.8 26.7h1.6v1.6h-1.6zM194.8 39.8h1.6v1.6h-1.6zM145.3 19.5h1.6v1.6h-1.6zM159.4 40.2h1.6v1.6h-1.6zM171.7 21.3h1.6v1.6h-1.6zM127.6 27.7h1.6v1.6h-1.6zM130.1 27.7h1.6v1.6h-1.6zM179.9 75.8h1.6v1.6h-1.6zM194.3 52.4h1.6v1.6h-1.6zM129.2 13.3h1.6v1.6h-1.6zM162.6 63.1h1.6v1.6h-1.6zM176.7 44.2h1.6v1.6h-1.6zM164.5 41.3h1.6v1.6h-1.6zM182.4 48.9h1.6v1.6h-1.6zM146.0 19.8h1.6v1.6h-1.6zM136.3 62.1h1.6v1.6h-1.6zM168.7 76.5h1.6v1.6h-1.6zM185.6 19.2h1.6v1.6h-1.6zM188.4 19.6h1.6v1.6h-1.6zM169.6 33.4h1.6v1.6h-1.6zM166.3 62.1h1.6v1.6h-1.6zM155.0 30.7h1.6v1.6h-1.6zM150.9 74.6h1.6v1.6h-1.6zM190.5 8.7h1.6v1.6h-1.6zM193.5 9.8h1.6v1.6h-1.6zM141.4 65.0h1.6v1.6h-1.6zM142.6 44.4h1.6v1.6h-1.6zM178.0 19.0h1.6v1.6h-1.6zM180.3 19.1h1.6v1.6h-1.6zM154.8 50.1h1.6v1.6h-1.6zM158.1 50.6h1.6v1.6h-1.6zM194.5 17.5h1.6v1.6h-1.6zM197.6 16.8h1.6v1.6h-1.6zM165.0 69.7h1.6v1.6h-1.6zM189.3 42.5h1.6v1.6h-1.6zM179.4 52.7h1.6v1.6h-1.6zM152.4 27.8h1.6v1.6h-1.6zM170.4 41.3h1.6v1.6h-1.6zM145.2 29.1h1.6v1.6h-1.6zM147.3 50.7h1.6v1.6h-1.6zM124.6 60.1h1.6v1.6h-1.6zM168.5 40.7h1.6v1.6h-1.6zM177.6 56.3h1.6v1.6h-1.6zM149.6 29.7h1.6v1.6h-1.6zM154.4 20.7h1.6v1.6h-1.6zM128.1 63.3h1.6v1.6h-1.6zM145.1 18.4h1.6v1.6h-1.6zM191.5 74.9h1.6v1.6h-1.6zM145.6 39.7h1.6v1.6h-1.6zM132.5 51.7h1.6v1.6h-1.6zM135.7 52.7h1.6v1.6h-1.6zM174.8 77.4h1.6v1.6h-1.6zM143.5 52.0h1.6v1.6h-1.6zM147.0 51.9h1.6v1.6h-1.6zM142.3 18.6h1.6v1.6h-1.6zM146.6 39.9h1.6v1.6h-1.6zM178.4 39.9h1.6v1.6h-1.6zM144.7 29.2h1.6v1.6h-1.6zM147.5 29.1h1.6v1.6h-1.6zM126.1 20.0h1.6v1.6h-1.6zM187.4 19.8h1.6v1.6h-1.6zM185.3 51.9h1.6v1.6h-1.6zM195.9 31.3h1.6v1.6h-1.6zM79.9 117.4h1.6v1.6h-1.6zM83.5 118.2h1.6v1.6h-1.6zM66.5 130.5h1.6v1.6h-1.6zM69.5 129.4h1.6v1.6h-1.6zM70.8 119.9h1.6v1.6h-1.6zM118.0 109.4h1.6v1.6h-1.6zM120.9 110.2h1.6v1.6h-1.6zM104.4 113.5h1.6v1.6h-1.6zM100.0 94.9h1.6v1.6h-1.6zM65.4 109.6h1.6v1.6h-1.6zM140.1 140.7h1.6v1.6h-1.6zM74.5 142.7h1.6v1.6h-1.6zM77.2 143.0h1.6v1.6h-1.6zM100.4 120.2h1.6v1.6h-1.6zM103.7 119.4h1.6v1.6h-1.6zM145.3 131.2h1.6v1.6h-1.6zM110.4 143.6h1.6v1.6h-1.6zM93.5 108.7h1.6v1.6h-1.6zM94.3 121.8h1.6v1.6h-1.6zM98.0 121.7h1.6v1.6h-1.6zM85.5 130.0h1.6v1.6h-1.6zM86.5 145.7h1.6v1.6h-1.6zM68.2 99.6h1.6v1.6h-1.6zM128.4 146.3h1.6v1.6h-1.6zM89.2 107.3h1.6v1.6h-1.6zM91.5 107.5h1.6v1.6h-1.6zM118.2 142.1h1.6v1.6h-1.6zM120.9 141.5h1.6v1.6h-1.6zM92.0 133.8h1.6v1.6h-1.6zM94.8 132.5h1.6v1.6h-1.6zM134.2 130.4h1.6v1.6h-1.6zM130.4 143.0h1.6v1.6h-1.6zM139.4 135.8h1.6v1.6h-1.6zM142.6 135.1h1.6v1.6h-1.6zM84.9 95.6h1.6v1.6h-1.6zM76.9 94.9h1.6v1.6h-1.6zM79.7 96.6h1.6v1.6h-1.6zM102.5 129.9h1.6v1.6h-1.6zM114.4 141.2h1.6v1.6h-1.6zM117.4 139.4h1.6v1.6h-1.6zM131.3 108.0h1.6v1.6h-1.6zM141.3 109.4h1.6v1.6h-1.6zM93.5 132.3h1.6v1.6h-1.6zM98.5 141.5h1.6v1.6h-1.6zM62.9 143.8h1.6v1.6h-1.6zM78.2 143.6h1.6v1.6h-1.6zM64.7 119.9h1.6v1.6h-1.6zM117.5 118.8h1.6v1.6h-1.6zM120.8 119.8h1.6v1.6h-1.6zM78.3 142.1h1.6v1.6h-1.6zM101.5 119.9h1.6v1.6h-1.6zM115.9 97.1h1.6v1.6h-1.6zM109.3 142.7h1.6v1.6h-1.6zM112.6 142.2h1.6v1.6h-1.6zM100.9 129.4h1.6v1.6h-1.6zM104.0 128.1h1.6v1.6h-1.6zM149.0 143.5h1.6v1.6h-1.6zM126.5 141.7h1.6v1.6h-1.6zM129.3 143.4h1.6v1.6h-1.6zM147.6 96.3h1.6v1.6h-1.6zM95.5 110.3h1.6v1.6h-1.6zM97.7 110.5h1.6v1.6h-1.6zM83.5 119.5h1.6v1.6h-1.6zM86.9 119.7h1.6v1.6h-1.6zM92.1 121.1h1.6v1.6h-1.6zM74.8 110.2h1.6v1.6h-1.6zM78.2 109.9h1.6v1.6h-1.6zM128.8 138.8h1.6v1.6h-1.6zM131.9 138.9h1.6v1.6h-1.6zM137.4 108.8h1.6v1.6h-1.6zM141.3 107.2h1.6v1.6h-1.6zM132.2 121.1h1.6v1.6h-1.6zM135.7 121.8h1.6v1.6h-1.6zM97.7 140.2h1.6v1.6h-1.6zM106.1 111.1h1.6v1.6h-1.6zM109.6 111.2h1.6v1.6h-1.6zM96.8 112.2h1.6v1.6h-1.6zM99.3 113.4h1.6v1.6h-1.6zM130.4 130.8h1.6v1.6h-1.6zM84.2 122.2h1.6v1.6h-1.6zM82.2 131.6h1.6v1.6h-1.6zM84.9 132.0h1.6v1.6h-1.6zM136.5 133.8h1.6v1.6h-1.6zM139.1 134.5h1.6v1.6h-1.6zM93.8 109.5h1.6v1.6h-1.6zM96.2 110.2h1.6v1.6h-1.6zM62.0 142.7h1.6v1.6h-1.6zM84.0 140.2h1.6v1.6h-1.6zM145.5 140.5h1.6v1.6h-1.6zM148.3 140.9h1.6v1.6h-1.6zM126.1 141.8h1.6v1.6h-1.6zM86.3 120.5h1.6v1.6h-1.6zM78.7 119.7h1.6v1.6h-1.6zM143.8 113.8h1.6v1.6h-1.6zM142.6 95.5h1.6v1.6h-1.6zM72.1 107.4h1.6v1.6h-1.6zM105.6 140.4h1.6v1.6h-1.6zM65.9 120.0h1.6v1.6h-1.6zM148.3 109.9h1.6v1.6h-1.6zM151.1 109.6h1.6v1.6h-1.6zM101.3 106.0h1.6v1.6h-1.6zM133.6 98.1h1.6v1.6h-1.6zM128.4 111.4h1.6v1.6h-1.6zM131.5 133.1h1.6v1.6h-1.6zM134.2 133.3h1.6v1.6h-1.6zM125.4 132.5h1.6v1.6h-1.6zM127.9 131.6h1.6v1.6h-1.6zM108.5 127.1h1.6v1.6h-1.6zM103.2 131.6h1.6v1.6h-1.6zM104.3 145.4h1.6v1.6h-1.6zM109.4 143.5h1.6v1.6h-1.6zM112.0 143.3h1.6v1.6h-1.6zM79.1 105.9h1.6v1.6h-1.6zM81.5 106.1h1.6v1.6h-1.6zM136.1 139.7h1.6v1.6h-1.6zM139.1 139.7h1.6v1.6h-1.6zM136.9 120.2h1.6v1.6h-1.6zM94.3 140.7h1.6v1.6h-1.6zM102.1 141.8h1.6v1.6h-1.6zM128.5 118.1h1.6v1.6h-1.6zM68.7 108.9h1.6v1.6h-1.6zM128.1 120.5h1.6v1.6h-1.6zM131.4 119.2h1.6v1.6h-1.6zM93.5 118.2h1.6v1.6h-1.6zM96.1 118.7h1.6v1.6h-1.6zM99.9 117.2h1.6v1.6h-1.6zM81.2 95.8h1.6v1.6h-1.6zM136.8 143.0h1.6v1.6h-1.6zM142.6 98.4h1.6v1.6h-1.6zM89.2 110.8h1.6v1.6h-1.6zM75.2 141.9h1.6v1.6h-1.6zM78.8 136.7h1.6v1.6h-1.6zM146.8 108.4h1.6v1.6h-1.6zM144.0 121.7h1.6v1.6h-1.6zM89.7 134.5h1.6v1.6h-1.6zM92.8 134.1h1.6v1.6h-1.6zM132.5 108.7h1.6v1.6h-1.6zM107.3 118.6h1.6v1.6h-1.6zM110.4 119.1h1.6v1.6h-1.6zM90.4 139.2h1.6v1.6h-1.6zM93.6 139.3h1.6v1.6h-1.6zM75.7 116.8h1.6v1.6h-1.6zM131.2 142.2h1.6v1.6h-1.6zM134.4 142.0h1.6v1.6h-1.6zM124.7 101.1h1.6v1.6h-1.6zM127.8 102.8h1.6v1.6h-1.6zM76.9 109.3h1.6v1.6h-1.6zM138.3 144.1h1.6v1.6h-1.6zM141.9 143.8h1.6v1.6h-1.6zM117.0 110.8h1.6v1.6h-1.6zM115.6 143.2h1.6v1.6h-1.6zM118.3 144.1h1.6v1.6h-1.6zM97.3 130.5h1.6v1.6h-1.6zM127.2 108.6h1.6v1.6h-1.6zM129.6 108.1h1.6v1.6h-1.6zM134.0 112.2h1.6v1.6h-1.6zM137.4 110.3h1.6v1.6h-1.6zM126.1 141.8h1.6v1.6h-1.6zM89.2 142.2h1.6v1.6h-1.6zM70.7 120.4h1.6v1.6h-1.6zM138.5 106.5h1.6v1.6h-1.6zM111.9 133.2h1.6v1.6h-1.6zM114.2 134.4h1.6v1.6h-1.6zM122.4 112.0h1.6v1.6h-1.6zM125.8 111.6h1.6v1.6h-1.6zM61.2 135.8h1.6v1.6h-1.6zM63.8 136.0h1.6v1.6h-1.6zM141.6 142.6h1.6v1.6h-1.6zM135.9 111.2h1.6v1.6h-1.6zM139.1 111.8h1.6v1.6h-1.6zM146.0 141.2h1.6v1.6h-1.6zM148.8 141.0h1.6v1.6h-1.6zM122.3 109.0h1.6v1.6h-1.6zM63.5 142.7h1.6v1.6h-1.6zM128.6 128.9h1.6v1.6h-1.6zM131.2 128.6h1.6v1.6h-1.6zM129.4 139.4h1.6v1.6h-1.6zM62.7 118.6h1.6v1.6h-1.6zM108.0 141.9h1.6v1.6h-1.6zM96.6 130.8h1.6v1.6h-1.6zM99.1 130.9h1.6v1.6h-1.6zM138.3 130.5h1.6v1.6h-1.6zM141.7 129.4h1.6v1.6h-1.6zM99.9 110.8h1.6v1.6h-1.6zM100.1 106.8h1.6v1.6h-1.6zM103.2 105.7h1.6v1.6h-1.6zM114.7 120.9h1.6v1.6h-1.6zM117.8 108.6h1.6v1.6h-1.6zM93.7 106.1h1.6v1.6h-1.6zM89.8 141.6h1.6v1.6h-1.6zM92.4 142.5h1.6v1.6h-1.6zM102.7 132.1h1.6v1.6h-1.6zM106.2 131.4h1.6v1.6h-1.6zM69.7 107.9h1.6v1.6h-1.6zM130.0 130.8h1.6v1.6h-1.6zM106.3 118.4h1.6v1.6h-1.6zM67.7 142.6h1.6v1.6h-1.6zM70.3 142.4h1.6v1.6h-1.6zM106.4 138.4h1.6v1.6h-1.6zM134.7 139.9h1.6v1.6h-1.6zM101.0 129.2h1.6v1.6h-1.6zM104.7 129.6h1.6v1.6h-1.6zM123.2 102.6h1.6v1.6h-1.6zM126.0 103.7h1.6v1.6h-1.6zM106.1 128.4h1.6v1.6h-1.6zM94.4 129.5h1.6v1.6h-1.6zM97.6 128.6h1.6v1.6h-1.6zM122.5 106.6h1.6v1.6h-1.6zM125.3 107.1h1.6v1.6h-1.6zM68.3 120.0h1.6v1.6h-1.6zM71.8 120.2h1.6v1.6h-1.6zM128.8 118.8h1.6v1.6h-1.6zM115.9 141.7h1.6v1.6h-1.6zM118.4 141.7h1.6v1.6h-1.6zM101.3 119.7h1.6v1.6h-1.6zM104.1 118.3h1.6v1.6h-1.6zM94.1 129.0h1.6v1.6h-1.6zM90.2 143.6h1.6v1.6h-1.6zM93.4 142.8h1.6v1.6h-1.6zM90.6 119.8h1.6v1.6h-1.6zM82.7 114.5h1.6v1.6h-1.6zM85.0 114.6h1.6v1.6h-1.6zM129.5 141.6h1.6v1.6h-1.6zM131.8 142.3h1.6v1.6h-1.6zM129.8 120.7h1.6v1.6h-1.6zM82.3 138.4h1.6v1.6h-1.6zM132.7 132.4h1.6v1.6h-1.6zM135.1 132.0h1.6v1.6h-1.6zM81.3 140.6h1.6v1.6h-1.6zM84.5 141.3h1.6v1.6h-1.6zM103.3 103.4h1.6v1.6h-1.6zM107.0 103.3h1.6v1.6h-1.6zM148.9 121.5h1.6v1.6h-1.6zM132.2 108.5h1.6v1.6h-1.6zM134.5 107.5h1.6v1.6h-1.6zM137.7 108.4h1.6v1.6h-1.6zM75.7 142.5h1.6v1.6h-1.6zM62.8 107.2h1.6v1.6h-1.6zM120.8 143.8h1.6v1.6h-1.6zM146.3 108.4h1.6v1.6h-1.6zM134.2 142.7h1.6v1.6h-1.6zM137.1 144.4h1.6v1.6h-1.6zM116.2 119.7h1.6v1.6h-1.6zM118.8 120.7h1.6v1.6h-1.6zM148.5 107.4h1.6v1.6h-1.6zM151.0 106.8h1.6v1.6h-1.6zM79.3 95.3h1.6v1.6h-1.6zM125.1 95.9h1.6v1.6h-1.6zM128.7 97.2h1.6v1.6h-1.6zM175.2 92.3h1.6v1.6h-1.6zM177.8 90.6h1.6v1.6h-1.6zM195.9 99.7h1.6v1.6h-1.6zM199.1 98.3h1.6v1.6h-1.6zM75.5 95.7h1.6v1.6h-1.6zM194.8 79.9h1.6v1.6h-1.6zM123.3 85.0h1.6v1.6h-1.6zM80.4 76.7h1.6v1.6h-1.6zM71.2 85.3h1.6v1.6h-1.6zM73.9 85.2h1.6v1.6h-1.6zM101.5 96.9h1.6v1.6h-1.6zM103.7 96.8h1.6v1.6h-1.6zM119.3 86.8h1.6v1.6h-1.6zM121.7 85.5h1.6v1.6h-1.6zM170.0 85.7h1.6v1.6h-1.6zM166.3 84.7h1.6v1.6h-1.6zM128.6 76.5h1.6v1.6h-1.6zM131.1 76.0h1.6v1.6h-1.6zM130.0 86.3h1.6v1.6h-1.6zM132.7 85.7h1.6v1.6h-1.6zM151.8 92.4h1.6v1.6h-1.6zM154.3 93.6h1.6v1.6h-1.6zM151.9 82.1h1.6v1.6h-1.6zM154.4 81.7h1.6v1.6h-1.6zM135.1 80.4h1.6v1.6h-1.6zM100.3 96.4h1.6v1.6h-1.6zM103.9 96.7h1.6v1.6h-1.6zM87.1 96.0h1.6v1.6h-1.6zM89.4 95.8h1.6v1.6h-1.6zM142.0 96.3h1.6v1.6h-1.6zM144.7 96.2h1.6v1.6h-1.6zM79.5 91.3h1.6v1.6h-1.6zM164.2 86.3h1.6v1.6h-1.6zM166.7 87.0h1.6v1.6h-1.6zM172.8 99.8h1.6v1.6h-1.6zM178.4 93.5h1.6v1.6h-1.6zM125.5 85.5h1.6v1.6h-1.6zM128.1 84.8h1.6v1.6h-1.6zM125.3 82.1h1.6v1.6h-1.6zM128.2 83.3h1.6v1.6h-1.6zM99.8 85.1h1.6v1.6h-1.6zM102.7 84.8h1.6v1.6h-1.6zM152.4 94.9h1.6v1.6h-1.6zM155.3 95.0h1.6v1.6h-1.6zM152.6 96.6h1.6v1.6h-1.6zM192.4 95.9h1.6v1.6h-1.6zM74.7 101.0h1.6v1.6h-1.6zM76.3 83.0h1.6v1.6h-1.6zM79.5 83.0h1.6v1.6h-1.6zM118.8 84.7h1.6v1.6h-1.6zM81.9 87.0h1.6v1.6h-1.6zM85.1 87.2h1.6v1.6h-1.6zM61.3 74.6h1.6v1.6h-1.6zM106.8 94.3h1.6v1.6h-1.6zM96.4 98.1h1.6v1.6h-1.6zM183.7 93.7h1.6v1.6h-1.6zM74.1 96.8h1.6v1.6h-1.6zM139.9 98.5h1.6v1.6h-1.6zM172.9 81.4h1.6v1.6h-1.6zM170.7 94.2h1.6v1.6h-1.6zM66.4 87.7h1.6v1.6h-1.6zM69.7 88.0h1.6v1.6h-1.6zM129.1 95.0h1.6v1.6h-1.6zM73.4 84.5h1.6v1.6h-1.6zM104.5 100.7h1.6v1.6h-1.6zM106.7 100.4h1.6v1.6h-1.6zM137.7 92.6h1.6v1.6h-1.6zM194.3 84.4h1.6v1.6h-1.6zM188.6 80.9h1.6v1.6h-1.6zM159.9 109.6h1.6v1.6h-1.6zM150.5 133.4h1.6v1.6h-1.6zM167.4 154.0h1.6v1.6h-1.6zM157.1 155.7h1.6v1.6h-1.6zM171.9 112.6h1.6v1.6h-1.6zM165.2 120.2h1.6v1.6h-1.6zM167.5 119.3h1.6v1.6h-1.6zM173.4 153.2h1.6v1.6h-1.6zM177.1 141.4h1.6v1.6h-1.6zM165.5 129.6h1.6v1.6h-1.6zM186.6 108.3h1.6v1.6h-1.6zM188.9 120.3h1.6v1.6h-1.6zM189.3 142.8h1.6v1.6h-1.6zM187.7 109.1h1.6v1.6h-1.6zM161.6 121.0h1.6v1.6h-1.6zM182.0 111.1h1.6v1.6h-1.6zM187.2 141.8h1.6v1.6h-1.6zM190.8 128.7h1.6v1.6h-1.6zM185.8 132.0h1.6v1.6h-1.6zM196.1 104.6h1.6v1.6h-1.6zM184.2 131.9h1.6v1.6h-1.6zM179.3 129.4h1.6v1.6h-1.6zM182.3 129.9h1.6v1.6h-1.6zM173.7 107.8h1.6v1.6h-1.6zM176.8 108.0h1.6v1.6h-1.6zM160.3 152.2h1.6v1.6h-1.6zM156.0 118.8h1.6v1.6h-1.6zM184.2 108.8h1.6v1.6h-1.6zM181.6 101.0h1.6v1.6h-1.6zM156.3 152.1h1.6v1.6h-1.6zM68.2 155.3h1.6v1.6h-1.6zM62.9 153.8h1.6v1.6h-1.6zM110.7 154.1h1.6v1.6h-1.6zM141.8 149.9h1.6v1.6h-1.6zM123.0 155.8h1.6v1.6h-1.6zM133.7 152.7h1.6v1.6h-1.6zM61.0 152.2h1.6v1.6h-1.6zM124.2 152.1h1.6v1.6h-1.6zM70.3 151.9h1.6v1.6h-1.6zM284.6 54.6h1.6v1.6h-1.6zM288.0 54.9h1.6v1.6h-1.6zM230.1 61.0h1.6v1.6h-1.6zM232.4 60.9h1.6v1.6h-1.6zM275.1 39.4h1.6v1.6h-1.6zM277.6 40.5h1.6v1.6h-1.6zM231.9 74.7h1.6v1.6h-1.6zM235.3 75.0h1.6v1.6h-1.6zM313.4 39.4h1.6v1.6h-1.6zM316.8 39.2h1.6v1.6h-1.6zM199.8 47.4h1.6v1.6h-1.6zM202.2 47.5h1.6v1.6h-1.6zM324.8 17.4h1.6v1.6h-1.6zM241.2 43.4h1.6v1.6h-1.6zM317.4 50.2h1.6v1.6h-1.6zM267.9 50.2h1.6v1.6h-1.6zM270.6 50.9h1.6v1.6h-1.6zM279.0 74.5h1.6v1.6h-1.6zM251.4 13.8h1.6v1.6h-1.6zM249.3 29.4h1.6v1.6h-1.6zM251.8 29.4h1.6v1.6h-1.6zM215.0 75.7h1.6v1.6h-1.6zM217.7 74.6h1.6v1.6h-1.6zM285.4 77.7h1.6v1.6h-1.6zM301.1 16.9h1.6v1.6h-1.6zM303.8 18.6h1.6v1.6h-1.6zM219.5 51.0h1.6v1.6h-1.6zM232.6 31.9h1.6v1.6h-1.6zM235.7 31.6h1.6v1.6h-1.6zM238.9 17.6h1.6v1.6h-1.6zM242.0 17.9h1.6v1.6h-1.6zM228.8 79.2h1.6v1.6h-1.6zM206.0 21.1h1.6v1.6h-1.6zM321.4 74.5h1.6v1.6h-1.6zM286.4 63.9h1.6v1.6h-1.6zM213.9 41.1h1.6v1.6h-1.6zM212.9 41.7h1.6v1.6h-1.6zM216.6 41.2h1.6v1.6h-1.6zM200.7 29.2h1.6v1.6h-1.6zM203.8 28.1h1.6v1.6h-1.6zM319.8 66.7h1.6v1.6h-1.6zM247.5 63.6h1.6v1.6h-1.6zM232.1 42.2h1.6v1.6h-1.6zM298.3 76.8h1.6v1.6h-1.6zM300.6 76.7h1.6v1.6h-1.6zM208.5 63.9h1.6v1.6h-1.6zM284.7 41.2h1.6v1.6h-1.6zM288.4 42.2h1.6v1.6h-1.6zM281.4 38.5h1.6v1.6h-1.6zM326.4 66.1h1.6v1.6h-1.6zM325.0 48.7h1.6v1.6h-1.6zM272.0 18.5h1.6v1.6h-1.6zM274.8 19.0h1.6v1.6h-1.6zM197.2 29.1h1.6v1.6h-1.6zM200.0 30.5h1.6v1.6h-1.6zM225.0 73.8h1.6v1.6h-1.6zM227.2 72.6h1.6v1.6h-1.6zM206.1 62.7h1.6v1.6h-1.6zM208.6 61.8h1.6v1.6h-1.6zM301.6 63.6h1.6v1.6h-1.6zM236.1 53.5h1.6v1.6h-1.6zM238.6 52.9h1.6v1.6h-1.6zM292.4 69.1h1.6v1.6h-1.6zM278.0 52.7h1.6v1.6h-1.6zM269.1 51.4h1.6v1.6h-1.6zM272.3 50.9h1.6v1.6h-1.6zM227.8 27.7h1.6v1.6h-1.6zM259.0 66.7h1.6v1.6h-1.6zM306.9 76.2h1.6v1.6h-1.6zM310.3 76.8h1.6v1.6h-1.6zM264.9 62.6h1.6v1.6h-1.6zM210.2 28.9h1.6v1.6h-1.6zM251.4 74.2h1.6v1.6h-1.6zM272.1 73.5h1.6v1.6h-1.6zM232.8 16.0h1.6v1.6h-1.6zM329.8 29.2h1.6v1.6h-1.6zM259.4 41.9h1.6v1.6h-1.6zM213.5 40.7h1.6v1.6h-1.6zM219.8 63.9h1.6v1.6h-1.6zM222.1 63.4h1.6v1.6h-1.6zM207.0 62.9h1.6v1.6h-1.6zM331.3 49.6h1.6v1.6h-1.6zM333.9 49.3h1.6v1.6h-1.6zM314.0 17.0h1.6v1.6h-1.6zM243.2 27.5h1.6v1.6h-1.6zM246.9 27.9h1.6v1.6h-1.6zM236.6 52.0h1.6v1.6h-1.6zM239.6 52.6h1.6v1.6h-1.6zM261.2 40.8h1.6v1.6h-1.6zM263.7 41.3h1.6v1.6h-1.6zM237.6 17.6h1.6v1.6h-1.6zM316.0 54.6h1.6v1.6h-1.6zM213.6 75.0h1.6v1.6h-1.6zM252.7 31.5h1.6v1.6h-1.6zM243.9 64.0h1.6v1.6h-1.6zM247.6 63.6h1.6v1.6h-1.6zM253.3 44.2h1.6v1.6h-1.6zM225.3 26.7h1.6v1.6h-1.6zM327.9 30.7h1.6v1.6h-1.6zM330.9 30.5h1.6v1.6h-1.6zM208.9 50.2h1.6v1.6h-1.6zM297.9 17.0h1.6v1.6h-1.6zM254.9 62.0h1.6v1.6h-1.6zM265.8 52.3h1.6v1.6h-1.6zM237.0 51.7h1.6v1.6h-1.6zM240.4 52.9h1.6v1.6h-1.6zM323.5 19.6h1.6v1.6h-1.6zM326.0 19.8h1.6v1.6h-1.6zM245.3 52.7h1.6v1.6h-1.6zM248.2 52.7h1.6v1.6h-1.6zM262.9 51.3h1.6v1.6h-1.6zM207.0 70.8h1.6v1.6h-1.6zM210.2 70.8h1.6v1.6h-1.6zM262.5 49.2h1.6v1.6h-1.6zM265.7 50.4h1.6v1.6h-1.6zM252.2 50.8h1.6v1.6h-1.6zM255.7 50.7h1.6v1.6h-1.6zM224.7 26.2h1.6v1.6h-1.6zM262.8 43.1h1.6v1.6h-1.6zM237.3 40.2h1.6v1.6h-1.6zM244.5 19.5h1.6v1.6h-1.6zM247.2 19.2h1.6v1.6h-1.6zM326.1 60.4h1.6v1.6h-1.6zM268.4 63.3h1.6v1.6h-1.6zM305.8 31.3h1.6v1.6h-1.6zM309.0 31.3h1.6v1.6h-1.6zM319.3 42.7h1.6v1.6h-1.6zM321.6 42.8h1.6v1.6h-1.6zM309.7 74.4h1.6v1.6h-1.6zM305.3 62.9h1.6v1.6h-1.6zM308.0 62.6h1.6v1.6h-1.6zM323.6 18.6h1.6v1.6h-1.6zM295.9 17.2h1.6v1.6h-1.6zM298.8 16.7h1.6v1.6h-1.6zM302.2 30.7h1.6v1.6h-1.6zM305.4 30.5h1.6v1.6h-1.6zM227.2 75.6h1.6v1.6h-1.6zM230.6 75.4h1.6v1.6h-1.6zM329.7 43.4h1.6v1.6h-1.6zM333.3 43.1h1.6v1.6h-1.6zM241.4 28.5h1.6v1.6h-1.6zM272.5 40.8h1.6v1.6h-1.6zM265.1 40.0h1.6v1.6h-1.6zM268.5 40.3h1.6v1.6h-1.6zM232.4 51.8h1.6v1.6h-1.6zM235.7 51.2h1.6v1.6h-1.6zM267.4 73.1h1.6v1.6h-1.6zM217.3 53.8h1.6v1.6h-1.6zM220.4 53.7h1.6v1.6h-1.6zM232.4 31.4h1.6v1.6h-1.6zM234.6 30.6h1.6v1.6h-1.6zM249.3 40.6h1.6v1.6h-1.6zM307.7 50.1h1.6v1.6h-1.6zM310.6 49.7h1.6v1.6h-1.6zM279.5 17.7h1.6v1.6h-1.6zM282.6 18.3h1.6v1.6h-1.6zM332.7 44.3h1.6v1.6h-1.6zM301.5 16.8h1.6v1.6h-1.6zM243.5 39.9h1.6v1.6h-1.6zM246.3 38.9h1.6v1.6h-1.6zM214.7 31.7h1.6v1.6h-1.6zM217.9 31.2h1.6v1.6h-1.6zM249.4 65.1h1.6v1.6h-1.6zM228.2 60.9h1.6v1.6h-1.6zM208.9 28.3h1.6v1.6h-1.6zM325.5 52.0h1.6v1.6h-1.6zM328.5 51.8h1.6v1.6h-1.6zM324.2 49.8h1.6v1.6h-1.6zM274.6 73.8h1.6v1.6h-1.6zM204.1 9.5h1.6v1.6h-1.6zM302.7 48.6h1.6v1.6h-1.6zM305.5 49.6h1.6v1.6h-1.6zM225.7 90.0h1.6v1.6h-1.6zM306.0 86.3h1.6v1.6h-1.6zM300.4 87.9h1.6v1.6h-1.6zM217.8 83.8h1.6v1.6h-1.6zM220.1 84.8h1.6v1.6h-1.6zM306.0 97.6h1.6v1.6h-1.6zM285.4 83.8h1.6v1.6h-1.6zM218.9 88.3h1.6v1.6h-1.6zM326.6 96.1h1.6v1.6h-1.6zM329.3 95.5h1.6v1.6h-1.6zM301.3 71.7h1.6v1.6h-1.6zM303.7 71.9h1.6v1.6h-1.6zM223.7 95.9h1.6v1.6h-1.6zM258.8 85.0h1.6v1.6h-1.6zM286.8 83.9h1.6v1.6h-1.6zM218.6 87.1h1.6v1.6h-1.6zM221.9 86.8h1.6v1.6h-1.6zM310.5 84.8h1.6v1.6h-1.6zM271.1 96.1h1.6v1.6h-1.6zM282.1 82.9h1.6v1.6h-1.6zM240.5 84.4h1.6v1.6h-1.6zM313.5 83.6h1.6v1.6h-1.6zM315.8 85.1h1.6v1.6h-1.6zM227.2 95.4h1.6v1.6h-1.6zM230.3 95.5h1.6v1.6h-1.6zM277.9 94.1h1.6v1.6h-1.6zM280.9 94.1h1.6v1.6h-1.6zM290.5 89.3h1.6v1.6h-1.6zM224.0 86.9h1.6v1.6h-1.6zM227.1 85.8h1.6v1.6h-1.6zM214.2 86.9h1.6v1.6h-1.6zM239.0 88.8h1.6v1.6h-1.6zM242.2 87.5h1.6v1.6h-1.6zM265.2 95.0h1.6v1.6h-1.6zM198.7 83.9h1.6v1.6h-1.6zM201.5 84.0h1.6v1.6h-1.6zM221.7 84.7h1.6v1.6h-1.6zM196.9 87.6h1.6v1.6h-1.6zM200.4 86.6h1.6v1.6h-1.6zM235.0 97.9h1.6v1.6h-1.6zM303.5 83.5h1.6v1.6h-1.6zM279.2 94.3h1.6v1.6h-1.6zM306.3 94.7h1.6v1.6h-1.6zM298.6 96.5h1.6v1.6h-1.6zM301.4 96.6h1.6v1.6h-1.6zM317.1 85.3h1.6v1.6h-1.6zM280.3 86.8h1.6v1.6h-1.6zM215.2 86.4h1.6v1.6h-1.6zM217.6 87.3h1.6v1.6h-1.6zM227.3 88.4h1.6v1.6h-1.6zM230.3 86.1h1.6v1.6h-1.6zM290.1 85.6h1.6v1.6h-1.6zM253.9 96.5h1.6v1.6h-1.6zM257.3 95.8h1.6v1.6h-1.6zM240.5 85.0h1.6v1.6h-1.6zM243.3 85.2h1.6v1.6h-1.6zM318.2 84.9h1.6v1.6h-1.6zM321.2 85.5h1.6v1.6h-1.6zM306.6 84.1h1.6v1.6h-1.6zM309.7 84.5h1.6v1.6h-1.6zM238.3 97.2h1.6v1.6h-1.6zM241.5 97.6h1.6v1.6h-1.6zM197.0 96.0h1.6v1.6h-1.6zM206.6 96.7h1.6v1.6h-1.6zM209.4 96.3h1.6v1.6h-1.6zM319.9 83.9h1.6v1.6h-1.6zM301.4 101.1h1.6v1.6h-1.6zM303.8 100.7h1.6v1.6h-1.6zM269.8 84.4h1.6v1.6h-1.6zM273.2 85.0h1.6v1.6h-1.6zM215.9 84.8h1.6v1.6h-1.6zM236.3 74.0h1.6v1.6h-1.6zM239.9 73.5h1.6v1.6h-1.6zM315.3 76.6h1.6v1.6h-1.6zM319.5 85.7h1.6v1.6h-1.6zM324.0 85.0h1.6v1.6h-1.6zM327.4 84.3h1.6v1.6h-1.6zM301.8 84.5h1.6v1.6h-1.6zM304.4 85.3h1.6v1.6h-1.6zM214.1 82.9h1.6v1.6h-1.6zM267.1 84.1h1.6v1.6h-1.6zM270.2 84.2h1.6v1.6h-1.6zM299.7 84.8h1.6v1.6h-1.6zM302.4 86.1h1.6v1.6h-1.6zM240.0 95.2h1.6v1.6h-1.6zM260.1 94.3h1.6v1.6h-1.6zM263.8 94.7h1.6v1.6h-1.6zM231.4 92.9h1.6v1.6h-1.6zM234.5 94.3h1.6v1.6h-1.6zM220.8 87.0h1.6v1.6h-1.6zM223.1 85.5h1.6v1.6h-1.6zM205.4 87.5h1.6v1.6h-1.6zM207.8 86.9h1.6v1.6h-1.6zM302.9 95.4h1.6v1.6h-1.6zM263.4 81.9h1.6v1.6h-1.6zM228.4 98.1h1.6v1.6h-1.6zM230.8 96.7h1.6v1.6h-1.6zM207.7 88.6h1.6v1.6h-1.6zM210.2 88.7h1.6v1.6h-1.6zM289.4 91.1h1.6v1.6h-1.6zM235.2 87.3h1.6v1.6h-1.6zM230.2 88.3h1.6v1.6h-1.6zM222.2 83.8h1.6v1.6h-1.6zM213.8 84.6h1.6v1.6h-1.6zM216.2 84.9h1.6v1.6h-1.6zM264.3 97.9h1.6v1.6h-1.6zM285.6 85.3h1.6v1.6h-1.6zM200.7 95.6h1.6v1.6h-1.6zM204.1 95.7h1.6v1.6h-1.6zM217.5 93.1h1.6v1.6h-1.6zM221.0 93.9h1.6v1.6h-1.6zM305.1 83.6h1.6v1.6h-1.6zM316.7 98.7h1.6v1.6h-1.6zM283.4 153.9h1.6v1.6h-1.6zM233.4 142.4h1.6v1.6h-1.6zM206.1 141.3h1.6v1.6h-1.6zM317.4 137.9h1.6v1.6h-1.6zM212.7 117.9h1.6v1.6h-1.6zM205.9 105.4h1.6v1.6h-1.6zM313.1 154.0h1.6v1.6h-1.6zM246.7 131.7h1.6v1.6h-1.6zM287.7 130.3h1.6v1.6h-1.6zM324.6 117.6h1.6v1.6h-1.6zM251.4 142.1h1.6v1.6h-1.6zM293.5 118.6h1.6v1.6h-1.6zM241.7 107.4h1.6v1.6h-1.6zM283.4 131.0h1.6v1.6h-1.6zM268.3 108.4h1.6v1.6h-1.6zM206.9 119.8h1.6v1.6h-1.6zM199.7 96.6h1.6v1.6h-1.6zM202.5 96.9h1.6v1.6h-1.6zM331.7 152.6h1.6v1.6h-1.6zM334.2 153.0h1.6v1.6h-1.6zM227.0 106.4h1.6v1.6h-1.6zM208.2 129.0h1.6v1.6h-1.6zM328.8 102.8h1.6v1.6h-1.6zM278.7 116.3h1.6v1.6h-1.6zM224.1 126.5h1.6v1.6h-1.6zM239.3 127.5h1.6v1.6h-1.6zM203.9 121.7h1.6v1.6h-1.6zM286.2 153.1h1.6v1.6h-1.6zM232.3 124.3h1.6v1.6h-1.6zM210.7 119.8h1.6v1.6h-1.6zM264.5 98.4h1.6v1.6h-1.6zM267.9 99.5h1.6v1.6h-1.6zM200.6 127.0h1.6v1.6h-1.6zM307.8 121.5h1.6v1.6h-1.6zM223.1 130.1h1.6v1.6h-1.6zM286.4 121.4h1.6v1.6h-1.6zM207.4 142.7h1.6v1.6h-1.6zM241.2 141.1h1.6v1.6h-1.6zM313.4 128.3h1.6v1.6h-1.6zM255.3 110.2h1.6v1.6h-1.6zM258.2 131.1h1.6v1.6h-1.6zM204.9 142.0h1.6v1.6h-1.6zM200.8 128.8h1.6v1.6h-1.6zM253.8 141.1h1.6v1.6h-1.6zM301.8 156.0h1.6v1.6h-1.6zM299.3 96.2h1.6v1.6h-1.6zM326.2 128.9h1.6v1.6h-1.6zM331.7 94.5h1.6v1.6h-1.6zM280.8 98.8h1.6v1.6h-1.6zM229.9 152.3h1.6v1.6h-1.6zM323.8 106.0h1.6v1.6h-1.6zM306.7 131.3h1.6v1.6h-1.6zM278.2 117.4h1.6v1.6h-1.6zM219.9 108.4h1.6v1.6h-1.6zM222.3 109.2h1.6v1.6h-1.6zM225.8 119.5h1.6v1.6h-1.6zM248.9 123.5h1.6v1.6h-1.6zM276.1 130.8h1.6v1.6h-1.6zM272.9 123.8h1.6v1.6h-1.6zM275.8 123.2h1.6v1.6h-1.6zM260.2 135.0h1.6v1.6h-1.6zM233.9 143.7h1.6v1.6h-1.6zM265.9 118.9h1.6v1.6h-1.6zM279.7 133.6h1.6v1.6h-1.6zM269.5 107.7h1.6v1.6h-1.6zM233.9 105.0h1.6v1.6h-1.6zM274.7 131.8h1.6v1.6h-1.6zM282.4 131.3h1.6v1.6h-1.6zM292.1 119.6h1.6v1.6h-1.6zM275.9 105.1h1.6v1.6h-1.6zM201.6 117.5h1.6v1.6h-1.6zM332.2 139.0h1.6v1.6h-1.6zM335.2 138.6h1.6v1.6h-1.6zM261.8 103.6h1.6v1.6h-1.6zM265.2 103.7h1.6v1.6h-1.6zM336.1 98.7h1.6v1.6h-1.6zM347.0 131.8h1.6v1.6h-1.6zM352.8 62.0h1.6v1.6h-1.6zM343.6 26.7h1.6v1.6h-1.6zM337.4 27.5h1.6v1.6h-1.6zM345.6 47.4h1.6v1.6h-1.6zM340.3 17.7h1.6v1.6h-1.6zM349.4 115.3h1.6v1.6h-1.6zM356.0 85.3h1.6v1.6h-1.6zM366.6 17.5h1.6v1.6h-1.6zM359.7 64.1h1.6v1.6h-1.6zM372.2 95.0h1.6v1.6h-1.6zM336.1 37.4h1.6v1.6h-1.6zM341.8 119.9h1.6v1.6h-1.6zM337.1 16.7h1.6v1.6h-1.6zM352.8 95.0h1.6v1.6h-1.6zM370.0 65.3h1.6v1.6h-1.6zM344.5 111.1h1.6v1.6h-1.6zM370.3 87.9h1.6v1.6h-1.6zM350.7 128.9h1.6v1.6h-1.6zM353.3 129.8h1.6v1.6h-1.6zM365.0 63.0h1.6v1.6h-1.6zM362.5 29.3h1.6v1.6h-1.6zM366.1 29.3h1.6v1.6h-1.6zM366.2 152.5h1.6v1.6h-1.6zM368.7 28.8h1.6v1.6h-1.6zM371.9 29.6h1.6v1.6h-1.6zM368.6 142.3h1.6v1.6h-1.6zM387.1 38.8h1.6v1.6h-1.6zM387.6 31.0h1.6v1.6h-1.6zM390.2 30.0h1.6v1.6h-1.6zM401.1 43.6h1.6v1.6h-1.6zM413.9 65.0h1.6v1.6h-1.6zM379.8 20.0h1.6v1.6h-1.6zM388.9 61.0h1.6v1.6h-1.6zM392.4 61.4h1.6v1.6h-1.6zM410.4 26.5h1.6v1.6h-1.6zM406.7 52.2h1.6v1.6h-1.6zM410.4 53.1h1.6v1.6h-1.6zM407.9 29.9h1.6v1.6h-1.6zM405.7 64.0h1.6v1.6h-1.6zM419.5 66.2h1.6v1.6h-1.6zM399.9 65.5h1.6v1.6h-1.6zM402.2 66.8h1.6v1.6h-1.6zM401.7 17.0h1.6v1.6h-1.6zM403.6 55.2h1.6v1.6h-1.6zM380.7 18.9h1.6v1.6h-1.6zM383.6 19.1h1.6v1.6h-1.6zM380.6 50.6h1.6v1.6h-1.6zM399.8 62.6h1.6v1.6h-1.6zM390.2 19.4h1.6v1.6h-1.6zM387.5 30.7h1.6v1.6h-1.6zM389.8 30.5h1.6v1.6h-1.6zM376.9 73.6h1.6v1.6h-1.6zM380.5 73.8h1.6v1.6h-1.6zM383.8 18.3h1.6v1.6h-1.6zM387.3 18.3h1.6v1.6h-1.6zM384.7 41.3h1.6v1.6h-1.6zM394.7 41.2h1.6v1.6h-1.6zM374.5 14.3h1.6v1.6h-1.6zM377.2 13.5h1.6v1.6h-1.6zM399.6 34.2h1.6v1.6h-1.6zM401.8 34.0h1.6v1.6h-1.6zM409.0 62.4h1.6v1.6h-1.6zM383.9 40.2h1.6v1.6h-1.6zM387.4 40.4h1.6v1.6h-1.6zM417.5 28.2h1.6v1.6h-1.6zM377.0 18.2h1.6v1.6h-1.6zM387.5 17.7h1.6v1.6h-1.6zM405.6 8.9h1.6v1.6h-1.6zM394.9 29.1h1.6v1.6h-1.6zM398.5 29.8h1.6v1.6h-1.6zM375.3 28.6h1.6v1.6h-1.6zM378.1 27.9h1.6v1.6h-1.6zM385.2 65.2h1.6v1.6h-1.6zM400.8 44.5h1.6v1.6h-1.6zM403.7 43.6h1.6v1.6h-1.6zM401.7 64.5h1.6v1.6h-1.6zM400.0 28.6h1.6v1.6h-1.6zM402.4 28.6h1.6v1.6h-1.6zM395.7 60.3h1.6v1.6h-1.6zM398.5 60.4h1.6v1.6h-1.6zM408.6 41.6h1.6v1.6h-1.6zM412.1 41.1h1.6v1.6h-1.6zM387.8 64.4h1.6v1.6h-1.6zM390.4 64.1h1.6v1.6h-1.6zM403.4 41.8h1.6v1.6h-1.6zM403.6 63.3h1.6v1.6h-1.6zM402.6 75.5h1.6v1.6h-1.6zM374.5 50.4h1.6v1.6h-1.6zM394.8 106.6h1.6v1.6h-1.6zM412.4 133.7h1.6v1.6h-1.6zM405.9 128.7h1.6v1.6h-1.6zM411.3 98.3h1.6v1.6h-1.6zM381.6 97.2h1.6v1.6h-1.6zM418.0 86.0h1.6v1.6h-1.6zM421.1 87.4h1.6v1.6h-1.6zM382.2 130.1h1.6v1.6h-1.6zM405.4 87.4h1.6v1.6h-1.6zM400.5 96.5h1.6v1.6h-1.6zM385.6 130.1h1.6v1.6h-1.6zM388.5 130.1h1.6v1.6h-1.6zM379.4 117.7h1.6v1.6h-1.6zM392.9 84.8h1.6v1.6h-1.6zM386.7 132.9h1.6v1.6h-1.6zM399.5 85.5h1.6v1.6h-1.6zM391.0 118.6h1.6v1.6h-1.6zM401.7 109.6h1.6v1.6h-1.6zM382.9 108.0h1.6v1.6h-1.6zM379.0 156.6h1.6v1.6h-1.6zM381.6 156.7h1.6v1.6h-1.6zM410.1 151.1h1.6v1.6h-1.6zM386.6 141.3h1.6v1.6h-1.6zM393.2 108.6h1.6v1.6h-1.6zM395.9 108.2h1.6v1.6h-1.6zM414.6 90.2h1.6v1.6h-1.6zM377.5 108.5h1.6v1.6h-1.6zM374.7 118.1h1.6v1.6h-1.6zM376.8 85.2h1.6v1.6h-1.6zM380.4 85.4h1.6v1.6h-1.6zM375.0 111.4h1.6v1.6h-1.6zM411.3 120.9h1.6v1.6h-1.6zM412.0 154.2h1.6v1.6h-1.6zM380.0 152.7h1.6v1.6h-1.6zM383.4 151.8h1.6v1.6h-1.6zM388.4 100.7h1.6v1.6h-1.6zM387.1 105.8h1.6v1.6h-1.6zM390.6 105.0h1.6v1.6h-1.6zM383.7 140.9h1.6v1.6h-1.6zM387.0 142.9h1.6v1.6h-1.6zM376.8 108.8h1.6v1.6h-1.6zM379.7 108.8h1.6v1.6h-1.6zM377.4 85.6h1.6v1.6h-1.6zM380.9 86.0h1.6v1.6h-1.6zM384.9 109.3h1.6v1.6h-1.6zM406.7 118.6h1.6v1.6h-1.6zM408.4 154.4h1.6v1.6h-1.6zM412.1 154.9h1.6v1.6h-1.6zM417.6 119.1h1.6v1.6h-1.6zM380.4 86.2h1.6v1.6h-1.6zM386.2 154.7h1.6v1.6h-1.6zM385.6 153.2h1.6v1.6h-1.6zM413.7 113.1h1.6v1.6h-1.6zM416.5 113.6h1.6v1.6h-1.6zM416.9 139.7h1.6v1.6h-1.6zM393.3 87.0h1.6v1.6h-1.6zM394.8 117.2h1.6v1.6h-1.6zM415.2 96.8h1.6v1.6h-1.6zM418.5 97.4h1.6v1.6h-1.6zM414.8 108.6h1.6v1.6h-1.6zM417.5 108.3h1.6v1.6h-1.6zM388.2 141.7h1.6v1.6h-1.6zM415.9 151.1h1.6v1.6h-1.6zM419.0 151.7h1.6v1.6h-1.6zM379.2 141.4h1.6v1.6h-1.6zM404.7 119.3h1.6v1.6h-1.6zM376.4 154.1h1.6v1.6h-1.6zM380.0 153.9h1.6v1.6h-1.6zM468.9 30.0h1.6v1.6h-1.6zM454.2 29.8h1.6v1.6h-1.6zM446.3 21.0h1.6v1.6h-1.6zM440.8 21.2h1.6v1.6h-1.6zM439.7 27.6h1.6v1.6h-1.6zM453.2 23.7h1.6v1.6h-1.6zM456.7 21.7h1.6v1.6h-1.6zM438.0 31.7h1.6v1.6h-1.6zM438.2 28.1h1.6v1.6h-1.6zM434.5 29.2h1.6v1.6h-1.6zM453.5 17.6h1.6v1.6h-1.6zM469.3 30.0h1.6v1.6h-1.6zM446.0 16.5h1.6v1.6h-1.6zM448.7 16.7h1.6v1.6h-1.6zM432.5 16.8h1.6v1.6h-1.6zM435.3 17.3h1.6v1.6h-1.6zM445.4 40.7h1.6v1.6h-1.6zM447.7 41.4h1.6v1.6h-1.6zM459.2 65.2h1.6v1.6h-1.6zM425.2 60.8h1.6v1.6h-1.6zM428.8 60.9h1.6v1.6h-1.6zM424.3 66.6h1.6v1.6h-1.6zM455.2 64.7h1.6v1.6h-1.6zM451.4 65.8h1.6v1.6h-1.6zM454.1 65.2h1.6v1.6h-1.6zM426.0 64.7h1.6v1.6h-1.6zM422.1 71.9h1.6v1.6h-1.6zM469.5 64.1h1.6v1.6h-1.6zM454.9 75.6h1.6v1.6h-1.6zM457.4 74.9h1.6v1.6h-1.6zM459.7 38.8h1.6v1.6h-1.6zM430.5 72.8h1.6v1.6h-1.6zM433.3 73.6h1.6v1.6h-1.6zM433.8 63.7h1.6v1.6h-1.6zM436.5 63.8h1.6v1.6h-1.6zM465.3 39.7h1.6v1.6h-1.6zM463.9 74.8h1.6v1.6h-1.6zM443.4 52.4h1.6v1.6h-1.6zM446.6 53.3h1.6v1.6h-1.6zM428.0 52.5h1.6v1.6h-1.6zM420.3 39.3h1.6v1.6h-1.6zM423.4 38.6h1.6v1.6h-1.6zM442.6 41.4h1.6v1.6h-1.6zM435.3 62.0h1.6v1.6h-1.6zM438.8 61.8h1.6v1.6h-1.6zM468.6 73.8h1.6v1.6h-1.6zM471.4 74.8h1.6v1.6h-1.6zM457.3 51.5h1.6v1.6h-1.6zM459.6 51.3h1.6v1.6h-1.6zM449.4 63.3h1.6v1.6h-1.6zM461.0 40.0h1.6v1.6h-1.6zM432.7 75.8h1.6v1.6h-1.6zM437.7 49.2h1.6v1.6h-1.6zM442.6 65.9h1.6v1.6h-1.6zM432.8 61.3h1.6v1.6h-1.6zM420.3 52.8h1.6v1.6h-1.6zM444.4 73.0h1.6v1.6h-1.6zM460.6 65.3h1.6v1.6h-1.6zM421.4 47.6h1.6v1.6h-1.6zM424.6 48.4h1.6v1.6h-1.6zM464.7 61.3h1.6v1.6h-1.6zM469.3 54.1h1.6v1.6h-1.6zM472.3 53.5h1.6v1.6h-1.6zM426.0 62.7h1.6v1.6h-1.6zM429.5 63.7h1.6v1.6h-1.6zM423.2 53.9h1.6v1.6h-1.6zM432.9 63.1h1.6v1.6h-1.6zM462.1 51.3h1.6v1.6h-1.6zM465.7 51.6h1.6v1.6h-1.6zM437.2 51.4h1.6v1.6h-1.6zM439.7 50.9h1.6v1.6h-1.6zM454.4 70.3h1.6v1.6h-1.6zM457.8 71.1h1.6v1.6h-1.6zM461.0 62.9h1.6v1.6h-1.6zM463.6 63.3h1.6v1.6h-1.6zM443.6 72.4h1.6v1.6h-1.6zM446.8 72.5h1.6v1.6h-1.6zM446.4 60.1h1.6v1.6h-1.6zM449.1 60.6h1.6v1.6h-1.6zM448.7 121.1h1.6v1.6h-1.6zM451.3 120.6h1.6v1.6h-1.6zM464.0 142.9h1.6v1.6h-1.6zM466.6 142.3h1.6v1.6h-1.6zM459.5 109.2h1.6v1.6h-1.6zM463.3 141.2h1.6v1.6h-1.6zM440.8 143.3h1.6v1.6h-1.6zM462.0 84.7h1.6v1.6h-1.6zM429.4 86.8h1.6v1.6h-1.6zM432.6 87.2h1.6v1.6h-1.6zM466.1 144.0h1.6v1.6h-1.6zM469.1 143.2h1.6v1.6h-1.6zM449.2 119.3h1.6v1.6h-1.6zM452.4 94.8h1.6v1.6h-1.6zM429.2 98.1h1.6v1.6h-1.6zM420.3 120.4h1.6v1.6h-1.6zM422.7 120.7h1.6v1.6h-1.6zM460.3 96.1h1.6v1.6h-1.6zM463.7 96.3h1.6v1.6h-1.6zM454.5 103.0h1.6v1.6h-1.6zM457.7 102.2h1.6v1.6h-1.6zM436.7 142.7h1.6v1.6h-1.6zM440.4 154.3h1.6v1.6h-1.6zM441.9 129.3h1.6v1.6h-1.6zM434.1 133.4h1.6v1.6h-1.6zM426.7 87.9h1.6v1.6h-1.6zM458.2 97.0h1.6v1.6h-1.6zM460.6 97.2h1.6v1.6h-1.6zM459.9 120.6h1.6v1.6h-1.6zM463.2 120.8h1.6v1.6h-1.6zM443.5 84.8h1.6v1.6h-1.6zM446.1 85.2h1.6v1.6h-1.6zM461.5 107.4h1.6v1.6h-1.6zM465.0 107.5h1.6v1.6h-1.6zM424.8 150.6h1.6v1.6h-1.6zM458.6 107.4h1.6v1.6h-1.6zM466.2 140.9h1.6v1.6h-1.6zM442.7 88.3h1.6v1.6h-1.6zM451.1 98.9h1.6v1.6h-1.6zM469.3 117.8h1.6v1.6h-1.6zM436.7 108.2h1.6v1.6h-1.6zM447.5 106.0h1.6v1.6h-1.6zM449.9 105.9h1.6v1.6h-1.6zM432.7 88.0h1.6v1.6h-1.6zM435.8 88.0h1.6v1.6h-1.6zM456.9 79.7h1.6v1.6h-1.6zM422.0 119.3h1.6v1.6h-1.6zM420.3 97.0h1.6v1.6h-1.6zM423.3 95.8h1.6v1.6h-1.6zM467.0 131.1h1.6v1.6h-1.6zM437.4 140.3h1.6v1.6h-1.6zM469.5 117.5h1.6v1.6h-1.6zM446.6 109.1h1.6v1.6h-1.6zM463.0 109.3h1.6v1.6h-1.6zM468.6 148.9h1.6v1.6h-1.6zM461.2 157.4h1.6v1.6h-1.6zM457.8 108.6h1.6v1.6h-1.6zM460.9 142.6h1.6v1.6h-1.6zM426.4 129.0h1.6v1.6h-1.6zM456.1 109.0h1.6v1.6h-1.6zM467.8 143.4h1.6v1.6h-1.6zM471.5 142.9h1.6v1.6h-1.6zM438.9 101.1h1.6v1.6h-1.6zM441.9 100.7h1.6v1.6h-1.6zM436.5 122.0h1.6v1.6h-1.6zM437.7 104.1h1.6v1.6h-1.6zM437.9 131.1h1.6v1.6h-1.6zM441.4 130.5h1.6v1.6h-1.6zM465.1 130.4h1.6v1.6h-1.6zM434.5 96.4h1.6v1.6h-1.6zM429.4 110.8h1.6v1.6h-1.6zM427.1 126.9h1.6v1.6h-1.6zM429.9 127.6h1.6v1.6h-1.6zM448.9 127.7h1.6v1.6h-1.6zM451.6 128.1h1.6v1.6h-1.6zM441.7 120.1h1.6v1.6h-1.6zM420.4 150.0h1.6v1.6h-1.6zM455.3 120.6h1.6v1.6h-1.6zM458.6 119.8h1.6v1.6h-1.6zM500.4 31.3h1.6v1.6h-1.6zM523.6 17.5h1.6v1.6h-1.6zM526.1 17.6h1.6v1.6h-1.6zM480.5 32.6h1.6v1.6h-1.6zM524.8 17.2h1.6v1.6h-1.6zM483.2 16.7h1.6v1.6h-1.6zM502.9 36.6h1.6v1.6h-1.6zM506.2 37.9h1.6v1.6h-1.6zM521.0 28.3h1.6v1.6h-1.6zM525.9 29.7h1.6v1.6h-1.6zM536.9 18.5h1.6v1.6h-1.6zM538.7 31.4h1.6v1.6h-1.6zM516.3 11.4h1.6v1.6h-1.6zM535.3 20.4h1.6v1.6h-1.6zM505.6 44.0h1.6v1.6h-1.6zM508.0 44.0h1.6v1.6h-1.6zM474.9 15.4h1.6v1.6h-1.6zM529.5 14.9h1.6v1.6h-1.6zM533.1 14.5h1.6v1.6h-1.6zM516.0 28.0h1.6v1.6h-1.6zM519.5 27.4h1.6v1.6h-1.6zM507.9 9.1h1.6v1.6h-1.6zM493.9 15.0h1.6v1.6h-1.6zM538.8 30.2h1.6v1.6h-1.6zM542.2 30.5h1.6v1.6h-1.6zM518.1 29.3h1.6v1.6h-1.6zM521.0 29.7h1.6v1.6h-1.6zM533.7 26.5h1.6v1.6h-1.6zM537.3 25.8h1.6v1.6h-1.6zM516.5 33.5h1.6v1.6h-1.6zM520.2 33.5h1.6v1.6h-1.6zM534.7 19.7h1.6v1.6h-1.6zM504.8 19.2h1.6v1.6h-1.6zM507.7 19.7h1.6v1.6h-1.6zM540.6 18.9h1.6v1.6h-1.6zM533.1 29.3h1.6v1.6h-1.6zM508.0 18.0h1.6v1.6h-1.6zM478.4 40.8h1.6v1.6h-1.6zM504.4 17.8h1.6v1.6h-1.6zM507.0 17.2h1.6v1.6h-1.6zM535.0 21.1h1.6v1.6h-1.6zM538.1 20.7h1.6v1.6h-1.6zM505.1 26.5h1.6v1.6h-1.6zM480.6 20.5h1.6v1.6h-1.6zM513.0 37.8h1.6v1.6h-1.6zM547.7 60.7h1.6v1.6h-1.6zM481.3 66.2h1.6v1.6h-1.6zM538.3 61.0h1.6v1.6h-1.6zM544.9 64.4h1.6v1.6h-1.6zM547.7 63.6h1.6v1.6h-1.6zM477.8 40.9h1.6v1.6h-1.6zM480.0 41.0h1.6v1.6h-1.6zM504.5 40.5h1.6v1.6h-1.6zM484.2 74.6h1.6v1.6h-1.6zM506.7 53.4h1.6v1.6h-1.6zM509.5 54.6h1.6v1.6h-1.6zM538.3 39.0h1.6v1.6h-1.6zM541.4 38.5h1.6v1.6h-1.6zM546.3 39.5h1.6v1.6h-1.6zM523.1 61.5h1.6v1.6h-1.6zM526.3 62.0h1.6v1.6h-1.6zM521.1 68.8h1.6v1.6h-1.6zM538.9 73.2h1.6v1.6h-1.6zM477.1 73.3h1.6v1.6h-1.6zM502.4 61.8h1.6v1.6h-1.6zM536.4 70.3h1.6v1.6h-1.6zM510.1 55.2h1.6v1.6h-1.6zM474.5 39.3h1.6v1.6h-1.6zM484.3 50.2h1.6v1.6h-1.6zM487.0 50.8h1.6v1.6h-1.6zM487.8 75.2h1.6v1.6h-1.6zM490.1 75.9h1.6v1.6h-1.6zM536.7 54.9h1.6v1.6h-1.6zM539.2 53.9h1.6v1.6h-1.6zM511.9 74.4h1.6v1.6h-1.6zM514.3 74.2h1.6v1.6h-1.6zM475.4 74.9h1.6v1.6h-1.6zM477.9 75.8h1.6v1.6h-1.6zM528.2 40.2h1.6v1.6h-1.6zM531.6 41.0h1.6v1.6h-1.6zM524.2 64.0h1.6v1.6h-1.6zM527.4 64.7h1.6v1.6h-1.6zM506.0 62.9h1.6v1.6h-1.6zM482.9 61.4h1.6v1.6h-1.6zM525.5 42.0h1.6v1.6h-1.6zM528.1 43.2h1.6v1.6h-1.6zM491.1 62.1h1.6v1.6h-1.6zM538.4 72.9h1.6v1.6h-1.6zM483.2 74.1h1.6v1.6h-1.6zM486.2 73.3h1.6v1.6h-1.6zM470.6 39.5h1.6v1.6h-1.6zM473.4 39.7h1.6v1.6h-1.6zM489.7 51.7h1.6v1.6h-1.6zM493.2 50.0h1.6v1.6h-1.6zM544.6 51.1h1.6v1.6h-1.6zM547.8 50.8h1.6v1.6h-1.6zM499.3 62.3h1.6v1.6h-1.6zM525.5 75.5h1.6v1.6h-1.6zM480.2 65.8h1.6v1.6h-1.6zM527.8 54.9h1.6v1.6h-1.6zM530.5 53.6h1.6v1.6h-1.6zM527.7 63.3h1.6v1.6h-1.6zM514.0 51.5h1.6v1.6h-1.6zM500.6 74.2h1.6v1.6h-1.6zM532.6 60.2h1.6v1.6h-1.6zM499.8 64.7h1.6v1.6h-1.6zM530.6 51.7h1.6v1.6h-1.6zM533.9 51.3h1.6v1.6h-1.6zM531.7 49.3h1.6v1.6h-1.6zM535.4 49.0h1.6v1.6h-1.6zM545.2 75.7h1.6v1.6h-1.6zM548.6 75.7h1.6v1.6h-1.6zM526.5 41.7h1.6v1.6h-1.6zM528.7 41.9h1.6v1.6h-1.6zM536.3 50.5h1.6v1.6h-1.6zM539.5 50.5h1.6v1.6h-1.6zM470.2 50.3h1.6v1.6h-1.6zM473.5 50.8h1.6v1.6h-1.6zM534.2 50.5h1.6v1.6h-1.6zM537.6 51.3h1.6v1.6h-1.6zM527.7 58.5h1.6v1.6h-1.6zM543.3 76.7h1.6v1.6h-1.6zM492.5 75.4h1.6v1.6h-1.6zM510.2 40.4h1.6v1.6h-1.6zM512.5 41.9h1.6v1.6h-1.6zM505.0 55.4h1.6v1.6h-1.6zM507.7 54.5h1.6v1.6h-1.6zM527.9 75.8h1.6v1.6h-1.6zM542.2 61.4h1.6v1.6h-1.6zM481.9 63.8h1.6v1.6h-1.6zM518.7 48.7h1.6v1.6h-1.6zM510.1 52.4h1.6v1.6h-1.6zM510.2 63.9h1.6v1.6h-1.6zM513.2 64.4h1.6v1.6h-1.6zM520.8 44.0h1.6v1.6h-1.6zM488.8 51.7h1.6v1.6h-1.6zM492.4 50.5h1.6v1.6h-1.6zM521.3 52.7h1.6v1.6h-1.6zM486.5 61.7h1.6v1.6h-1.6zM519.8 73.3h1.6v1.6h-1.6zM522.3 74.6h1.6v1.6h-1.6zM491.4 74.7h1.6v1.6h-1.6zM494.8 74.8h1.6v1.6h-1.6zM512.6 51.5h1.6v1.6h-1.6zM515.4 52.3h1.6v1.6h-1.6zM502.2 50.3h1.6v1.6h-1.6zM505.0 50.7h1.6v1.6h-1.6zM490.5 42.7h1.6v1.6h-1.6zM493.9 43.0h1.6v1.6h-1.6zM546.1 41.7h1.6v1.6h-1.6zM470.2 42.2h1.6v1.6h-1.6zM473.9 43.1h1.6v1.6h-1.6zM482.2 75.1h1.6v1.6h-1.6zM484.6 75.5h1.6v1.6h-1.6zM531.6 41.5h1.6v1.6h-1.6zM534.9 41.0h1.6v1.6h-1.6zM512.1 64.7h1.6v1.6h-1.6zM519.0 39.2h1.6v1.6h-1.6zM535.9 64.4h1.6v1.6h-1.6zM510.0 63.1h1.6v1.6h-1.6zM535.3 74.1h1.6v1.6h-1.6zM538.4 73.3h1.6v1.6h-1.6zM519.0 63.6h1.6v1.6h-1.6zM490.1 53.7h1.6v1.6h-1.6zM492.5 54.7h1.6v1.6h-1.6zM535.6 42.6h1.6v1.6h-1.6zM470.5 77.1h1.6v1.6h-1.6zM485.7 71.5h1.6v1.6h-1.6zM489.3 53.2h1.6v1.6h-1.6zM476.0 72.6h1.6v1.6h-1.6zM478.8 73.6h1.6v1.6h-1.6zM477.3 63.3h1.6v1.6h-1.6zM540.8 42.5h1.6v1.6h-1.6zM543.1 42.2h1.6v1.6h-1.6zM480.4 70.5h1.6v1.6h-1.6zM507.9 52.6h1.6v1.6h-1.6zM494.1 40.1h1.6v1.6h-1.6zM505.9 38.0h1.6v1.6h-1.6zM476.2 60.2h1.6v1.6h-1.6zM493.5 42.8h1.6v1.6h-1.6zM491.3 50.1h1.6v1.6h-1.6zM493.9 49.8h1.6v1.6h-1.6zM511.1 64.8h1.6v1.6h-1.6zM492.2 41.0h1.6v1.6h-1.6zM495.4 40.9h1.6v1.6h-1.6zM486.3 61.9h1.6v1.6h-1.6zM510.5 63.7h1.6v1.6h-1.6zM489.8 53.5h1.6v1.6h-1.6zM516.4 70.2h1.6v1.6h-1.6zM519.1 69.6h1.6v1.6h-1.6zM500.5 73.5h1.6v1.6h-1.6zM503.5 72.5h1.6v1.6h-1.6zM547.4 53.8h1.6v1.6h-1.6zM531.5 72.4h1.6v1.6h-1.6zM533.9 72.5h1.6v1.6h-1.6zM522.5 74.9h1.6v1.6h-1.6zM524.7 74.3h1.6v1.6h-1.6zM521.7 75.0h1.6v1.6h-1.6zM536.1 63.4h1.6v1.6h-1.6zM539.0 63.4h1.6v1.6h-1.6zM539.7 64.0h1.6v1.6h-1.6zM540.7 71.2h1.6v1.6h-1.6zM543.4 70.8h1.6v1.6h-1.6zM474.7 65.0h1.6v1.6h-1.6zM482.9 62.9h1.6v1.6h-1.6zM526.0 76.2h1.6v1.6h-1.6zM498.3 76.4h1.6v1.6h-1.6zM501.9 77.5h1.6v1.6h-1.6zM472.9 51.2h1.6v1.6h-1.6zM486.9 74.4h1.6v1.6h-1.6zM526.9 61.5h1.6v1.6h-1.6zM530.0 62.5h1.6v1.6h-1.6zM472.6 62.5h1.6v1.6h-1.6zM475.9 61.4h1.6v1.6h-1.6zM492.1 63.9h1.6v1.6h-1.6zM540.9 54.1h1.6v1.6h-1.6zM544.1 54.5h1.6v1.6h-1.6zM523.5 84.3h1.6v1.6h-1.6zM526.2 84.4h1.6v1.6h-1.6zM475.2 86.6h1.6v1.6h-1.6zM483.1 83.6h1.6v1.6h-1.6zM486.7 83.6h1.6v1.6h-1.6zM507.3 95.9h1.6v1.6h-1.6zM476.9 85.8h1.6v1.6h-1.6zM479.2 85.9h1.6v1.6h-1.6zM530.0 95.6h1.6v1.6h-1.6zM533.3 96.9h1.6v1.6h-1.6zM505.5 87.7h1.6v1.6h-1.6zM509.1 88.5h1.6v1.6h-1.6zM473.3 86.2h1.6v1.6h-1.6zM475.7 86.7h1.6v1.6h-1.6zM490.5 88.4h1.6v1.6h-1.6zM494.0 88.2h1.6v1.6h-1.6zM507.4 93.5h1.6v1.6h-1.6zM534.8 87.0h1.6v1.6h-1.6zM537.1 87.5h1.6v1.6h-1.6zM495.9 95.0h1.6v1.6h-1.6zM498.8 95.6h1.6v1.6h-1.6zM537.4 86.5h1.6v1.6h-1.6zM540.2 86.9h1.6v1.6h-1.6zM491.6 95.7h1.6v1.6h-1.6zM489.0 98.8h1.6v1.6h-1.6zM492.0 98.3h1.6v1.6h-1.6zM520.9 84.6h1.6v1.6h-1.6zM517.2 83.3h1.6v1.6h-1.6zM519.5 82.8h1.6v1.6h-1.6zM534.6 86.3h1.6v1.6h-1.6zM510.7 97.2h1.6v1.6h-1.6zM545.5 84.9h1.6v1.6h-1.6zM485.2 96.1h1.6v1.6h-1.6zM488.5 94.5h1.6v1.6h-1.6zM475.1 96.9h1.6v1.6h-1.6zM478.0 97.8h1.6v1.6h-1.6zM501.8 96.7h1.6v1.6h-1.6zM504.8 96.7h1.6v1.6h-1.6zM524.0 99.2h1.6v1.6h-1.6zM526.9 99.3h1.6v1.6h-1.6zM535.6 86.5h1.6v1.6h-1.6zM479.2 85.0h1.6v1.6h-1.6zM482.3 84.8h1.6v1.6h-1.6zM515.7 96.3h1.6v1.6h-1.6zM518.6 96.0h1.6v1.6h-1.6zM479.9 97.8h1.6v1.6h-1.6zM476.7 86.8h1.6v1.6h-1.6zM480.0 86.2h1.6v1.6h-1.6zM487.5 84.9h1.6v1.6h-1.6zM521.0 98.2h1.6v1.6h-1.6zM536.1 87.7h1.6v1.6h-1.6zM539.3 87.2h1.6v1.6h-1.6zM503.7 94.9h1.6v1.6h-1.6zM480.0 84.7h1.6v1.6h-1.6zM483.6 85.2h1.6v1.6h-1.6zM505.8 87.0h1.6v1.6h-1.6zM504.6 86.7h1.6v1.6h-1.6zM507.3 86.0h1.6v1.6h-1.6zM537.8 83.9h1.6v1.6h-1.6zM540.9 83.3h1.6v1.6h-1.6zM537.4 97.3h1.6v1.6h-1.6zM539.8 96.4h1.6v1.6h-1.6zM507.2 131.7h1.6v1.6h-1.6zM474.2 126.7h1.6v1.6h-1.6zM476.8 127.2h1.6v1.6h-1.6zM540.0 96.7h1.6v1.6h-1.6zM474.4 133.8h1.6v1.6h-1.6zM534.4 143.3h1.6v1.6h-1.6zM497.7 150.9h1.6v1.6h-1.6zM500.2 151.1h1.6v1.6h-1.6zM491.6 129.7h1.6v1.6h-1.6zM494.5 129.3h1.6v1.6h-1.6zM520.7 109.1h1.6v1.6h-1.6zM543.2 108.0h1.6v1.6h-1.6zM524.6 143.1h1.6v1.6h-1.6zM543.4 139.7h1.6v1.6h-1.6zM543.7 101.7h1.6v1.6h-1.6zM481.7 152.5h1.6v1.6h-1.6zM535.1 128.5h1.6v1.6h-1.6zM538.7 127.7h1.6v1.6h-1.6zM490.3 98.7h1.6v1.6h-1.6zM544.6 107.8h1.6v1.6h-1.6zM547.6 108.3h1.6v1.6h-1.6zM489.4 103.8h1.6v1.6h-1.6zM470.8 109.1h1.6v1.6h-1.6zM473.4 109.8h1.6v1.6h-1.6zM540.4 130.7h1.6v1.6h-1.6zM540.4 117.8h1.6v1.6h-1.6zM542.8 116.9h1.6v1.6h-1.6zM471.6 130.4h1.6v1.6h-1.6zM509.7 111.4h1.6v1.6h-1.6zM512.6 111.4h1.6v1.6h-1.6zM474.3 119.1h1.6v1.6h-1.6zM477.8 119.4h1.6v1.6h-1.6zM489.4 120.9h1.6v1.6h-1.6zM484.3 122.9h1.6v1.6h-1.6zM513.0 130.5h1.6v1.6h-1.6zM516.0 129.1h1.6v1.6h-1.6zM495.1 142.2h1.6v1.6h-1.6zM498.7 144.5h1.6v1.6h-1.6zM541.4 139.5h1.6v1.6h-1.6zM543.9 139.5h1.6v1.6h-1.6zM479.9 106.9h1.6v1.6h-1.6zM514.8 130.2h1.6v1.6h-1.6zM518.3 129.9h1.6v1.6h-1.6zM520.5 106.7h1.6v1.6h-1.6zM543.7 110.0h1.6v1.6h-1.6zM526.3 137.7h1.6v1.6h-1.6zM472.7 140.1h1.6v1.6h-1.6zM535.2 106.8h1.6v1.6h-1.6zM538.2 106.7h1.6v1.6h-1.6zM521.8 107.1h1.6v1.6h-1.6zM482.1 142.0h1.6v1.6h-1.6zM484.6 141.4h1.6v1.6h-1.6zM479.7 117.8h1.6v1.6h-1.6zM482.0 117.3h1.6v1.6h-1.6zM524.3 116.7h1.6v1.6h-1.6zM474.2 121.9h1.6v1.6h-1.6zM477.4 120.6h1.6v1.6h-1.6zM482.9 104.8h1.6v1.6h-1.6zM486.2 106.5h1.6v1.6h-1.6zM538.1 119.4h1.6v1.6h-1.6zM540.9 119.7h1.6v1.6h-1.6zM560.3 75.1h1.6v1.6h-1.6zM563.0 63.8h1.6v1.6h-1.6zM568.4 61.0h1.6v1.6h-1.6zM570.7 43.9h1.6v1.6h-1.6zM562.5 33.2h1.6v1.6h-1.6zM565.3 32.5h1.6v1.6h-1.6zM550.9 29.1h1.6v1.6h-1.6zM554.4 29.2h1.6v1.6h-1.6zM553.2 72.4h1.6v1.6h-1.6zM566.1 39.9h1.6v1.6h-1.6zM552.4 73.2h1.6v1.6h-1.6zM553.7 62.6h1.6v1.6h-1.6zM557.0 15.6h1.6v1.6h-1.6zM560.1 16.0h1.6v1.6h-1.6zM557.0 76.5h1.6v1.6h-1.6zM560.3 75.7h1.6v1.6h-1.6zM558.2 38.8h1.6v1.6h-1.6zM555.5 64.6h1.6v1.6h-1.6zM569.6 24.9h1.6v1.6h-1.6zM570.6 42.4h1.6v1.6h-1.6zM573.9 42.3h1.6v1.6h-1.6zM570.0 15.6h1.6v1.6h-1.6zM572.3 14.8h1.6v1.6h-1.6zM565.9 69.2h1.6v1.6h-1.6zM574.1 75.3h1.6v1.6h-1.6zM562.5 83.0h1.6v1.6h-1.6zM570.1 61.0h1.6v1.6h-1.6zM572.7 60.2h1.6v1.6h-1.6zM554.1 82.8h1.6v1.6h-1.6zM551.3 75.3h1.6v1.6h-1.6zM553.8 75.9h1.6v1.6h-1.6zM572.0 39.4h1.6v1.6h-1.6zM552.8 28.6h1.6v1.6h-1.6zM565.6 40.7h1.6v1.6h-1.6zM563.4 77.1h1.6v1.6h-1.6zM572.2 23.6h1.6v1.6h-1.6zM574.7 24.3h1.6v1.6h-1.6zM554.5 37.4h1.6v1.6h-1.6zM570.2 66.5h1.6v1.6h-1.6zM572.8 67.1h1.6v1.6h-1.6zM552.2 42.4h1.6v1.6h-1.6zM555.1 41.6h1.6v1.6h-1.6zM563.3 17.6h1.6v1.6h-1.6zM565.8 19.3h1.6v1.6h-1.6zM556.3 74.2h1.6v1.6h-1.6zM554.1 84.5h1.6v1.6h-1.6zM557.7 84.9h1.6v1.6h-1.6zM557.0 52.1h1.6v1.6h-1.6zM570.5 10.2h1.6v1.6h-1.6zM574.0 10.8h1.6v1.6h-1.6zM560.2 42.9h1.6v1.6h-1.6zM568.6 52.1h1.6v1.6h-1.6zM566.9 53.4h1.6v1.6h-1.6zM570.2 53.0h1.6v1.6h-1.6zM571.7 60.3h1.6v1.6h-1.6zM575.4 59.9h1.6v1.6h-1.6zM565.3 71.0h1.6v1.6h-1.6zM567.5 72.2h1.6v1.6h-1.6zM558.1 48.8h1.6v1.6h-1.6zM550.9 49.0h1.6v1.6h-1.6zM552.6 74.8h1.6v1.6h-1.6zM555.9 73.9h1.6v1.6h-1.6zM567.9 38.4h1.6v1.6h-1.6zM570.2 39.0h1.6v1.6h-1.6zM563.6 60.4h1.6v1.6h-1.6zM566.5 60.2h1.6v1.6h-1.6zM555.9 15.9h1.6v1.6h-1.6zM563.5 40.1h1.6v1.6h-1.6zM579.0 142.7h1.6v1.6h-1.6zM582.3 142.9h1.6v1.6h-1.6zM560.4 151.9h1.6v1.6h-1.6zM566.7 131.9h1.6v1.6h-1.6zM558.2 154.2h1.6v1.6h-1.6zM587.3 152.6h1.6v1.6h-1.6zM586.7 109.4h1.6v1.6h-1.6zM572.2 132.4h1.6v1.6h-1.6zM581.2 93.3h1.6v1.6h-1.6zM559.6 149.4h1.6v1.6h-1.6zM590.9 152.3h1.6v1.6h-1.6zM595.3 102.7h1.6v1.6h-1.6zM627.6 85.1h1.6v1.6h-1.6zM671.2 143.9h1.6v1.6h-1.6zM623.9 109.0h1.6v1.6h-1.6zM627.3 108.9h1.6v1.6h-1.6zM668.8 129.8h1.6v1.6h-1.6zM614.9 141.7h1.6v1.6h-1.6zM670.7 142.1h1.6v1.6h-1.6zM640.0 155.0h1.6v1.6h-1.6zM642.3 155.8h1.6v1.6h-1.6zM628.6 118.6h1.6v1.6h-1.6zM605.7 119.5h1.6v1.6h-1.6zM609.2 120.3h1.6v1.6h-1.6zM629.8 100.8h1.6v1.6h-1.6zM632.3 101.2h1.6v1.6h-1.6zM614.3 153.0h1.6v1.6h-1.6zM632.7 101.4h1.6v1.6h-1.6zM635.3 102.2h1.6v1.6h-1.6zM630.2 146.5h1.6v1.6h-1.6zM656.6 142.5h1.6v1.6h-1.6zM659.9 143.1h1.6v1.6h-1.6zM609.4 126.3h1.6v1.6h-1.6zM636.6 139.8h1.6v1.6h-1.6zM648.3 155.5h1.6v1.6h-1.6zM674.1 139.9h1.6v1.6h-1.6zM649.8 106.1h1.6v1.6h-1.6zM642.3 120.5h1.6v1.6h-1.6zM645.9 119.8h1.6v1.6h-1.6zM635.0 110.1h1.6v1.6h-1.6zM626.2 110.4h1.6v1.6h-1.6zM624.2 87.8h1.6v1.6h-1.6zM642.2 103.7h1.6v1.6h-1.6zM605.4 107.2h1.6v1.6h-1.6zM640.2 93.6h1.6v1.6h-1.6zM661.6 137.1h1.6v1.6h-1.6zM645.4 106.2h1.6v1.6h-1.6zM648.2 106.5h1.6v1.6h-1.6zM669.4 90.0h1.6v1.6h-1.6zM659.6 88.9h1.6v1.6h-1.6zM662.3 89.5h1.6v1.6h-1.6zM648.5 99.5h1.6v1.6h-1.6zM648.5 152.0h1.6v1.6h-1.6zM651.3 152.6h1.6v1.6h-1.6zM639.9 100.4h1.6v1.6h-1.6zM642.2 100.9h1.6v1.6h-1.6zM643.4 123.2h1.6v1.6h-1.6zM646.4 122.5h1.6v1.6h-1.6zM611.4 94.6h1.6v1.6h-1.6zM613.6 119.5h1.6v1.6h-1.6zM617.0 120.8h1.6v1.6h-1.6zM615.9 140.4h1.6v1.6h-1.6zM619.5 142.1h1.6v1.6h-1.6zM666.4 108.2h1.6v1.6h-1.6zM640.6 95.4h1.6v1.6h-1.6zM617.4 129.2h1.6v1.6h-1.6zM636.7 84.0h1.6v1.6h-1.6zM640.3 84.7h1.6v1.6h-1.6zM635.7 96.5h1.6v1.6h-1.6zM638.6 96.6h1.6v1.6h-1.6zM619.4 119.5h1.6v1.6h-1.6zM650.8 111.6h1.6v1.6h-1.6zM654.0 112.2h1.6v1.6h-1.6zM624.8 88.7h1.6v1.6h-1.6zM627.2 87.9h1.6v1.6h-1.6zM635.2 142.8h1.6v1.6h-1.6zM635.1 131.4h1.6v1.6h-1.6zM638.0 130.8h1.6v1.6h-1.6zM608.7 141.6h1.6v1.6h-1.6zM621.2 120.2h1.6v1.6h-1.6zM623.4 96.4h1.6v1.6h-1.6zM625.8 95.7h1.6v1.6h-1.6zM605.2 104.6h1.6v1.6h-1.6zM652.1 140.5h1.6v1.6h-1.6zM652.3 94.0h1.6v1.6h-1.6zM662.8 84.0h1.6v1.6h-1.6zM672.8 122.5h1.6v1.6h-1.6zM665.1 120.6h1.6v1.6h-1.6zM615.2 142.7h1.6v1.6h-1.6zM617.8 142.2h1.6v1.6h-1.6zM642.4 131.5h1.6v1.6h-1.6zM617.2 113.8h1.6v1.6h-1.6zM619.4 114.2h1.6v1.6h-1.6zM623.4 119.1h1.6v1.6h-1.6zM609.1 86.8h1.6v1.6h-1.6zM641.2 107.9h1.6v1.6h-1.6zM643.4 107.7h1.6v1.6h-1.6zM634.8 128.7h1.6v1.6h-1.6zM637.9 127.7h1.6v1.6h-1.6zM647.8 129.2h1.6v1.6h-1.6zM650.5 129.7h1.6v1.6h-1.6zM664.6 125.4h1.6v1.6h-1.6zM667.9 126.0h1.6v1.6h-1.6zM660.8 95.9h1.6v1.6h-1.6zM663.3 95.3h1.6v1.6h-1.6zM631.8 118.6h1.6v1.6h-1.6zM668.7 130.3h1.6v1.6h-1.6zM661.9 129.6h1.6v1.6h-1.6zM617.3 118.3h1.6v1.6h-1.6zM609.6 97.3h1.6v1.6h-1.6zM612.0 96.6h1.6v1.6h-1.6zM633.9 88.8h1.6v1.6h-1.6zM670.3 151.0h1.6v1.6h-1.6zM606.7 153.3h1.6v1.6h-1.6zM662.2 88.3h1.6v1.6h-1.6zM663.0 119.1h1.6v1.6h-1.6zM665.5 118.8h1.6v1.6h-1.6zM649.0 88.1h1.6v1.6h-1.6zM649.7 140.6h1.6v1.6h-1.6zM622.7 142.7h1.6v1.6h-1.6zM624.3 130.6h1.6v1.6h-1.6zM634.1 105.5h1.6v1.6h-1.6zM636.4 106.6h1.6v1.6h-1.6zM606.9 107.8h1.6v1.6h-1.6zM604.1 119.3h1.6v1.6h-1.6zM623.0 131.1h1.6v1.6h-1.6zM626.0 129.7h1.6v1.6h-1.6zM618.7 98.8h1.6v1.6h-1.6zM621.5 98.1h1.6v1.6h-1.6zM623.9 84.2h1.6v1.6h-1.6zM604.1 119.1h1.6v1.6h-1.6zM632.3 143.0h1.6v1.6h-1.6zM628.2 119.3h1.6v1.6h-1.6zM660.8 142.3h1.6v1.6h-1.6zM663.7 142.3h1.6v1.6h-1.6zM607.7 139.7h1.6v1.6h-1.6zM610.8 140.0h1.6v1.6h-1.6zM661.9 109.8h1.6v1.6h-1.6zM664.2 108.8h1.6v1.6h-1.6zM645.3 120.4h1.6v1.6h-1.6zM649.0 121.0h1.6v1.6h-1.6zM609.1 93.3h1.6v1.6h-1.6zM612.8 93.6h1.6v1.6h-1.6zM666.8 96.9h1.6v1.6h-1.6zM604.9 85.0h1.6v1.6h-1.6zM607.8 86.2h1.6v1.6h-1.6zM629.0 131.0h1.6v1.6h-1.6zM629.5 118.4h1.6v1.6h-1.6zM632.9 118.8h1.6v1.6h-1.6zM635.3 106.5h1.6v1.6h-1.6zM625.3 97.8h1.6v1.6h-1.6zM656.5 86.4h1.6v1.6h-1.6zM652.5 101.9h1.6v1.6h-1.6zM615.3 108.2h1.6v1.6h-1.6zM618.3 107.7h1.6v1.6h-1.6zM658.2 119.4h1.6v1.6h-1.6zM637.9 116.6h1.6v1.6h-1.6zM612.8 126.8h1.6v1.6h-1.6zM670.9 118.7h1.6v1.6h-1.6zM643.2 97.2h1.6v1.6h-1.6zM671.0 97.7h1.6v1.6h-1.6zM619.8 87.8h1.6v1.6h-1.6zM673.5 108.8h1.6v1.6h-1.6zM608.1 88.1h1.6v1.6h-1.6zM644.8 107.4h1.6v1.6h-1.6zM658.8 130.2h1.6v1.6h-1.6zM671.8 130.3h1.6v1.6h-1.6zM602.1 120.4h1.6v1.6h-1.6zM605.4 120.6h1.6v1.6h-1.6zM602.9 132.3h1.6v1.6h-1.6zM625.7 86.3h1.6v1.6h-1.6zM666.0 141.4h1.6v1.6h-1.6zM639.5 109.4h1.6v1.6h-1.6zM633.1 86.0h1.6v1.6h-1.6zM636.5 85.2h1.6v1.6h-1.6zM636.0 129.7h1.6v1.6h-1.6zM664.7 105.8h1.6v1.6h-1.6zM667.4 107.1h1.6v1.6h-1.6zM631.1 129.7h1.6v1.6h-1.6zM633.4 129.7h1.6v1.6h-1.6zM606.7 86.9h1.6v1.6h-1.6zM631.9 87.4h1.6v1.6h-1.6zM635.5 87.0h1.6v1.6h-1.6zM622.8 85.3h1.6v1.6h-1.6zM625.9 85.5h1.6v1.6h-1.6zM656.8 130.2h1.6v1.6h-1.6zM659.2 131.5h1.6v1.6h-1.6zM673.5 120.8h1.6v1.6h-1.6zM636.1 144.8h1.6v1.6h-1.6zM604.2 115.9h1.6v1.6h-1.6zM647.6 109.2h1.6v1.6h-1.6zM650.4 109.3h1.6v1.6h-1.6zM629.5 103.8h1.6v1.6h-1.6zM638.8 105.5h1.6v1.6h-1.6zM629.4 151.6h1.6v1.6h-1.6zM632.5 151.8h1.6v1.6h-1.6zM673.4 142.0h1.6v1.6h-1.6zM650.2 98.3h1.6v1.6h-1.6zM648.9 132.1h1.6v1.6h-1.6zM668.2 139.9h1.6v1.6h-1.6zM671.0 139.9h1.6v1.6h-1.6zM658.1 156.6h1.6v1.6h-1.6zM632.5 109.6h1.6v1.6h-1.6zM634.4 117.4h1.6v1.6h-1.6zM654.7 97.7h1.6v1.6h-1.6zM667.6 138.6h1.6v1.6h-1.6zM670.8 138.3h1.6v1.6h-1.6zM607.3 97.1h1.6v1.6h-1.6zM610.8 97.0h1.6v1.6h-1.6zM613.5 109.7h1.6v1.6h-1.6zM616.0 109.0h1.6v1.6h-1.6zM602.7 116.0h1.6v1.6h-1.6zM605.9 116.4h1.6v1.6h-1.6zM668.8 87.3h1.6v1.6h-1.6zM671.8 88.7h1.6v1.6h-1.6zM664.5 87.7h1.6v1.6h-1.6zM667.3 87.9h1.6v1.6h-1.6zM616.1 137.3h1.6v1.6h-1.6zM618.8 137.6h1.6v1.6h-1.6zM634.9 117.9h1.6v1.6h-1.6zM670.9 53.1h1.6v1.6h-1.6zM672.7 62.8h1.6v1.6h-1.6zM672.3 84.9h1.6v1.6h-1.6zM673.9 45.2h1.6v1.6h-1.6zM126.3 188.9h1.6v1.6h-1.6zM133.8 175.4h1.6v1.6h-1.6zM64.9 197.7h1.6v1.6h-1.6zM132.8 185.4h1.6v1.6h-1.6zM72.7 209.7h1.6v1.6h-1.6zM172.4 194.6h1.6v1.6h-1.6zM88.0 172.0h1.6v1.6h-1.6zM162.1 212.7h1.6v1.6h-1.6zM120.9 191.2h1.6v1.6h-1.6zM65.7 210.5h1.6v1.6h-1.6zM175.0 176.0h1.6v1.6h-1.6zM91.6 196.2h1.6v1.6h-1.6zM109.1 221.8h1.6v1.6h-1.6zM112.2 217.2h1.6v1.6h-1.6zM190.4 173.4h1.6v1.6h-1.6zM153.7 197.7h1.6v1.6h-1.6zM64.0 211.3h1.6v1.6h-1.6zM128.6 223.7h1.6v1.6h-1.6zM75.2 208.9h1.6v1.6h-1.6zM134.4 206.4h1.6v1.6h-1.6zM154.5 188.6h1.6v1.6h-1.6zM103.3 188.4h1.6v1.6h-1.6zM120.4 208.7h1.6v1.6h-1.6zM111.4 176.8h1.6v1.6h-1.6zM75.5 187.9h1.6v1.6h-1.6zM185.7 218.4h1.6v1.6h-1.6zM139.0 200.1h1.6v1.6h-1.6zM70.9 208.2h1.6v1.6h-1.6zM191.3 197.8h1.6v1.6h-1.6zM147.7 222.6h1.6v1.6h-1.6zM162.8 176.3h1.6v1.6h-1.6zM82.6 177.2h1.6v1.6h-1.6zM169.2 210.4h1.6v1.6h-1.6zM155.2 186.8h1.6v1.6h-1.6zM134.6 198.8h1.6v1.6h-1.6zM72.3 210.0h1.6v1.6h-1.6zM145.4 185.2h1.6v1.6h-1.6zM79.3 197.1h1.6v1.6h-1.6zM162.7 195.7h1.6v1.6h-1.6zM92.3 198.6h1.6v1.6h-1.6zM152.5 219.0h1.6v1.6h-1.6zM145.2 212.5h1.6v1.6h-1.6zM71.1 198.2h1.6v1.6h-1.6zM148.2 183.0h1.6v1.6h-1.6zM151.5 182.9h1.6v1.6h-1.6zM182.8 222.3h1.6v1.6h-1.6zM195.8 219.9h1.6v1.6h-1.6zM121.7 209.1h1.6v1.6h-1.6zM191.3 185.8h1.6v1.6h-1.6zM123.3 176.9h1.6v1.6h-1.6zM70.7 205.9h1.6v1.6h-1.6zM62.4 188.0h1.6v1.6h-1.6zM80.8 218.9h1.6v1.6h-1.6zM127.6 192.2h1.6v1.6h-1.6zM186.4 209.1h1.6v1.6h-1.6zM135.4 171.4h1.6v1.6h-1.6zM70.1 205.2h1.6v1.6h-1.6zM68.8 220.6h1.6v1.6h-1.6zM96.6 195.5h1.6v1.6h-1.6zM190.1 196.2h1.6v1.6h-1.6zM89.1 198.8h1.6v1.6h-1.6zM102.1 187.2h1.6v1.6h-1.6zM187.7 173.7h1.6v1.6h-1.6zM185.1 211.4h1.6v1.6h-1.6zM163.2 196.8h1.6v1.6h-1.6zM115.9 216.8h1.6v1.6h-1.6zM133.7 218.8h1.6v1.6h-1.6zM151.5 183.7h1.6v1.6h-1.6zM104.8 208.8h1.6v1.6h-1.6zM184.3 266.2h1.6v1.6h-1.6zM187.2 266.8h1.6v1.6h-1.6zM193.0 280.0h1.6v1.6h-1.6zM116.6 250.4h1.6v1.6h-1.6zM107.5 278.4h1.6v1.6h-1.6zM92.6 277.7h1.6v1.6h-1.6zM101.4 256.0h1.6v1.6h-1.6zM83.4 287.3h1.6v1.6h-1.6zM64.4 266.6h1.6v1.6h-1.6zM179.0 251.1h1.6v1.6h-1.6zM140.5 254.8h1.6v1.6h-1.6zM127.9 251.3h1.6v1.6h-1.6zM78.5 274.0h1.6v1.6h-1.6zM178.8 242.6h1.6v1.6h-1.6zM126.6 259.5h1.6v1.6h-1.6zM137.8 264.0h1.6v1.6h-1.6zM81.4 243.8h1.6v1.6h-1.6zM162.4 263.8h1.6v1.6h-1.6zM93.6 276.7h1.6v1.6h-1.6zM154.0 253.7h1.6v1.6h-1.6zM191.0 287.1h1.6v1.6h-1.6zM72.3 263.5h1.6v1.6h-1.6zM196.1 242.9h1.6v1.6h-1.6zM142.0 285.3h1.6v1.6h-1.6zM189.7 251.3h1.6v1.6h-1.6zM173.6 266.1h1.6v1.6h-1.6zM190.8 277.5h1.6v1.6h-1.6zM117.4 287.8h1.6v1.6h-1.6zM140.7 239.3h1.6v1.6h-1.6zM143.3 239.7h1.6v1.6h-1.6zM81.0 255.9h1.6v1.6h-1.6zM184.7 256.8h1.6v1.6h-1.6zM188.0 286.9h1.6v1.6h-1.6zM61.2 242.1h1.6v1.6h-1.6zM115.4 265.7h1.6v1.6h-1.6zM174.1 275.9h1.6v1.6h-1.6zM144.4 253.3h1.6v1.6h-1.6zM81.2 287.9h1.6v1.6h-1.6zM89.4 255.1h1.6v1.6h-1.6zM93.1 256.1h1.6v1.6h-1.6zM62.4 263.3h1.6v1.6h-1.6zM66.0 263.7h1.6v1.6h-1.6zM111.6 242.0h1.6v1.6h-1.6zM180.6 267.0h1.6v1.6h-1.6zM161.2 274.8h1.6v1.6h-1.6zM113.8 251.1h1.6v1.6h-1.6zM116.9 251.2h1.6v1.6h-1.6zM66.6 274.0h1.6v1.6h-1.6zM119.9 253.1h1.6v1.6h-1.6zM156.0 244.2h1.6v1.6h-1.6zM177.3 262.9h1.6v1.6h-1.6zM173.0 275.2h1.6v1.6h-1.6zM69.3 278.1h1.6v1.6h-1.6zM80.2 287.8h1.6v1.6h-1.6zM87.1 287.3h1.6v1.6h-1.6zM120.5 285.8h1.6v1.6h-1.6zM76.9 254.9h1.6v1.6h-1.6zM187.9 251.8h1.6v1.6h-1.6zM77.7 276.3h1.6v1.6h-1.6zM236.2 196.9h1.6v1.6h-1.6zM293.7 188.2h1.6v1.6h-1.6zM262.8 196.6h1.6v1.6h-1.6zM265.9 196.6h1.6v1.6h-1.6zM234.4 187.5h1.6v1.6h-1.6zM268.9 184.9h1.6v1.6h-1.6zM237.1 186.7h1.6v1.6h-1.6zM230.3 198.8h1.6v1.6h-1.6zM230.4 188.3h1.6v1.6h-1.6zM285.6 198.1h1.6v1.6h-1.6zM331.2 220.7h1.6v1.6h-1.6zM251.8 199.9h1.6v1.6h-1.6zM321.3 219.8h1.6v1.6h-1.6zM284.3 192.2h1.6v1.6h-1.6zM265.7 176.1h1.6v1.6h-1.6zM320.5 200.5h1.6v1.6h-1.6zM323.0 199.9h1.6v1.6h-1.6zM286.1 212.6h1.6v1.6h-1.6zM238.4 219.8h1.6v1.6h-1.6zM226.5 215.5h1.6v1.6h-1.6zM286.2 178.6h1.6v1.6h-1.6zM309.8 222.8h1.6v1.6h-1.6zM288.8 186.3h1.6v1.6h-1.6zM321.2 174.4h1.6v1.6h-1.6zM318.0 196.9h1.6v1.6h-1.6zM276.3 220.7h1.6v1.6h-1.6zM301.4 174.6h1.6v1.6h-1.6zM243.7 220.7h1.6v1.6h-1.6zM236.5 196.1h1.6v1.6h-1.6zM302.1 219.6h1.6v1.6h-1.6zM236.9 187.4h1.6v1.6h-1.6zM222.6 197.5h1.6v1.6h-1.6zM328.9 180.4h1.6v1.6h-1.6zM219.7 210.5h1.6v1.6h-1.6zM316.3 209.1h1.6v1.6h-1.6zM225.7 220.4h1.6v1.6h-1.6zM228.5 219.9h1.6v1.6h-1.6zM244.2 197.9h1.6v1.6h-1.6zM271.5 183.7h1.6v1.6h-1.6zM251.5 264.0h1.6v1.6h-1.6zM254.0 264.3h1.6v1.6h-1.6zM250.4 287.6h1.6v1.6h-1.6zM211.4 244.3h1.6v1.6h-1.6zM234.6 252.8h1.6v1.6h-1.6zM313.5 252.6h1.6v1.6h-1.6zM252.5 275.3h1.6v1.6h-1.6zM206.9 284.8h1.6v1.6h-1.6zM196.6 245.0h1.6v1.6h-1.6zM239.9 255.8h1.6v1.6h-1.6zM303.5 240.3h1.6v1.6h-1.6zM320.4 258.6h1.6v1.6h-1.6zM288.2 263.9h1.6v1.6h-1.6zM273.4 264.1h1.6v1.6h-1.6zM259.7 251.8h1.6v1.6h-1.6zM328.9 240.6h1.6v1.6h-1.6zM285.4 242.6h1.6v1.6h-1.6zM249.3 255.9h1.6v1.6h-1.6zM218.6 287.5h1.6v1.6h-1.6zM261.9 242.3h1.6v1.6h-1.6zM285.0 276.4h1.6v1.6h-1.6zM287.0 285.9h1.6v1.6h-1.6zM287.2 276.6h1.6v1.6h-1.6zM286.3 279.3h1.6v1.6h-1.6zM280.8 266.9h1.6v1.6h-1.6zM232.9 255.5h1.6v1.6h-1.6zM235.3 256.0h1.6v1.6h-1.6zM259.4 272.7h1.6v1.6h-1.6zM303.5 276.0h1.6v1.6h-1.6zM290.1 276.5h1.6v1.6h-1.6zM292.6 276.2h1.6v1.6h-1.6zM315.0 263.1h1.6v1.6h-1.6zM197.6 255.3h1.6v1.6h-1.6zM263.5 266.8h1.6v1.6h-1.6zM317.1 264.3h1.6v1.6h-1.6zM217.2 264.4h1.6v1.6h-1.6zM219.7 264.8h1.6v1.6h-1.6zM206.7 285.1h1.6v1.6h-1.6zM221.9 274.5h1.6v1.6h-1.6zM205.7 286.0h1.6v1.6h-1.6zM287.1 289.8h1.6v1.6h-1.6zM308.5 253.5h1.6v1.6h-1.6zM329.2 298.7h1.6v1.6h-1.6zM204.2 285.4h1.6v1.6h-1.6zM289.1 278.9h1.6v1.6h-1.6zM292.6 256.5h1.6v1.6h-1.6zM206.8 279.2h1.6v1.6h-1.6zM248.5 254.2h1.6v1.6h-1.6zM230.6 241.0h1.6v1.6h-1.6zM338.4 184.1h1.6v1.6h-1.6zM372.9 186.2h1.6v1.6h-1.6zM334.7 184.5h1.6v1.6h-1.6zM420.2 219.8h1.6v1.6h-1.6zM360.3 188.2h1.6v1.6h-1.6zM399.9 175.7h1.6v1.6h-1.6zM363.9 195.4h1.6v1.6h-1.6zM347.2 176.0h1.6v1.6h-1.6zM334.4 197.5h1.6v1.6h-1.6zM390.6 195.9h1.6v1.6h-1.6zM363.1 175.9h1.6v1.6h-1.6zM337.0 175.6h1.6v1.6h-1.6zM338.0 198.6h1.6v1.6h-1.6zM338.2 181.1h1.6v1.6h-1.6zM399.6 186.8h1.6v1.6h-1.6zM361.2 197.6h1.6v1.6h-1.6zM343.3 187.5h1.6v1.6h-1.6zM416.7 187.6h1.6v1.6h-1.6zM378.9 173.0h1.6v1.6h-1.6zM401.4 186.0h1.6v1.6h-1.6zM418.8 210.6h1.6v1.6h-1.6zM416.8 216.9h1.6v1.6h-1.6zM395.2 208.9h1.6v1.6h-1.6zM334.4 208.8h1.6v1.6h-1.6zM400.8 213.1h1.6v1.6h-1.6zM404.0 213.3h1.6v1.6h-1.6zM396.3 173.9h1.6v1.6h-1.6zM393.9 217.8h1.6v1.6h-1.6zM357.4 199.1h1.6v1.6h-1.6zM369.9 186.7h1.6v1.6h-1.6zM371.8 195.9h1.6v1.6h-1.6zM395.4 207.3h1.6v1.6h-1.6zM341.2 177.1h1.6v1.6h-1.6zM369.2 174.4h1.6v1.6h-1.6zM387.9 208.4h1.6v1.6h-1.6zM335.0 208.6h1.6v1.6h-1.6zM383.5 199.8h1.6v1.6h-1.6zM379.4 176.0h1.6v1.6h-1.6zM388.0 187.1h1.6v1.6h-1.6zM374.2 175.2h1.6v1.6h-1.6zM345.6 174.2h1.6v1.6h-1.6zM412.7 197.2h1.6v1.6h-1.6zM340.6 210.3h1.6v1.6h-1.6zM375.8 207.4h1.6v1.6h-1.6zM382.8 175.4h1.6v1.6h-1.6zM416.9 185.7h1.6v1.6h-1.6zM367.1 241.8h1.6v1.6h-1.6zM408.7 275.3h1.6v1.6h-1.6zM351.5 288.8h1.6v1.6h-1.6zM359.8 255.2h1.6v1.6h-1.6zM369.8 287.9h1.6v1.6h-1.6zM333.4 284.2h1.6v1.6h-1.6zM364.3 291.2h1.6v1.6h-1.6zM352.0 245.7h1.6v1.6h-1.6zM388.4 252.6h1.6v1.6h-1.6zM345.4 290.9h1.6v1.6h-1.6zM342.0 270.5h1.6v1.6h-1.6zM350.4 250.6h1.6v1.6h-1.6zM335.7 267.1h1.6v1.6h-1.6zM374.4 263.0h1.6v1.6h-1.6zM379.8 270.8h1.6v1.6h-1.6zM348.1 266.3h1.6v1.6h-1.6zM341.3 287.9h1.6v1.6h-1.6zM380.3 254.7h1.6v1.6h-1.6zM383.8 254.1h1.6v1.6h-1.6zM349.0 264.0h1.6v1.6h-1.6zM370.9 253.8h1.6v1.6h-1.6zM402.8 285.8h1.6v1.6h-1.6zM339.1 243.7h1.6v1.6h-1.6zM334.2 241.9h1.6v1.6h-1.6zM381.8 284.1h1.6v1.6h-1.6zM411.8 254.0h1.6v1.6h-1.6zM417.7 282.9h1.6v1.6h-1.6zM346.7 267.7h1.6v1.6h-1.6zM366.3 264.3h1.6v1.6h-1.6zM366.4 276.0h1.6v1.6h-1.6zM334.5 276.8h1.6v1.6h-1.6zM385.1 253.3h1.6v1.6h-1.6zM359.0 283.8h1.6v1.6h-1.6zM361.3 264.1h1.6v1.6h-1.6zM377.6 275.0h1.6v1.6h-1.6zM371.8 262.8h1.6v1.6h-1.6zM409.0 289.2h1.6v1.6h-1.6zM355.0 252.9h1.6v1.6h-1.6zM334.0 240.3h1.6v1.6h-1.6zM337.3 240.0h1.6v1.6h-1.6zM401.5 295.2h1.6v1.6h-1.6zM341.4 268.2h1.6v1.6h-1.6zM360.5 257.3h1.6v1.6h-1.6zM341.4 264.6h1.6v1.6h-1.6zM335.9 284.3h1.6v1.6h-1.6zM386.6 267.2h1.6v1.6h-1.6zM367.5 252.9h1.6v1.6h-1.6zM371.0 253.6h1.6v1.6h-1.6zM459.6 253.6h1.6v1.6h-1.6zM428.3 209.0h1.6v1.6h-1.6zM433.6 275.9h1.6v1.6h-1.6zM438.2 286.8h1.6v1.6h-1.6zM458.4 210.5h1.6v1.6h-1.6zM462.1 210.8h1.6v1.6h-1.6zM429.2 232.7h1.6v1.6h-1.6zM427.3 208.1h1.6v1.6h-1.6zM438.9 252.7h1.6v1.6h-1.6zM465.4 213.0h1.6v1.6h-1.6zM469.1 212.4h1.6v1.6h-1.6zM462.4 265.9h1.6v1.6h-1.6zM465.8 195.3h1.6v1.6h-1.6zM444.2 209.0h1.6v1.6h-1.6zM431.3 202.0h1.6v1.6h-1.6zM444.9 217.6h1.6v1.6h-1.6zM428.0 253.8h1.6v1.6h-1.6zM458.4 217.7h1.6v1.6h-1.6zM461.7 217.7h1.6v1.6h-1.6zM460.1 243.3h1.6v1.6h-1.6zM455.6 175.5h1.6v1.6h-1.6zM458.9 176.6h1.6v1.6h-1.6zM420.6 245.8h1.6v1.6h-1.6zM449.1 275.6h1.6v1.6h-1.6zM427.9 185.7h1.6v1.6h-1.6zM450.2 198.1h1.6v1.6h-1.6zM443.1 235.4h1.6v1.6h-1.6zM432.0 187.7h1.6v1.6h-1.6zM453.8 234.0h1.6v1.6h-1.6zM434.5 242.9h1.6v1.6h-1.6zM445.7 188.2h1.6v1.6h-1.6zM520.0 286.5h1.6v1.6h-1.6zM513.3 264.4h1.6v1.6h-1.6zM490.4 198.7h1.6v1.6h-1.6zM505.4 188.1h1.6v1.6h-1.6zM519.9 253.1h1.6v1.6h-1.6zM543.9 221.7h1.6v1.6h-1.6zM527.0 253.0h1.6v1.6h-1.6zM539.4 276.2h1.6v1.6h-1.6zM537.1 227.2h1.6v1.6h-1.6zM499.7 267.5h1.6v1.6h-1.6zM525.4 252.5h1.6v1.6h-1.6zM547.0 173.0h1.6v1.6h-1.6zM532.7 185.5h1.6v1.6h-1.6zM531.5 177.2h1.6v1.6h-1.6zM513.6 208.9h1.6v1.6h-1.6zM509.3 231.9h1.6v1.6h-1.6zM478.9 220.5h1.6v1.6h-1.6zM519.4 277.4h1.6v1.6h-1.6zM521.7 277.1h1.6v1.6h-1.6zM518.9 262.2h1.6v1.6h-1.6zM480.4 276.9h1.6v1.6h-1.6zM492.2 241.7h1.6v1.6h-1.6zM500.0 186.4h1.6v1.6h-1.6zM487.8 221.2h1.6v1.6h-1.6zM532.4 218.4h1.6v1.6h-1.6zM477.5 256.3h1.6v1.6h-1.6zM479.9 255.4h1.6v1.6h-1.6zM476.6 278.1h1.6v1.6h-1.6zM490.8 186.2h1.6v1.6h-1.6zM536.2 233.9h1.6v1.6h-1.6zM478.3 275.7h1.6v1.6h-1.6zM481.8 276.6h1.6v1.6h-1.6zM494.4 274.0h1.6v1.6h-1.6zM491.7 209.8h1.6v1.6h-1.6zM525.0 188.2h1.6v1.6h-1.6zM528.4 188.8h1.6v1.6h-1.6zM548.6 242.2h1.6v1.6h-1.6zM550.5 197.3h1.6v1.6h-1.6zM590.4 264.2h1.6v1.6h-1.6zM568.7 245.6h1.6v1.6h-1.6zM571.3 244.6h1.6v1.6h-1.6zM556.9 198.0h1.6v1.6h-1.6zM596.9 270.9h1.6v1.6h-1.6zM583.8 200.5h1.6v1.6h-1.6zM578.9 277.2h1.6v1.6h-1.6zM581.5 277.5h1.6v1.6h-1.6zM553.1 198.3h1.6v1.6h-1.6zM556.3 196.9h1.6v1.6h-1.6zM638.0 234.0h1.6v1.6h-1.6zM663.1 288.3h1.6v1.6h-1.6zM672.1 241.6h1.6v1.6h-1.6zM657.7 288.5h1.6v1.6h-1.6zM650.9 288.6h1.6v1.6h-1.6zM661.9 283.2h1.6v1.6h-1.6zM658.8 219.1h1.6v1.6h-1.6zM641.6 220.2h1.6v1.6h-1.6zM644.9 221.0h1.6v1.6h-1.6zM628.7 234.8h1.6v1.6h-1.6zM665.9 219.3h1.6v1.6h-1.6zM659.0 215.4h1.6v1.6h-1.6zM631.5 288.5h1.6v1.6h-1.6zM666.8 286.9h1.6v1.6h-1.6zM612.0 254.5h1.6v1.6h-1.6zM633.0 252.9h1.6v1.6h-1.6zM668.1 273.1h1.6v1.6h-1.6zM660.0 267.7h1.6v1.6h-1.6zM609.4 291.7h1.6v1.6h-1.6zM654.5 229.5h1.6v1.6h-1.6zM613.0 289.9h1.6v1.6h-1.6z" fill="#21429a"/>
<path d="M555 8.5V315.8" stroke="#e31b23" stroke-width="2.6" stroke-dasharray="9 6.5" stroke-dashoffset="-1.5"/>
<rect x="575.5" y="11.5" width="95" height="74.6" fill="#fff" stroke="#333" stroke-width="1.1"/>
<path d="M583.5 33H631" stroke="#e31b23" stroke-width="2.4"/>
<path d="M583.5 65H631" stroke="#fbb70c" stroke-width="2.4"/>
<text transform="translate(638 39.4) scale(1.12 1)" font-size="26.5" font-weight="bold">f</text><text x="646.6" y="41.6" font-size="17">1</text>
<text transform="translate(638 71.9) scale(1.12 1)" font-size="26.5" font-weight="bold">f</text><text x="646.6" y="73.4" font-size="17">2</text>
<path d="M59.5 8.5H678" stroke="#2b2b2b" stroke-width="1"/>
<path d="M60 8V317" stroke="#8a8a8a" stroke-width="1"/>
<path d="M59.5 316H678" stroke="#4a4a4e" stroke-width="2"/>
<path d="M677 8V317" stroke="#4a4a4e" stroke-width="2"/>
<g font-size="24" text-anchor="middle">
<text x="60.1" y="333">0</text>
<text x="210.4" y="333">1000</text>
<text x="360.8" y="333">2000</text>
<text x="511.1" y="333">3000</text>
<text x="661.4" y="333">4000</text>
</g>
<g font-size="24" text-anchor="end">
<text x="57.3" y="239">4</text>
<text x="57.3" y="127.6">6</text>
<text x="57.3" y="16">8</text>
</g>
<text transform="translate(368 370.2) scale(0.97 1)" font-size="27.5" text-anchor="middle">Time [h]</text>
<text transform="translate(21 162.4) rotate(-90) scale(0.935 1)" font-size="27.5" text-anchor="middle">Frequency [Hz]</text>
</g>
</svg>
</body></html>
